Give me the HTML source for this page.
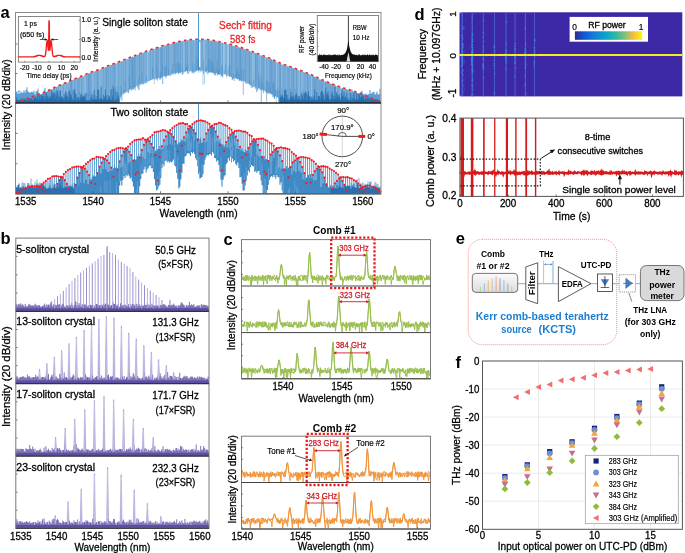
<!DOCTYPE html><html><head><meta charset="utf-8"><style>html,body{margin:0;padding:0;background:#fff;}svg{display:block;will-change:transform;}text{font-family:"Liberation Sans",sans-serif;}</style></head><body>
<svg width="685" height="553" viewBox="0 0 685 553">
<g id="pa">
<text x="0.5" y="18.2" font-size="16.5" font-weight="bold">a</text>
<path d="M18.5 102.3V103M19.1 101.6V103M21.2 101.1V103M21.7 100.8V103M26 99.8V103M28.1 98.6V103M31.3 97.4V103M31.8 97.9V103M39.2 95.1V103M40.3 94.5V103M40.8 93.9V103M43.5 92.9V103M50.9 89.9V103M53.5 89.2V103M55.1 88.1V103M59.4 85.6V103M59.9 85.3V103M60.9 85.3V103M61.5 84.6V103M63.1 84.2V103M64.7 83.4V103M65.2 83.5V103M66.8 83V103M67.8 82.7V103M69.4 81.6V103M73.1 79.7V103M76.3 78.3V103M80.6 76.7V103M83.7 76.2V103M84.8 75.3V103M85.3 75.1V103M86.9 74.7V103M92.7 72.5V103M93.3 72.3V103M95.4 71.2V103M96.5 70.8V103M99.6 70.1V103M100.2 69.4V103M102.8 68.2V103M104.4 67.9V103M107.6 66.3V103M111.8 64.9V103M113.9 63.8V103M115.5 63.4V103M116.6 63.5V103M117.7 62.9V103M118.7 62.3V102.3M120.8 61.4V96.9M121.9 61.4V100.5M124.5 60.5V93.5M127.7 58.9V91.9M136.7 55.5V86.2M141 53.8V84M142.6 53.5V84.4M147.3 51.3V82.2M147.9 51.8V82.4M148.9 50.6V80.8M151 50.1V79.4M154.2 49.1V83.9M159.5 47.6V79.5M165.4 45.4V76.7M167.5 44.6V76M169.1 44.4V74.7M171.2 44V73.6M172.2 43.3V74.9M177 42.4V72.6M181.8 41.3V72.2M183.4 41.6V74.1M183.9 40.9V72.7M184.4 41.1V72.1M189.7 40V71.5M192.9 40.2V71.9M194.5 40V72.6M196.1 39.6V72.2M198.7 40.1V72.8M199.3 39.5V70.3M200.9 40V71.1M203 39.7V84.9M203.5 39.7V73.6M204.6 39.8V84M205.1 39.6V71.1M206.7 39.9V72.9M221 42.4V76.9M221.5 42.6V75.7M223.1 42.9V75.3M223.7 43.5V74M224.2 43.7V74.1M224.7 43.4V74.1M226.8 44.4V77.9M227.4 44V74.7M227.9 43.9V76M228.4 44.1V75.2M229 44.2V75.6M230.5 45.1V77M244.3 49V81.2M245.9 49.9V83.5M247.5 50.4V83.6M250.7 51.4V85.1M252.3 51.9V87.8M252.8 52.1V84.9M253.9 52.6V86.3M254.4 52.6V87.6M258.6 54.2V87.6M259.7 54.9V88.9M260.2 55.3V89.1M265 57V90.6M265.5 57.1V91.2M275.1 61.2V96.2M276.1 61.8V103M276.7 62.3V97.8M281.4 64.5V103M282.5 64.9V103M284.1 65.2V103M290.4 67.3V103M295.2 68.7V103M298.4 69.8V103M299.4 70.3V103M301.6 72.1V103M302.6 71.6V103M303.7 72.1V103M306.3 73V103M309.5 74.5V103M311.1 75V103M311.6 75.2V103M316.9 78V103M324.4 81.6V103M336 86.4V103M336.5 86V103M340.3 87.5V103M340.8 87.4V103M347.7 89.9V103M350.3 91V103M351.9 91.3V103M352.4 91V103M355.1 92.2V103M358.3 93.2V103M364.1 95.8V103M366.2 96.5V103M366.8 96.6V103M369.4 97.5V103M376.8 100.6V103M377.4 100.9V103" stroke="#7ab4de" stroke-width="0.62" fill="none"/>
<path d="M17 102.5V103M18 102.2V103M19.6 102.1V103M22.8 100.8V103M23.3 100.1V103M26.5 99.9V103M28.6 98.3V103M29.1 98.2V103M29.7 99.1V103M30.2 97.9V103M30.7 97.5V103M32.9 97.2V103M35 96V103M36 95.9V103M37.6 95V103M38.2 95.4V103M39.7 95V103M42.9 93.7V103M44 93V103M44.5 92.5V103M45 92.5V103M51.4 89.8V103M52.5 89.1V103M54.1 88.2V103M54.6 87.7V103M55.6 87.5V103M56.2 87.1V103M57.2 86.6V103M57.8 86.9V103M62.5 84.7V103M65.7 82.8V103M67.3 82.3V103M71 80.9V103M72.1 80.2V103M73.7 79.5V103M74.2 79.5V103M75.8 78.6V103M76.8 78.6V103M77.4 78V103M79 77.3V103M79.5 77.1V103M82.1 76.1V103M83.2 76V103M84.3 75.5V103M85.9 74.5V103M87.4 74.5V103M91.7 72.6V103M92.2 72.4V103M93.8 71.5V103M98.6 70.4V103M100.7 69.4V103M101.2 68.9V103M101.8 69.2V103M102.3 69V103M105.5 67.1V103M108.6 66.4V103M109.2 66.3V103M109.7 65.7V103M110.2 65.4V103M111.3 65V103M112.9 64.3V103M116.1 63.3V103M117.1 63.1V103M120.3 61.8V98.5M122.4 61V93.5M123 60.6V94.8M124 60.9V93.7M126.7 59.5V91M127.2 58.7V92.1M128.3 59.1V93.5M129.3 58V89.5M130.4 57.6V88.8M133 56.9V87.4M134.1 56.3V87.1M137.8 54.7V88.3M138.3 54.8V86.1M138.9 54.3V90M141.5 53.2V84.2M143.6 52.7V83.9M144.2 52.2V82.8M144.7 52V83.4M145.2 51.9V83.4M145.7 52.1V81.4M146.3 51.4V83.1M148.4 52.2V81M149.5 50.8V81.1M150 50V80.8M151.6 50.1V80M152.6 49.2V78.9M154.8 48.8V79.9M155.8 48.7V79.1M157.9 48.1V78.3M159 47.1V77.2M160.1 47.7V79.1M162.2 46.3V77.1M163.2 45.9V75.7M163.8 45.7V76.2M164.8 45.9V75.3M169.6 44.9V75.4M170.7 44.2V76.2M172.8 43.2V73.4M173.3 43.1V74.7M174.9 43.3V73.7M176 42.3V73.1M179.1 41.8V72.6M179.7 42.1V72.7M181.3 41.4V72.3M182.3 41.1V74.7M185.5 40.8V71.6M187.1 40.3V71M188.1 40V70.8M188.7 39.8V74M189.2 40.3V71M190.8 39.8V70.7M191.3 39.8V70.7M192.4 39.8V73M194 40.2V71.7M195 40V71.8M197.7 39.5V70M200.3 40V71.7M204 39.7V70.9M206.2 39.7V71M207.8 40V74.7M209.9 41V71.6M210.9 40.6V72.4M211.5 40.7V72.3M212.5 41.3V72.8M213.1 40.8V72.1M214.1 41.1V74.2M214.6 42V72.9M215.7 41.4V73.2M216.2 41.7V73.1M217.3 41.5V75.3M217.8 42.1V74.3M218.9 42.3V74M225.2 43.3V74.4M225.8 43.4V74.4M230 44.4V76.6M233.2 46V79M233.7 45.7V77.4M234.3 46.3V81.1M235.8 46.6V78M238 47V79.6M238.5 46.9V79.2M239 47.9V79.4M242.2 48.5V80.7M243.3 48.6V95M248.6 50.4V84M253.3 52.5V86.7M256 53.7V86.7M260.8 55.8V90.1M262.3 56.3V89.2M264.5 56.5V90.2M266.6 57.5V101.7M267.1 57.6V92.6M267.6 58V94.1M268.2 58.4V93.2M268.7 58.9V92.8M269.2 59.2V92.3M270.3 58.8V93.4M271.9 59.4V94.7M273.5 60.9V96.5M277.2 62V96.9M277.7 62.8V97.2M278.2 63.7V98.3M278.8 62.8V102.3M279.3 63.3V100.6M280.9 63.6V103M283 64.8V103M285.7 65.3V103M286.2 65.5V103M286.7 65.7V103M287.3 66.4V103M288.8 67V103M291 67.2V103M291.5 67.6V103M292.6 67.7V103M293.1 68.4V103M294.1 68.3V103M295.7 69.2V103M296.3 69.5V103M297.9 69.7V103M298.9 70.7V103M300 71.1V103M301 71V103M302.1 71.3V103M304.7 72.8V103M309 74.2V103M312.2 75.5V103M313.2 75.9V103M318 78.8V103M319.1 78.5V103M320.1 79.1V103M322.8 80.3V103M323.8 81.5V103M326.5 82.1V103M328.6 83.1V103M329.7 83.1V103M333.4 85V103M333.9 85.5V103M337.1 86.3V103M338.7 86.8V103M339.2 87.3V103M339.7 87.2V103M341.3 88V103M341.8 89.1V103M342.9 88.3V103M344 89.2V103M344.5 89.1V103M345.6 89V103M349.8 90.2V103M351.4 91.3V103M353.5 91.6V103M357.7 93V103M359.3 93.9V103M359.9 93.8V103M362.5 95V103M363.6 95.2V103M368.3 98V103M369.9 98.4V103M371 98.6V103M372.6 99.1V103M373.6 99.9V103M374.2 99.7V103M374.7 100V103M375.2 99.9V103M379.5 102.1V103" stroke="#5699cf" stroke-width="0.62" fill="none"/>
<path d="M15.9 102.9V103M16.4 102.7V103M20.1 101.5V103M20.7 101.3V103M22.3 100.5V103M23.8 100.3V103M25.4 100.3V103M27 98.9V103M32.3 97.1V103M33.4 96.9V103M33.9 96.9V103M36.6 95.4V103M37.1 95.2V103M38.7 94.6V103M41.3 94V103M45.6 92V103M46.1 92V103M46.6 92.2V103M47.2 91.5V103M47.7 91V103M48.2 90.9V103M51.9 89.6V103M53 88.8V103M58.3 86.2V103M58.8 85.8V103M60.4 85.1V103M62 84.6V103M63.6 83.7V103M64.1 83.8V103M68.4 82.7V103M68.9 81.6V103M70.5 81.9V103M72.6 80.1V103M75.3 79.3V103M78.4 77.9V103M80 77.1V103M81.1 77.4V103M81.6 76.7V103M82.7 76.8V103M86.4 75V103M88.5 73.5V103M89.6 73.5V103M90.1 73.4V103M90.6 72.9V103M91.2 72.5V103M94.3 71.7V103M94.9 71.1V103M95.9 70.8V103M97.5 70.3V103M98 70V103M99.1 69.9V103M103.9 68.6V103M104.9 67.3V103M106 67.2V103M106.5 66.9V103M112.4 64.7V103M113.4 64.1V103M119.2 62.2V101.4M119.8 62V100.4M123.5 60.6V92.7M125.1 60.1V92.1M125.6 60.2V92.4M126.1 59.6V92.8M128.8 59.2V92.7M130.9 57.3V88.5M131.4 57.5V90.6M134.6 55.8V87.6M135.7 55.9V87.1M136.2 55.5V85.8M137.3 55.2V86M139.9 54.8V83.9M140.4 54.3V85.2M146.8 52.3V81.4M150.5 50.4V80.1M152.1 49.4V79.8M153.2 49V78.7M153.7 48.9V79.3M155.3 48.4V78.2M156.3 48.2V79.4M157.4 48.2V80.8M158.5 47.4V78.1M160.6 47.4V79.4M161.6 46.7V77M164.3 45.6V76.3M165.9 45.2V78.5M166.4 45.5V75.8M168.5 44.6V75.7M170.1 44.7V75.3M171.7 43.8V74.2M174.4 42.7V73M176.5 42.4V72.9M177.5 42.7V72.4M178.1 42.1V73.6M178.6 41.8V73.7M180.2 41.5V73.1M186 40.6V70.9M186.6 41V70.8M187.6 40.3V73.4M190.3 40.7V71.5M193.4 40.1V73.4M195.6 40.2V71.1M197.2 40.4V70.5M201.4 40V70.6M201.9 39.8V71.6M202.5 39.7V70.4M205.6 39.7V71.8M208.8 40.7V72.6M209.3 40.1V72.3M210.4 40.8V72.6M213.6 41V73.4M219.9 42.5V74.1M220.5 42.6V74.5M222.1 42.5V75.6M222.6 42.8V77.2M226.3 43.9V76.1M231.1 45.1V76.5M232.1 45.2V79.6M232.7 46.1V80.2M234.8 45.9V78.5M235.3 46.1V77.8M236.9 46.5V78.3M237.4 47.3V79.1M240.1 47.8V79.2M241.1 48.2V79.9M241.7 48V81.5M242.7 48.4V81.1M243.8 48.6V80.9M246.4 50.2V84.1M247 49.8V82.3M248 50.9V83.5M249.1 50.9V83.4M250.2 51.4V85.4M251.2 52.1V87.7M251.7 51.9V85.5M254.9 53V87M256.5 53.4V92.2M257 53.6V88.4M257.6 54.2V90.9M258.1 54.4V89.3M261.3 55.2V102.2M261.8 55.9V90.4M263.4 56.3V93.3M263.9 56.7V91.2M266.1 57.2V92.4M272.4 60.6V94.5M272.9 60.4V97.3M274 60.9V97.6M274.5 61.3V98.8M282 64.5V103M283.5 64.7V103M284.6 65.9V103M285.1 65.3V103M287.8 66.1V103M288.3 66.2V103M289.4 67.5V103M289.9 66.8V103M294.7 68.6V103M297.3 69.7V103M300.5 71V103M303.2 71.8V103M304.2 72.3V103M305.3 72.7V103M305.8 73V103M306.9 73.8V103M307.9 73.7V103M308.5 73.9V103M310 75.3V103M310.6 74.9V103M312.7 75.9V103M314.3 76.5V103M315.3 77.5V103M315.9 77.3V103M317.5 77.9V103M318.5 78.7V103M319.6 80V103M320.6 79.9V103M321.2 80.1V103M323.3 80.5V103M324.9 81.1V103M325.9 82.2V103M327 82.2V103M327.5 82.4V103M328.1 82.5V103M330.7 83.7V103M331.2 84.2V103M331.8 84.1V103M334.4 85.2V103M335.5 85.5V103M337.6 86.6V103M345 88.9V103M348.2 90.6V103M348.7 89.9V103M350.9 90.5V103M353 91.2V103M354 91.9V103M354.6 92.3V103M357.2 93.1V103M360.4 94.4V103M360.9 94.5V103M361.5 94.7V103M362 94.6V103M363 95.2V103M365.2 95.9V103M365.7 96.4V103M368.9 97.2V103M370.5 97.9V103M371.5 98.4V103M373.1 99.8V103M376.3 100.6V103M378.4 101.3V103M378.9 101.9V103M380 101.8V103M380.5 102.4V103" stroke="#478ec9" stroke-width="0.62" fill="none"/>
<path d="M17.5 102.6V103M24.4 100.4V103M24.9 99.8V103M27.6 99.3V103M34.4 96.5V103M35.5 96.2V103M41.9 94.4V103M42.4 93.6V103M48.8 90.5V103M49.3 90.8V103M49.8 90.2V103M50.3 89.8V103M56.7 86.9V103M66.2 82.8V103M70 81V103M71.5 80.6V103M74.7 79.2V103M77.9 78.1V103M88 73.6V103M89 73.3V103M97 70.3V103M103.3 68.2V103M107.1 66.7V103M108.1 66.6V103M110.8 65V103M114.5 64.2V103M115 63.7V103M118.2 62.3V103M121.4 61.7V95.5M129.8 57.7V90.1M132 57.6V89.9M132.5 56.7V89.2M133.6 57V89.3M135.1 55.8V90.5M139.4 54.1V84.3M142 53V83.1M143.1 52.8V84.5M156.9 48.2V78.3M161.1 46.7V77.7M162.7 47.3V84M166.9 44.9V76.3M168 45.2V74.7M173.8 42.9V73M175.4 42.7V74.4M180.7 41.8V72.3M182.8 41V71.9M185 41V71.6M191.9 40.2V72.5M196.6 39.7V70.5M198.2 39.7V70.8M199.8 40.2V70.3M207.2 40.6V70.9M208.3 39.8V72.6M212 40.5V72.7M215.2 41V75.5M216.8 41.3V73M218.4 41.7V74.4M219.4 42.4V74.6M229.5 44.7V76.9M231.6 45.2V77.2M236.4 47.5V78.7M239.6 47.4V80.8M240.6 48.1V80.8M244.9 49.4V81.7M245.4 49.3V82.7M249.6 51.2V84.5M255.5 53V88.8M259.2 55.2V88.2M262.9 56.3V89.5M269.8 58.6V94.2M270.8 59V93.2M271.4 59.3V94.3M275.6 61.5V96.3M279.8 63.5V102.9M280.4 63.8V103M292 67.9V103M293.6 68.4V103M296.8 69.3V103M307.4 73.5V103M313.8 76.4V103M314.8 76.6V103M316.4 77.8V103M321.7 80V103M322.2 80.5V103M325.4 81.4V103M329.1 83.2V103M330.2 83.6V103M332.3 84.2V103M332.8 84.5V103M335 85.2V103M338.1 87.5V103M342.4 88V103M343.4 88.6V103M346.1 89.4V103M346.6 89.4V103M347.1 89.4V103M349.3 90V103M355.6 92.1V103M356.2 92.5V103M356.7 93.1V103M358.8 93.5V103M364.6 95.6V103M367.3 97.2V103M367.8 97.9V103M372.1 98.7V103M375.8 100.2V103M377.9 101.4V103" stroke="#3781c0" stroke-width="0.62" fill="none"/>
<path d="M41.3 101.4V103M42.4 99.2V103M45.6 99.2V103M46.6 100.4V103M48.8 99.7V103M50.9 99.5V103M51.9 97.9V103M54.1 98.1V103M56.2 95.9V103M58.3 97.8V103M62.5 99.5V103M64.7 100.8V103M65.7 98.6V103M66.8 95.5V103M67.8 100.6V103M68.9 100.2V103M70 95.6V103M71 100.7V103M72.1 99.6V103M73.1 100.3V103M75.3 96.6V103M76.3 95.4V103M77.4 97.7V103M79.5 91.5V103M81.6 94.2V103M82.7 94.7V103M83.7 95.9V103M84.8 93V103M86.9 93.5V103M88 92.6V103M90.1 93V103M91.2 92V103M93.3 93.7V103M94.3 98V103M95.4 97.9V103M97.5 90.2V103M99.6 90.8V103M100.7 95.1V103M104.9 99.1V103M111.3 89.3V103M112.4 98.3V103M115.5 86.9V103M116.6 90.6V103M117.7 86.2V103M120.8 84.8V96.9M121.9 90.3V100.5M124 88.9V93.7M125.1 81.1V92.1M129.3 77.5V89.5M130.4 85.3V88.8M133.6 85.9V89.3M134.6 79.5V87.6M138.9 77.3V90M142 71V83.1M146.3 76.2V83.1M152.6 67.4V78.9M156.9 65.9V78.3M160.1 71.7V79.1M161.1 74.6V77.7M162.2 64.1V77.1M164.3 67V76.3M165.4 66.2V76.7M166.4 64.9V75.8M168.5 68.9V75.7M171.7 70.7V74.2M172.8 63.5V73.4M176 64V73.1M178.1 62.6V73.6M179.1 62.9V72.6M180.2 65.5V73.1M182.3 67.9V74.7M185.5 67.8V71.6M186.6 65.8V70.8M187.6 63.1V73.4M192.9 63.2V71.9M195 63.5V71.8M197.2 58.2V70.5M198.2 60.6V70.8M199.3 61.1V70.3M203.5 59.1V73.6M205.6 68V71.8M206.7 65.4V72.9M208.8 59.1V72.6M209.9 59.2V71.6M210.9 60.3V72.4M212 63.3V72.7M213.1 61.7V72.1M214.1 67.2V74.2M215.2 72V75.5M216.2 69.1V73.1M217.3 60.8V75.3M218.4 70.1V74.4M219.4 69.7V74.6M221.5 65V75.7M222.6 67.2V77.2M224.7 70.2V74.1M225.8 64.4V74.4M227.9 69.5V76M229 66.7V75.6M230 64.4V76.6M233.2 73.1V79M235.3 74.6V77.8M236.4 71.3V78.7M237.4 67.6V79.1M238.5 71.5V79.2M239.6 74.1V80.8M241.7 69.2V81.5M243.8 69.9V80.9M250.2 80.6V85.4M252.3 83.6V87.8M253.3 79.5V86.7M258.6 73V87.6M259.7 80.4V88.9M260.8 75.7V90.1M261.8 81.8V90.4M262.9 83.4V89.5M263.9 86.3V91.2M266.1 81V92.4M267.1 80.4V92.6M268.2 81.9V93.2M269.2 82.9V92.3M270.3 88.4V93.4M272.4 83.1V94.5M273.5 82.5V96.5M274.5 84.3V98.8M275.6 89.2V96.3M276.7 90.2V97.8M277.7 87.7V97.2M278.8 90.4V102.3M279.8 89.9V102.9M282 88.6V103M283 96.3V103M286.2 94.6V103M288.3 95V103M290.4 88.8V103M292.6 91.7V103M295.7 88.6V103M298.9 95.7V103M300 94.8V103M301 96V103M302.1 96V103M303.2 89.8V103M304.2 92.1V103M305.3 91.5V103M307.4 98.2V103M308.5 95.4V103M312.7 95.2V103M313.8 96.7V103M314.8 96.1V103M315.9 99.1V103M316.9 97.5V103M319.1 97.1V103M320.1 94.4V103M321.2 92.8V103M323.3 94.4V103M324.4 99.4V103M326.5 97.9V103M330.7 97.8V103M333.9 100.6V103M335 95.4V103M338.1 96.2V103M339.2 99.1V103M340.3 99.1V103M342.4 100.8V103M343.4 99.3V103M344.5 98.4V103M345.6 96.7V103M346.6 98.2V103M347.7 97.9V103M348.7 100.3V103M350.9 101.2V103M353 97.7V103M355.1 98.5V103M360.4 100.1V103M361.5 101.1V103" stroke="#3d86c3" stroke-width="0.7" fill="none" opacity="0.6"/>
<path d="M16 92.1V103M17 91.2V103M18 94V103M19 90V103M20 93.5V103M21 91.3V103M22 92.9V103M23 92.5V103M24 90.1V103M25 92.5V103M26 90.1V103M27 87.3V103M28 91.6V103M29 92.1V103M30 92.9V103M31 92.1V103M32 91.6V103M33 92.5V103M34 90.5V103M35 94.4V103M36 91.6V103M37 91V103M38 88.7V103M39 93V103M40 94.9V103M41 94.9V103M42 94.9V103M43 93.9V103M44 90.6V103M45 87.7V103M46 92.2V103M47 92.2V103M48 94.3V103M49 93.4V103M50 94.7V103M51 93.3V103M52 93.9V103M53 93.5V103M54 88V103M55 91.8V103M56 91V103M57 90.8V103M58 91.9V103M59 94.5V103M351 92.9V103M352 89.6V103M353 93.7V103M354 92V103M355 93.5V103M356 94.8V103M357 93.4V103M358 94.4V103M359 93.5V103M360 94V103M361 91.8V103M362 91V103M363 93.8V103M364 94.2V103M365 94.4V103M366 93.3V103M367 95V103M368 94.3V103M369 94.1V103M370 90.1V103M371 93.9V103M372 92.6V103M373 92.3V103M374 91.4V103M375 94.7V103M376 93.2V103M377 91.6V103M378 94.7V103M379 93.9V103M380 88.7V103" stroke="#5a9dd2" stroke-width="1.05" fill="none"/>
<path d="M16 97V103M17 98.8V103M18 100V103M19 100.1V103M20 100.3V103M21 98.3V103M22 100V103M23 100.3V103M24 98.3V103M25 99.3V103M26 99.7V103M27 100.1V103M28 100.2V103M29 99.9V103M30 100.2V103M31 99.9V103M32 98.3V103M33 100V103M34 99.4V103M35 98.9V103M36 99.5V103M37 98.8V103M38 99.5V103M39 100.4V103M40 99.2V103M41 97.9V103M42 99.7V103M43 99.3V103M44 96.3V103M45 99.6V103M46 99.6V103M47 98.1V103M48 99.2V103M49 96.5V103M50 98.5V103M51 98.8V103M52 99.6V103M53 100.1V103M54 99.5V103M55 99.1V103M56 100.3V103M57 99.9V103M58 100.4V103M59 100.3V103M60 99.6V103M61 99.3V103M62 97.9V103M63 98.7V103M64 100.2V103M65 99.9V103M66 100.5V103M67 96.6V103M68 100.4V103M69 98.5V103M70 100.1V103M71 100.1V103M72 98.9V103M73 100.5V103M74 99.4V103M75 100.2V103M76 100.5V103M77 99.7V103M78 97V103M79 99.3V103M80 100V103M81 97.7V103M82 100V103M83 99.6V103M84 97.6V103M85 98.3V103M86 99.7V103M87 100.4V103M88 100.3V103M89 100.4V103M90 100.1V103M91 98.1V103M92 95.1V103M93 99.5V103M94 99.3V103M95 99.9V103M96 98.9V103M97 100.1V103M98 98.8V103M99 100.2V103M100 98.7V103M101 98.1V103M102 99.8V103M103 99.1V103M104 100V103M105 97.4V103M106 100V103M107 98.9V103M108 100V103M109 96V103M110 98.7V103M111 100V103M112 99.5V103M113 100.1V103M114 100.2V103M115 99V103M116 100.4V103M117 99.8V103M118 99.4V103M119 99.3V103M280 98.8V103M281 100.3V103M282 97.6V103M283 100.1V103M284 98.7V103M285 97V103M286 100.1V103M287 94.8V103M288 99.1V103M289 100V103M290 99.7V103M291 97.1V103M292 96.2V103M293 99.2V103M294 98.3V103M295 99.9V103M296 100.4V103M297 99.6V103M298 99V103M299 98V103M300 100.3V103M301 99.9V103M302 100.5V103M303 99.1V103M304 99.6V103M305 99.2V103M306 100.1V103M307 100V103M308 99.7V103M309 97.6V103M310 99.4V103M311 100.4V103M312 98.7V103M313 99.9V103M314 99.9V103M315 100V103M316 100.1V103M317 100.3V103M318 99.9V103M319 98.6V103M320 100.3V103M321 98.1V103M322 97.9V103M323 99.2V103M324 100.5V103M325 99.6V103M326 100V103M327 97.9V103M328 95.8V103M329 99.8V103M330 99.2V103M331 99.3V103M332 99.8V103M333 98.3V103M334 99.6V103M335 99.5V103M336 99.6V103M337 98.5V103M338 98.8V103M339 96.6V103M340 99.4V103M341 100.1V103M342 96.1V103M343 100.5V103M344 100.2V103M345 97.6V103M346 99.7V103M347 99.2V103M348 99.9V103M349 100.5V103M350 99.5V103M351 100.5V103M352 97.3V103M353 100.4V103M354 99.2V103M355 99.2V103M356 100V103M357 98.4V103M358 99.8V103M359 99.5V103M360 99.6V103M361 97V103M362 99.5V103M363 97.7V103M364 99.2V103M365 99.7V103M366 98.5V103M367 98.2V103M368 96.5V103M369 100.2V103M370 98.5V103M371 99.5V103M372 99.7V103M373 98.7V103M374 98.9V103M375 99V103M376 99.7V103M377 100.5V103M378 100.1V103M379 100.1V103M380 100.3V103" stroke="#2a70b1" stroke-width="1.05" fill="none"/>
<path d="M17.9 102.8V103M19.3 102.3V103M20.7 101.8V103M22.1 101.3V103M22.8 101.1V103M24.2 100.6V103M24.9 100.4V103M26.3 99.9V103M28.4 99.1V103M29.1 98.9V103M29.8 98.6V103M30.5 98.4V103M31.2 98.1V103M34 97.1V103M34.7 97.3V103M35.4 96.6V103M36.1 97.4V103M37.5 95.8V103M38.9 95.3V103M39.6 95.1V103M41 94.6V103M41.7 95.9V103M42.4 96.2V103M43.1 93.8V103M43.8 97.2V103M45.9 92.6V103M46.6 93V103M47.3 96V103M50.1 97.7V103M50.8 96.3V103M51.5 90V103M52.2 95.3V103M52.9 92.4V103M53.6 93V103M54.3 95V103M55 92.8V103M55.7 97.5V103M56.4 94.6V103M57.1 90.2V103M57.8 91.8V103M58.5 96.6V103M59.2 97.3V103M59.9 90.1V103M60.6 90.8V103M61.3 96.2V103M62 97V103M62.7 97.1V103M64.1 94V103M64.8 96.5V103M65.5 91.5V103M66.2 95.8V103M66.9 92.8V103M67.6 97.3V103M69 91.1V103M69.7 90.5V103M70.4 94.7V103M71.1 94V103M71.8 97V103M73.2 90.2V103M74.6 89.1V103M75.3 93.7V103M76 93.5V103M78.1 97.4V103M80.2 96.9V103M80.9 93.7V103M81.6 94.7V103M82.3 96.3V103M83 97.8V103M83.7 96.5V103M84.4 95.4V103M85.8 93.2V103M94.2 89.9V103M94.9 95.2V103M97 96.3V103M97.7 89.7V103M98.4 89.5V103M101.2 86.6V103M103.3 94.8V103M104.7 96.5V103M105.4 89.6V103M106.1 95.5V103M108.2 95.1V103M109.6 97.8V103M111 89.4V103M112.4 95.5V103M113.1 85.8V103M113.8 88.6V103M115.9 92.2V103M117.3 97.1V103M118 92.4V103M118.7 95.5V103M280.4 96.8V103M281.1 94.7V103M281.8 96.5V103M282.5 95.2V103M283.9 97.8V103M284.6 90.1V103M285.3 89.7V103M286 89.7V103M290.2 97V103M290.9 92.3V103M292.3 97.9V103M293.7 95.5V103M295.1 96.5V103M295.8 94V103M296.5 93.5V103M297.9 95.8V103M299.3 96.4V103M301.4 92.8V103M302.1 96.9V103M302.8 94.7V103M304.2 92.9V103M304.9 93.7V103M305.6 91.7V103M306.3 92.8V103M307.7 94.9V103M308.4 91.2V103M309.1 96V103M309.8 96.5V103M311.2 96.4V103M311.9 97.8V103M314 96.1V103M314.7 89.3V103M316.8 92.1V103M318.2 96.3V103M318.9 96.1V103M319.6 96.1V103M321 92.3V103M321.7 91.1V103M322.4 91.3V103M323.1 94.3V103M323.8 95.6V103M325.2 92.2V103M325.9 87.6V103M326.6 94.6V103M327.3 93.3V103M328 91.4V103M328.7 95.4V103M331.5 94V103M332.2 91.9V103M333.6 95.5V103M335 87V103M335.7 96.1V103M336.4 92V103M337.1 94.2V103M337.8 95.1V103M338.5 97.2V103M339.2 94.2V103M339.9 97.2V103M341.3 92.9V103M342 89.8V103M342.7 96.8V103M343.4 95.5V103M344.1 92.1V103M345.5 96.6V103M346.9 93.2V103M348.3 97.9V103M350.4 93V103M353.2 97.9V103M353.9 92.2V103M356.7 93.2V103M358.8 94V103M359.5 94.6V103M360.9 96.8V103M361.6 95.1V103M362.3 95.4V103M363 95.7V103M363.7 96V103M365.8 96.8V103M368.6 97.9V103M370 98.5V103M370.7 98.8V103M371.4 99V103M372.8 99.6V103M373.5 99.9V103M374.2 100.2V103M374.9 100.5V103M377.7 101.6V103M378.4 101.9V103" stroke="#256dae" stroke-width="0.8" fill="none"/>
<path d="M198.5 13V70M198.5 103.5V174" stroke="#3b8ccb" stroke-width="0.9"/>
<path d="M199.7 42V67" stroke="#fff" stroke-width="1.2"/>
<polyline points="15.5,103 17.5,101.9 19.5,101.2 21.5,100.5 23.5,99.8 25.5,99.1 27.5,98.4 29.5,97.7 31.5,97 33.5,96.3 35.5,95.6 37.5,94.8 39.5,94.1 41.5,93.4 43.5,92.7 45.5,91.8 47.5,90.8 49.5,89.9 51.5,89 53.5,88 55.5,87.1 57.5,86.1 59.5,85.2 61.5,84.4 63.5,83.5 65.5,82.7 67.5,81.8 69.5,81 71.5,80.1 73.5,79.3 75.5,78.5 77.5,77.6 79.5,76.8 81.5,76 83.5,75.2 85.5,74.4 87.5,73.6 89.5,72.8 91.5,72.1 93.5,71.4 95.5,70.6 97.5,69.9 99.5,69.1 101.5,68.4 103.5,67.6 105.5,66.9 107.5,66.1 109.5,65.3 111.5,64.5 113.5,63.8 115.5,63 117.5,62.3 119.5,61.5 121.5,60.7 123.5,60 125.5,59.2 127.5,58.4 129.5,57.6 131.5,56.8 133.5,56 135.5,55.3 137.5,54.5 139.5,53.7 141.5,53 143.5,52.2 145.5,51.5 147.5,50.7 149.5,50 151.5,49.3 153.5,48.7 155.5,48.1 157.5,47.4 159.5,46.8 161.5,46.1 163.5,45.5 165.5,45 167.5,44.4 169.5,43.9 171.5,43.3 173.5,42.7 175.5,42.2 177.5,41.8 179.5,41.4 181.5,41 183.5,40.6 185.5,40.2 187.5,39.8 189.5,39.6 191.5,39.5 193.5,39.4 195.5,39.3 197.5,39.2 199.5,39.3 201.5,39.3 203.5,39.4 205.5,39.4 207.5,39.5 209.5,39.8 211.5,40.1 213.5,40.4 215.5,40.8 217.5,41.2 219.5,41.7 221.5,42.1 223.5,42.6 225.5,43 227.5,43.5 229.5,44 231.5,44.6 233.5,45.2 235.5,45.8 237.5,46.4 239.5,47 241.5,47.6 243.5,48.3 245.5,49 247.5,49.8 249.5,50.5 251.5,51.3 253.5,52 255.5,52.8 257.5,53.5 259.5,54.3 261.5,55 263.5,55.8 265.5,56.5 267.5,57.3 269.5,58.1 271.5,59 273.5,60 275.5,60.9 277.5,61.8 279.5,62.7 281.5,63.6 283.5,64.3 285.5,65 287.5,65.7 289.5,66.4 291.5,67.1 293.5,67.8 295.5,68.5 297.5,69.3 299.5,70.1 301.5,70.8 303.5,71.6 305.5,72.4 307.5,73.2 309.5,74 311.5,74.8 313.5,75.7 315.5,76.6 317.5,77.5 319.5,78.5 321.5,79.4 323.5,80.3 325.5,81.2 327.5,82 329.5,82.8 331.5,83.6 333.5,84.4 335.5,85.2 337.5,85.9 339.5,86.7 341.5,87.4 343.5,88 345.5,88.6 347.5,89.2 349.5,89.8 351.5,90.4 353.5,91 355.5,91.7 357.5,92.5 359.5,93.3 361.5,94.1 363.5,94.9 365.5,95.7 367.5,96.5 369.5,97.3 371.5,98.1 373.5,98.9 375.5,99.7 377.5,100.6 379.5,101.4" fill="none" stroke="#ea282c" stroke-width="1.6" stroke-dasharray="2.6 3.2"/>
<path d="M16.3 192.7V193.8M19.5 192.3V193.8M21.6 190V193.8M23.7 188.9V193.8M25.8 187.8V193.8M27.9 186.7V193.8M30 186.6V193.8M32.1 186.1V193.8M34.2 186.3V193.8M36.3 186.7V193.8M38.5 186.5V193.8M41.6 184.3V193.8M43.7 182.6V193.8M45.8 180.9V193.8M47.9 178.8V193.8M50.1 178.3V193.8M52.2 176.5V193.8M54.3 176.2V193.4M56.4 176V193.8M58.5 176.5V193.8M63.8 174V193.5M65.9 171.8V190.5M68 170.1V190.2M70.1 169.1V186.7M72.2 167.6V185.2M74.3 167V184M76.4 166.7V185.1M78.5 166.5V186.4M80.7 166.9V183.4M83.8 166V184.3M85.9 163.9V180.7M88 162.1V185.1M90.1 160.4V180.5M92.3 158.9V178M94.4 158.6V177.5M96.5 156.9V176M98.6 157.1V175.7M100.7 157.6V174.4M102.8 157.6V170.3M106 156.2V170.6M108.1 154V173M110.2 151.9V172.2M112.3 150.3V171.6M114.4 149.8V166.4M116.5 148.5V167.8M118.6 148V166.6M120.7 147.8V168.4M122.9 148.3V167.3M128.1 146.5V164.3M130.2 143.9V162.9M132.3 142.1V161.8M134.5 140.4V160.2M136.6 139.8V160.5M138.7 139.5V155.1M140.8 139.4V155M142.9 138.2V157.7M145 139.7V159.9M148.2 138.7V152.9M150.3 137V154.5M152.4 135.2V153.7M154.5 132.4V154M156.6 131.8V152.1M158.7 131.5V150.1M160.8 130.8V150.5M162.9 130.1V149.8M165.1 130.4V146.8M167.2 131.5V146.5M170.3 130.2V145M172.4 128.2V146.2M174.5 126.4V146.3M176.7 125V143.9M178.8 123.7V143.1M180.9 123.3V142M183 123.2V141.7M185.1 124.2V142.7M187.2 124V138.9M192.5 124.2V136.9M194.6 122.4V141.4M196.7 121.2V140.5M198.8 120.6V144.6M200.9 120.3V138.6M203 120.9V141.8M205.1 121.3V143.2M207.3 122.5V142.4M209.4 123.9V139.3M214.6 124.2V143.9M216.7 123.9V142.3M218.9 122.8V142.7M221 123.1V144.4M223.1 124.4V145.6M225.2 125.2V145.4M227.3 126V148.6M229.4 128.2V149.6M231.5 129.8V148.5M234.7 131.1V146.3M236.8 130.9V149.5M238.9 130.6V149.9M241 131V151.5M243.1 131.6V152.2M245.2 131.7V150.5M247.3 132.9V152M249.5 135.1V154.3M251.6 136.2V158.1M256.8 139.1V155.6M258.9 138.8V157.8M261.1 138.7V157M263.2 138.7V158.3M265.3 139.8V160.7M267.4 140.8V160.8M269.5 142.5V162.9M271.6 143.6V162.2M273.7 145.8V158.8M279 147.8V168.5M281.1 147.3V169.7M283.2 148V169.2M285.3 148.2V169.5M287.4 148.8V170.2M289.5 149.6V167.5M291.7 152V175.6M293.8 153.9V171.9M295.9 155.7V173.1M299 157.6V171.8M301.1 157.1V173.7M303.3 157.1V180.2M305.4 157.5V180.6M307.5 158V177.7M309.6 158.5V178.9M311.7 160.2V179.2M313.8 161.6V181.4M315.9 163.9V180.9M321.2 166.4V188M323.3 166.2V184.3M325.4 166.7V185.2M327.5 167.1V187.1M329.6 168.6V188.8M331.7 169.8V188.9M333.9 171V192.1M336 172.8V190.8M338.1 174.5V191.3M341.2 177.4V193.8M343.3 177.1V193.8M345.5 177.4V193.8M347.6 177.2V193.8M349.7 178.1V193.8M351.8 178.6V193.8M353.9 180.2V193.8M356 181.3V193.8M358.1 183.6V193.8M360.2 185.3V193.8M363.4 186.9V193.8M365.5 186V193.8M367.6 185.6V193.8M369.7 185.5V193.8M371.8 187V193.8M373.9 187.4V193.8M376.1 188.7V193.8M378.2 190V193.8M380.3 191.6V193.8" stroke="#5e9fd3" stroke-width="1.05" fill="none"/>
<path d="M16.3 193.8V193.8M17.4 193.8V193.8M18.4 193.7V193.8M19.5 193.8V193.8M20.5 193.8V193.8M21.6 193.8V193.8M22.6 193.8V193.8M23.7 193.8V193.8M24.7 193.8V193.8M25.8 193.8V193.8M26.8 193.8V193.8M27.9 193.8V193.8M29 193.8V193.8M30 193.8V193.8M31.1 193.8V193.8M32.1 193.8V193.8M33.2 193.8V193.8M34.2 193.8V193.8M35.3 193.8V193.8M36.3 193.8V193.8M37.4 191V193.8M38.5 193.8V193.8M39.5 187.5V193.8M40.6 186.3V193.8M41.6 193.8V193.8M42.7 189V193.8M43.7 193.8V193.8M44.8 191.5V193.8M45.8 193.8V193.8M46.9 193.8V193.8M47.9 193.8V193.8M49 193.8V193.8M50.1 193.8V193.8M51.1 193.2V193.8M52.2 193.8V193.8M53.2 193.8V193.8M54.3 192.4V193.8M55.3 189.3V193.8M56.4 193.8V193.8M57.4 183.8V193.8M58.5 193.8V193.8M59.6 180.1V193.8M60.6 177.1V193.8M61.7 176.8V193.8M62.7 177.6V193.8M63.8 192.5V193.8M64.8 180.1V193.8M65.9 189.5V193.8M66.9 183.9V193.8M68 189.2V193.8M69 185.9V193.8M70.1 185.7V193.8M71.2 186.2V193.8M72.2 184.2V193.8M73.3 189.3V193.8M74.3 183V193.8M75.4 183.7V193.8M76.4 184.1V193.8M77.5 177.7V193.8M78.5 185.4V193.8M79.6 173.2V193.8M80.7 182.4V193.8M81.7 168.3V193.8M82.8 167.2V193.8M83.8 183.3V193.8M84.9 168.9V193.8M85.9 179.7V193.8M87 171.6V193.8M88 184.1V193.8M89.1 175.1V193.8M90.1 179.5V193.8M91.2 179.2V193.8M92.3 177V193.8M93.3 175.6V193.8M94.4 176.5V193.8M95.4 176.3V193.8M96.5 175V193.8M97.5 172.9V193.8M98.6 174.7V193.8M99.6 166.8V193.8M100.7 173.4V193.8M101.8 162.6V193.8M102.8 169.3V193.8M103.9 159.2V193.8M104.9 158.8V193.8M106 169.6V193.8M107 160.4V193.8M108.1 172V193.8M109.1 163V193.8M110.2 171.2V193.8M111.2 167.7V193.8M112.3 170.6V193.8M113.4 168.2V193.8M114.4 165.4V193.8M115.5 167.8V193.8M116.5 166.8V193.8M117.6 168.3V193.8M118.6 165.6V193.8M119.7 161.4V185.4M120.7 167.4V180.8M121.8 155.7V185.5M122.9 166.3V179.7M123.9 151.7V176.1M125 149V178M126 148.1V175M127.1 149.5V176.3M128.1 163.3V174.2M129.2 151.8V176.2M130.2 161.9V178.8M131.3 155.2V177.4M132.3 160.8V181.5M133.4 159.8V186.5M134.5 159.2V193.2M135.5 159.4V193.8M136.6 159.5V193.8M137.6 156.3V193.8M138.7 154.1V192.9M139.7 157.4V186.3M140.8 154V179.1M141.8 150.2V173.9M142.9 156.7V173.6M144 144.8V169.6M145 158.9V166.7M146.1 141.8V172.6M147.1 139.9V169.4M148.2 151.9V168.2M149.2 141.2V165.9M150.3 153.5V165.2M151.3 143.9V168.2M152.4 152.7V168.3M153.4 147.7V172M154.5 153V179.2M155.6 150.6V185.5M156.6 151.1V190.6M157.7 149V189.2M158.7 149.1V186.6M159.8 146V184.7M160.8 149.5V178M161.9 146.3V168.2M162.9 148.8V164M164 140.4V166.2M165.1 145.8V160.9M166.1 136.3V160.2M167.2 145.5V162.2M168.2 132.7V160.9M169.3 132.5V162.8M170.3 144V161.5M171.4 134.1V162.3M172.4 145.2V161.6M173.5 136.9V159.4M174.5 145.3V165.2M175.6 141.4V166.6M176.7 142.9V173.1M177.7 144.2V178.7M178.8 142.1V188.4M179.8 142.7V186.7M180.9 141V179.4M181.9 139.2V172.8M183 140.7V163.5M184 137.4V163.9M185.1 141.7V156.4M186.2 132.4V155.5M187.2 137.9V153.2M188.3 128.8V153.3M189.3 126V153.5M190.4 126V156M191.4 127.7V152.1M192.5 135.9V153.3M193.5 130V151.8M194.6 140.4V154M195.6 133.4V158.3M196.7 139.5V160.3M197.8 137.9V166.2M198.8 143.6V171.8M199.9 138.9V178.4M200.9 137.6V178M202 142.8V176.9M203 140.8V174.3M204.1 139V164.7M205.1 142.2V159.5M206.2 133.5V156.7M207.3 141.4V155M208.3 129.8V155.6M209.4 138.3V154.3M210.4 127V154M211.5 126.1V155.6M212.5 125.5V151.8M213.6 128V153.5M214.6 142.9V158M215.7 131.6V158.2M216.7 141.3V161.7M217.8 136.7V160.2M218.9 141.7V165M219.9 138.7V171.8M221 143.4V179.4M222 144.4V186.7M223.1 144.6V179.7M224.1 146.5V176.4M225.2 144.4V175M226.2 142V164.2M227.3 147.6V162.4M228.4 137.5V158.1M229.4 148.6V160.7M230.5 134.5V156.7M231.5 147.5V162.2M232.6 132.6V158.5M233.6 132.8V161.4M234.7 145.3V160.3M235.7 136.7V164M236.8 148.5V165.6M237.8 140.3V162.4M238.9 148.9V168.1M240 146.8V177.3M241 150.5V177.1M242.1 148.4V183.8M243.1 151.2V190.6M244.2 152V190.6M245.2 149.5V185.4M246.3 150.5V180.8M247.3 151V175.5M248.4 147.8V170.4M249.5 153.3V172.2M250.5 144.1V167.2M251.6 157.1V164.9M252.6 141.4V166.1M253.7 139.2V166.6M254.7 139.8V171.7M255.8 141.7V171.3M256.8 154.6V172.8M257.9 144.8V171.1M258.9 156.8V170.9M260 150.2V174.7M261.1 156V180.6M262.1 156.3V185.2M263.2 157.3V193.8M264.2 155.8V193.8M265.3 159.7V193.8M266.3 159.1V193.8M267.4 159.8V189.9M268.4 160.7V184.8M269.5 161.9V179.7M270.6 154.6V177.1M271.6 161.2V175.9M272.7 152.1V177.3M273.7 157.8V175M274.8 150V176.8M275.8 148.9V178.7M276.9 148.2V175.1M277.9 151.6V177M279 167.5V177.2M280 155.4V184.8M281.1 168.7V182.3M282.2 161.1V190.4M283.2 168.2V193.8M284.3 169.7V193.8M285.3 168.5V193.8M286.4 166.2V193.8M287.4 169.2V193.8M288.5 167.7V193.8M289.5 166.5V193.8M290.6 167V193.8M291.7 174.6V193.8M292.7 162.4V193.8M293.8 170.9V193.8M294.8 160.5V193.8M295.9 172.1V193.8M296.9 158.5V193.8M298 158.4V193.8M299 170.8V193.8M300.1 162.2V193.8M301.1 172.7V193.8M302.2 167V193.8M303.3 179.2V193.8M304.3 173.2V193.8M305.4 179.6V193.8M306.4 177.4V193.8M307.5 176.7V193.8M308.5 174.7V193.8M309.6 177.9V193.8M310.6 174V193.8M311.7 178.2V193.8M312.8 175.1V193.8M313.8 180.4V193.8M314.9 171.2V193.8M315.9 179.9V193.8M317 168.8V193.8M318 166.3V193.8M319.1 166.9V193.8M320.1 169.6V193.8M321.2 187V193.8M322.2 172.3V193.8M323.3 183.3V193.8M324.4 177.7V193.8M325.4 184.2V193.8M326.5 182.9V193.8M327.5 186.1V193.8M328.6 187.2V193.8M329.6 187.8V193.8M330.7 185.2V193.8M331.7 187.9V193.8M332.8 185.2V193.8M333.9 191.1V193.8M334.9 183.4V193.8M336 189.8V193.8M337 180.9V193.8M338.1 190.3V193.8M339.1 178.5V193.8M340.2 177.4V193.8M341.2 193.8V193.8M342.3 180.9V193.8M343.3 193.8V193.8M344.4 184.9V193.8M345.5 193.8V193.8M346.5 191V193.8M347.6 193.8V193.8M348.6 193.8V193.8M349.7 193.8V193.8M350.7 193.8V193.8M351.8 193.8V193.8M352.8 193.8V193.8M353.9 193.8V193.8M355 193.8V193.8M356 193.8V193.8M357.1 193V193.8M358.1 193.8V193.8M359.2 189.5V193.8M360.2 193.8V193.8M361.3 188.2V193.8M362.3 187.7V193.8M363.4 193.8V193.8M364.4 191.3V193.8M365.5 193.8V193.8M366.6 193.8V193.8M367.6 193.8V193.8M368.7 193.8V193.8M369.7 193.8V193.8M370.8 193.8V193.8M371.8 193.8V193.8M372.9 193.8V193.8M373.9 193.8V193.8M375 193.8V193.8M376.1 193.8V193.8M377.1 193.8V193.8M378.2 193.8V193.8M379.2 193.8V193.8M380.3 193.8V193.8" stroke="#3f89c5" stroke-width="1.1" fill="none"/>
<path d="M16.3 193.8V193.8M17.4 193.8V193.8M19.5 193.8V193.8M20.5 193.8V193.8M21.6 193.8V193.8M24.7 193.8V193.8M25.8 193.8V193.8M26.8 193.8V193.8M27.9 193.8V193.8M30 193.8V193.8M35.3 193.8V193.8M47.9 193.8V193.8M49 193.8V193.8M55.3 193.8V193.8M63.8 193.8V193.8M65.9 193.8V193.8M66.9 193.8V193.8M69 193.8V193.8M70.1 193.8V193.8M71.2 193.8V193.8M72.2 193.8V193.8M73.3 193.8V193.8M74.3 193.8V193.8M75.4 193.8V193.8M77.5 193.8V193.8M78.5 193.8V193.8M80.7 193.8V193.8M82.8 193.8V193.8M84.9 193.8V193.8M87 193.8V193.8M89.1 193.8V193.8M92.3 193.8V193.8M94.4 193.8V193.8M96.5 193.8V193.8M99.6 193.8V193.8M100.7 186.5V193.8M101.8 193.8V193.8M102.8 193.8V193.8M104.9 180.5V193.8M107 181.3V193.8M110.2 179.6V193.8M112.3 193.8V193.8M116.5 182.4V193.8M119.7 164.6V182.4M122.9 158.8V177.1M123.9 164.7V175M125 160.9V175M126 163.2V172.5M127.1 164V174M131.3 160.2V176.8M136.6 189.8V193.8M137.6 181.6V192.9M140.8 164.6V176.5M142.9 148.6V171.7M145 148.3V166.2M147.1 145.6V168.3M149.2 148.7V163.9M151.3 157.5V168.1M152.4 151.7V165.4M153.4 157.8V169M157.7 175.7V187.8M159.8 171.8V184.1M160.8 163.4V175.8M161.9 153.3V167.4M162.9 143.6V162.9M164 150.6V164.2M165.1 138.2V160.6M166.1 137.6V159.4M167.2 149.3V161.6M169.3 150.1V160M174.5 140.6V164.4M175.6 147.4V164.7M177.7 155.8V178.2M185.1 145.2V153.9M187.2 132.7V150.9M188.3 133.7V151M189.3 133.4V150.8M190.4 141.9V153.2M191.4 138.9V149.4M193.5 134.8V149.4M196.7 140.4V158.8M197.8 142.3V163.5M198.8 156.8V171.1M202 163.5V174.6M205.1 140.3V157.8M207.3 130.7V153.6M208.3 139.1V153M209.4 137V151.3M210.4 134.2V153.4M212.5 137.7V150.3M214.6 133.5V156.1M215.7 139.6V155.4M217.8 138.5V158.1M221 156.8V179.4M225.2 164.7V174.1M230.5 142.1V156.6M231.5 149.5V161.3M232.6 138.9V156.4M235.7 140.9V161.1M240 163.9V176.9M244.2 172.9V189.8M246.3 167.2V180.2M249.5 160.7V169.4M250.5 145V165.9M254.7 156.6V171.1M256.8 153V172.7M260 152.1V173.4M262.1 163.2V182.3M263.2 186.1V193.8M264.2 178.1V193.8M265.3 178.8V193.8M268.4 167.6V183M270.6 154.6V174.5M271.6 159.9V173.7M275.8 165.3V176.8M276.9 149.3V173.1M277.9 160.1V174.3M280 167.8V182.7M282.2 171.4V189.4M283.2 175.9V193.6M285.3 193.8V193.8M286.4 193.8V193.8M288.5 190V193.8M289.5 187.6V193.8M294.8 180.4V193.8M296.9 185.6V193.8M298 189.3V193.8M302.2 193.8V193.8M307.5 193.8V193.8M310.6 193.8V193.8M311.7 193.8V193.8M314.9 193.8V193.8M318 193.8V193.8M322.2 193.8V193.8M323.3 193.8V193.8M324.4 193.8V193.8M326.5 193.8V193.8M328.6 193.8V193.8M332.8 193.8V193.8M333.9 193.8V193.8M340.2 193.8V193.8M341.2 193.8V193.8M345.5 193.8V193.8M346.5 193.8V193.8M350.7 193.8V193.8M355 193.8V193.8M356 193.8V193.8M360.2 193.8V193.8M361.3 193.8V193.8M363.4 193.8V193.8M365.5 193.8V193.8M368.7 193.8V193.8M371.8 193.8V193.8M372.9 193.8V193.8M373.9 193.8V193.8M376.1 193.8V193.8M378.2 193.8V193.8M379.2 193.8V193.8M380.3 193.8V193.8" stroke="#78b0dc" stroke-width="0.8" fill="none" opacity="0.75"/>
<path d="" stroke="#4a90c9" stroke-width="0.9" fill="none"/>
<path d="M22 182.7V189.8M23 182.4V189.8M24 183.2V189.8M25 183.2V189.8M29 183.3V189.8M31 178.6V189.8M32 183.7V189.8M35 181.5V189.8M36 184.6V189.8M37 179.4V189.8M39 182.8V189.8M40 182.5V189.8M41 183V189.8M44 184.6V189.8M45 182.6V189.8M46 181.2V189.8M49 182.9V189.8M50 178V189.8M51 179.5V189.8M53 183.3V189.8M54 184.4V189.8M57 183V189.8M58 183.8V189.8M351 182.8V189.8M353 184.6V189.8M359 178.2V189.8M360 182.9V189.8M361 183.5V189.8M362 183.5V189.8M363 182.1V189.8M365 183.6V189.8M367 183.8V189.8M368 181.3V189.8M371 181.1V189.8M374 184.7V189.8M375 181.5V189.8M376 182.9V189.8M377 184.3V189.8M378 184.2V189.8" stroke="#6aa6d7" stroke-width="0.9" fill="none"/>
<path d="M16 186.5V193.8M17 187.4V193.8M18 185.1V193.8M19 183.6V193.8M20 187.8V193.8M21 186.9V193.8M22 188.2V193.8M23 185.9V193.8M24 187.5V193.8M25 188.1V193.8M26 188.1V193.8M27 188V193.8M28 182.9V193.8M29 187.3V193.8M30 187.5V193.8M31 186.2V193.8M32 186.9V193.8M33 186.7V193.8M34 187.6V193.8M35 185.4V193.8M36 188.1V193.8M37 183.6V193.8M38 185.4V193.8M39 184.7V193.8M40 186.5V193.8M41 186.5V193.8M42 184.5V193.8M43 183.3V193.8M44 185.9V193.8M45 186.4V193.8M46 188.6V193.8M47 188.2V193.8M48 188.5V193.8M49 187.4V193.8M50 185.5V193.8M51 188.4V193.8M52 187.9V193.8M53 188.2V193.8M54 185.8V193.8M55 183.9V193.8M56 188.4V193.8M57 186.2V193.8M58 184V193.8M59 188.2V193.8M60 183.1V193.8M61 185.5V193.8M62 188.5V193.8M63 188.2V193.8M64 187.2V193.8M65 187.5V193.8M66 186.8V193.8M67 185.8V193.8M68 187.8V193.8M69 185.5V193.8M70 187.2V193.8M71 186.6V193.8M72 188.2V193.8M73 186.3V193.8M74 188.6V193.8M331 187.5V193.8M332 187.4V193.8M333 188.6V193.8M334 186.2V193.8M335 188V193.8M336 188.5V193.8M337 185.1V193.8M338 188.6V193.8M339 186V193.8M340 186.8V193.8M341 187.7V193.8M342 187.5V193.8M343 186.4V193.8M344 188.5V193.8M345 185.5V193.8M346 185.7V193.8M347 186.5V193.8M348 185.2V193.8M349 185.9V193.8M350 186.2V193.8M351 188.4V193.8M352 185.1V193.8M353 186.6V193.8M354 183.4V193.8M355 187.1V193.8M356 188V193.8M357 179.4V193.8M358 184.4V193.8M359 187.7V193.8M360 188.4V193.8M361 185V193.8M362 187.5V193.8M363 188.5V193.8M364 188.6V193.8M365 185.3V193.8M366 184.8V193.8M367 187.1V193.8M368 187.2V193.8M369 187.1V193.8M370 182V193.8M371 188.7V193.8M372 187.8V193.8M373 185.6V193.8M374 188.6V193.8M375 186V193.8M376 186.8V193.8M377 187.8V193.8M378 187.3V193.8M379 188.3V193.8M380 186.8V193.8" stroke="#2a70b1" stroke-width="1.05" fill="none"/>
<path d="M16.3 192.7h0.01M19.5 192.3h0.01M21.6 190h0.01M23.7 188.9h0.01M25.8 187.8h0.01M27.9 186.7h0.01M30 186.6h0.01M32.1 186.1h0.01M34.2 186.3h0.01M36.3 186.7h0.01M37.4 191h0.01M38.5 186.5h0.01M39.5 187.5h0.01M40.6 186.3h0.01M41.6 184.3h0.01M42.7 189h0.01M43.7 182.6h0.01M44.8 191.5h0.01M45.8 180.9h0.01M47.9 178.8h0.01M50.1 178.3h0.01M52.2 176.5h0.01M54.3 176.2h0.01M55.3 189.3h0.01M56.4 176h0.01M57.4 183.8h0.01M58.5 176.5h0.01M59.6 180.1h0.01M60.6 177.1h0.01M61.7 176.8h0.01M62.7 177.6h0.01M63.8 174h0.01M64.8 180.1h0.01M65.9 171.8h0.01M66.9 183.9h0.01M68 170.1h0.01M69 188.5h0.01M70.1 169.1h0.01M72.2 167.6h0.01M74.3 167h0.01M75.4 185.2h0.01M76.4 166.7h0.01M77.5 177.7h0.01M78.5 166.5h0.01M79.6 173.2h0.01M80.7 166.9h0.01M81.7 168.3h0.01M82.8 167.2h0.01M83.8 166h0.01M84.9 168.9h0.01M85.9 163.9h0.01M87 171.6h0.01M88 162.1h0.01M89.1 175.1h0.01M90.1 160.4h0.01M91.2 182.9h0.01M92.3 158.9h0.01M94.4 158.6h0.01M95.4 183.9h0.01M96.5 156.9h0.01M97.5 173.2h0.01M98.6 157.1h0.01M99.6 166.8h0.01M100.7 157.6h0.01M101.8 162.6h0.01M102.8 157.6h0.01M103.9 159.2h0.01M104.9 158.8h0.01M106 156.2h0.01M107 160.4h0.01M108.1 154h0.01M109.1 163h0.01M110.2 151.9h0.01M111.2 167.7h0.01M112.3 150.3h0.01M113.4 176.8h0.01M114.4 149.8h0.01M116.5 148.5h0.01M117.6 170h0.01M118.6 148h0.01M119.7 161.4h0.01M120.7 147.8h0.01M121.8 155.7h0.01M122.9 148.3h0.01M123.9 151.7h0.01M125 149h0.01M126 148.1h0.01M127.1 149.5h0.01M128.1 146.5h0.01M129.2 151.8h0.01M130.2 143.9h0.01M131.3 155.2h0.01M132.3 142.1h0.01M133.4 160.7h0.01M134.5 140.4h0.01M135.5 174.4h0.01M136.6 139.8h0.01M137.6 172.4h0.01M138.7 139.5h0.01M139.7 157.4h0.01M140.8 139.4h0.01M141.8 150.2h0.01M142.9 138.2h0.01M144 144.8h0.01M145 139.7h0.01M146.1 141.8h0.01M147.1 139.9h0.01M148.2 138.7h0.01M149.2 141.2h0.01M150.3 137h0.01M151.3 143.9h0.01M152.4 135.2h0.01M153.4 147.7h0.01M154.5 132.4h0.01M155.6 155.1h0.01M156.6 131.8h0.01M157.7 180.5h0.01M158.7 131.5h0.01M159.8 157h0.01M160.8 130.8h0.01M161.9 146.3h0.01M162.9 130.1h0.01M164 140.4h0.01M165.1 130.4h0.01M166.1 136.3h0.01M167.2 131.5h0.01M168.2 132.7h0.01M169.3 132.5h0.01M170.3 130.2h0.01M171.4 134.1h0.01M172.4 128.2h0.01M173.5 136.9h0.01M174.5 126.4h0.01M175.6 141.4h0.01M176.7 125h0.01M177.7 151.3h0.01M178.8 123.7h0.01M179.8 170.5h0.01M180.9 123.3h0.01M181.9 145.7h0.01M183 123.2h0.01M184 137.4h0.01M185.1 124.2h0.01M186.2 132.4h0.01M187.2 124h0.01M188.3 128.8h0.01M189.3 126h0.01M190.4 126h0.01M191.4 127.7h0.01M192.5 124.2h0.01M193.5 130h0.01M194.6 122.4h0.01M195.6 133.4h0.01M196.7 121.2h0.01M197.8 139.7h0.01M198.8 120.6h0.01M199.9 153.7h0.01M200.9 120.3h0.01M202 153.9h0.01M203 120.9h0.01M204.1 139.4h0.01M205.1 121.3h0.01M206.2 133.5h0.01M207.3 122.5h0.01M208.3 129.8h0.01M209.4 123.9h0.01M210.4 127h0.01M211.5 126.1h0.01M212.5 125.5h0.01M213.6 128h0.01M214.6 124.2h0.01M215.7 131.6h0.01M216.7 123.9h0.01M217.8 136.7h0.01M218.9 122.8h0.01M219.9 145.1h0.01M221 123.1h0.01M222 170.5h0.01M223.1 124.4h0.01M224.1 151.2h0.01M225.2 125.2h0.01M226.2 142h0.01M227.3 126h0.01M228.4 137.5h0.01M229.4 128.2h0.01M230.5 134.5h0.01M231.5 129.8h0.01M232.6 132.6h0.01M233.6 132.8h0.01M234.7 131.1h0.01M235.7 136.7h0.01M236.8 130.9h0.01M237.8 140.3h0.01M238.9 130.6h0.01M240 146.8h0.01M241 131h0.01M242.1 157.5h0.01M243.1 131.6h0.01M244.2 181.2h0.01M245.2 131.7h0.01M246.3 154.8h0.01M247.3 132.9h0.01M248.4 147.8h0.01M249.5 135.1h0.01M250.5 144.1h0.01M251.6 136.2h0.01M252.6 141.4h0.01M253.7 139.2h0.01M254.7 139.8h0.01M255.8 141.7h0.01M256.8 139.1h0.01M257.9 144.8h0.01M258.9 138.8h0.01M260 150.2h0.01M261.1 138.7h0.01M262.1 157h0.01M263.2 138.7h0.01M264.2 171.8h0.01M265.3 139.8h0.01M266.3 174.2h0.01M267.4 140.8h0.01M268.4 161h0.01M269.5 142.5h0.01M270.6 154.6h0.01M271.6 143.6h0.01M272.7 152.1h0.01M273.7 145.8h0.01M274.8 150h0.01M275.8 148.9h0.01M276.9 148.2h0.01M277.9 151.6h0.01M279 147.8h0.01M280 155.4h0.01M281.1 147.3h0.01M282.2 161.1h0.01M283.2 148h0.01M284.3 169.7h0.01M285.3 148.2h0.01M287.4 148.8h0.01M288.5 177.4h0.01M289.5 149.6h0.01M290.6 167.2h0.01M291.7 152h0.01M292.7 162.4h0.01M293.8 153.9h0.01M294.8 160.5h0.01M295.9 155.7h0.01M296.9 158.5h0.01M298 158.4h0.01M299 157.6h0.01M300.1 162.2h0.01M301.1 157.1h0.01M302.2 167h0.01M303.3 157.1h0.01M304.3 173.2h0.01M305.4 157.5h0.01M306.4 183.2h0.01M307.5 158h0.01M309.6 158.5h0.01M310.6 182.6h0.01M311.7 160.2h0.01M312.8 175.1h0.01M313.8 161.6h0.01M314.9 171.2h0.01M315.9 163.9h0.01M317 168.8h0.01M318 166.3h0.01M319.1 166.9h0.01M320.1 169.6h0.01M321.2 166.4h0.01M322.2 172.3h0.01M323.3 166.2h0.01M324.4 177.7h0.01M325.4 166.7h0.01M326.5 184.8h0.01M327.5 167.1h0.01M329.6 168.6h0.01M331.7 169.8h0.01M332.8 189h0.01M333.9 171h0.01M334.9 183.4h0.01M336 172.8h0.01M337 180.9h0.01M338.1 174.5h0.01M339.1 178.5h0.01M340.2 177.4h0.01M341.2 177.4h0.01M342.3 180.9h0.01M343.3 177.1h0.01M344.4 184.9h0.01M345.5 177.4h0.01M346.5 191h0.01M347.6 177.2h0.01M349.7 178.1h0.01M351.8 178.6h0.01M353.9 180.2h0.01M356 181.3h0.01M358.1 183.6h0.01M359.2 189.5h0.01M360.2 185.3h0.01M361.3 188.2h0.01M362.3 187.7h0.01M363.4 186.9h0.01M364.4 191.3h0.01M365.5 186h0.01M367.6 185.6h0.01M369.7 185.5h0.01M371.8 187h0.01M373.9 187.4h0.01M376.1 188.7h0.01M378.2 190h0.01M380.3 191.6h0.01" stroke="#f41c22" stroke-width="2.2" stroke-linecap="round" fill="none"/>
<rect x="15.5" y="12.5" width="365.5" height="181.3" fill="none" stroke="#8a8a8a" stroke-width="1"/>
<line x1="15.5" y1="103" x2="381" y2="103" stroke="#222" stroke-width="1.3"/>
<line x1="15.5" y1="193.8" x2="381" y2="193.8" stroke="#555" stroke-width="1.2"/>
<path d="M25.7 193.8v-2.5M25.7 103v-2.5M93.1 193.8v-2.5M93.1 103v-2.5M160.5 193.8v-2.5M160.5 103v-2.5M228 193.8v-2.5M228 103v-2.5M295.4 193.8v-2.5M295.4 103v-2.5M362.8 193.8v-2.5M362.8 103v-2.5M15.5 133.4h2M15.5 163.7h2M15.5 44h2M15.5 73.6h2" stroke="#555" stroke-width="0.8"/>
<text x="25.7" y="204.6" font-size="10.58" text-anchor="middle" stroke="#000" stroke-width="0.3" textLength="21.3" lengthAdjust="spacingAndGlyphs">1535</text>
<text x="93.1" y="204.6" font-size="10.58" text-anchor="middle" stroke="#000" stroke-width="0.3" textLength="21.3" lengthAdjust="spacingAndGlyphs">1540</text>
<text x="160.5" y="204.6" font-size="10.58" text-anchor="middle" stroke="#000" stroke-width="0.3" textLength="21.3" lengthAdjust="spacingAndGlyphs">1545</text>
<text x="228" y="204.6" font-size="10.58" text-anchor="middle" stroke="#000" stroke-width="0.3" textLength="21.3" lengthAdjust="spacingAndGlyphs">1550</text>
<text x="295.4" y="204.6" font-size="10.58" text-anchor="middle" stroke="#000" stroke-width="0.3" textLength="21.3" lengthAdjust="spacingAndGlyphs">1555</text>
<text x="362.8" y="204.6" font-size="10.58" text-anchor="middle" stroke="#000" stroke-width="0.3" textLength="21.3" lengthAdjust="spacingAndGlyphs">1560</text>
<text x="198.6" y="217.4" font-size="11.45" text-anchor="middle" stroke="#000" stroke-width="0.3" textLength="78" lengthAdjust="spacingAndGlyphs">Wavelength (nm)</text>
<text x="10.5" y="104.7" font-size="11.66" text-anchor="middle" stroke="#000" stroke-width="0.3" textLength="91" lengthAdjust="spacingAndGlyphs" transform="rotate(-90 10.5 104.7)">Intensity (20 dB/div)</text>
<text x="102.3" y="25.5" font-size="11.02" stroke="#000" stroke-width="0.3" textLength="85.5" lengthAdjust="spacingAndGlyphs">Single soliton state</text>
<text x="245.5" y="28.6" font-size="10" text-anchor="middle" fill="#e8262a" stroke="#e8262a" stroke-width="0.3">Sech<tspan font-size="6" dy="-4">2</tspan><tspan dy="4"> fitting</tspan></text>
<text x="242.7" y="42.6" font-size="10.8" text-anchor="middle" fill="#e8262a" stroke="#e8262a" stroke-width="0.3" textLength="25.5" lengthAdjust="spacingAndGlyphs">583 fs</text>
<text x="110.5" y="115.9" font-size="11.02" stroke="#000" stroke-width="0.3" textLength="77.7" lengthAdjust="spacingAndGlyphs">Two soliton state</text>
<rect x="18.4" y="16.5" width="61.8" height="45.6" fill="#fff" stroke="#7a7a7a" stroke-width="0.9"/>
<polyline points="18.1,56.9 18.2,56.9 18.3,56.9 18.3,56.9 18.4,56.9 18.5,56.9 18.6,56.9 18.6,56.9 18.7,56.9 18.8,56.9 18.9,56.9 19,56.9 19,56.9 19.1,56.9 19.2,56.9 19.3,56.9 19.3,56.9 19.4,56.9 19.5,56.9 19.6,56.9 19.7,56.9 19.7,56.9 19.8,56.9 19.9,56.9 20,56.9 20,56.9 20.1,56.9 20.2,56.9 20.3,56.9 20.3,56.9 20.4,56.9 20.5,56.9 20.6,56.9 20.7,56.9 20.7,56.9 20.8,56.9 20.9,56.9 21,56.9 21,56.9 21.1,56.9 21.2,56.9 21.3,56.9 21.4,56.9 21.4,56.9 21.5,56.9 21.6,56.9 21.7,56.9 21.7,56.9 21.8,56.9 21.9,56.9 22,56.9 22.1,56.9 22.1,56.9 22.2,56.9 22.3,56.9 22.4,56.9 22.4,56.9 22.5,56.9 22.6,56.9 22.7,56.9 22.8,56.9 22.8,56.9 22.9,56.9 23,56.9 23.1,56.9 23.1,56.9 23.2,56.9 23.3,56.9 23.4,56.9 23.4,56.9 23.5,56.9 23.6,56.9 23.7,56.9 23.8,56.9 23.8,56.9 23.9,56.9 24,56.9 24.1,56.9 24.1,56.9 24.2,56.9 24.3,56.9 24.4,56.9 24.5,56.9 24.5,56.9 24.6,56.9 24.7,56.9 24.8,56.9 24.8,56.9 24.9,56.9 25,56.9 25.1,56.9 25.2,56.9 25.2,56.9 25.3,56.9 25.4,56.9 25.5,56.9 25.5,56.9 25.6,56.9 25.7,56.9 25.8,56.9 25.9,56.9 25.9,56.9 26,56.9 26.1,56.9 26.2,56.9 26.2,56.9 26.3,56.9 26.4,56.9 26.5,56.9 26.5,56.9 26.6,56.9 26.7,56.9 26.8,56.9 26.9,56.9 26.9,56.9 27,56.9 27.1,56.9 27.2,56.9 27.2,56.9 27.3,56.9 27.4,56.9 27.5,56.9 27.6,56.9 27.6,56.9 27.7,56.9 27.8,56.9 27.9,56.9 27.9,56.9 28,56.9 28.1,56.9 28.2,56.9 28.3,56.9 28.3,56.9 28.4,56.9 28.5,56.9 28.6,56.9 28.6,56.9 28.7,56.9 28.8,56.9 28.9,56.9 29,56.9 29,56.9 29.1,56.9 29.2,56.9 29.3,56.9 29.3,56.9 29.4,56.9 29.5,56.9 29.6,56.9 29.6,56.9 29.7,56.9 29.8,56.9 29.9,56.9 30,56.9 30,56.9 30.1,56.9 30.2,56.9 30.3,56.9 30.3,56.9 30.4,56.9 30.5,56.9 30.6,56.9 30.7,56.9 30.7,56.9 30.8,56.9 30.9,56.9 31,56.9 31,56.9 31.1,56.9 31.2,56.9 31.3,56.9 31.4,56.9 31.4,56.9 31.5,56.9 31.6,56.9 31.7,56.9 31.7,56.9 31.8,56.9 31.9,56.9 32,56.9 32,56.9 32.1,56.9 32.2,56.9 32.3,56.9 32.4,56.9 32.4,56.9 32.5,56.9 32.6,56.9 32.7,56.9 32.7,56.9 32.8,56.9 32.9,56.9 33,56.8 33.1,56.8 33.1,56.8 33.2,56.8 33.3,56.8 33.4,56.8 33.4,56.8 33.5,56.8 33.6,56.8 33.7,56.8 33.8,56.7 33.8,56.7 33.9,56.7 34,56.7 34.1,56.7 34.1,56.7 34.2,56.7 34.3,56.6 34.4,56.6 34.5,56.6 34.5,56.6 34.6,56.6 34.7,56.6 34.8,56.5 34.8,56.5 34.9,56.5 35,56.5 35.1,56.5 35.2,56.4 35.2,56.4 35.3,56.4 35.4,56.4 35.5,56.3 35.5,56.3 35.6,56.3 35.7,56.2 35.8,56.2 35.8,56.2 35.9,56.2 36,56.1 36.1,56.1 36.2,56.1 36.2,56 36.3,56 36.4,56 36.5,56 36.5,55.9 36.6,55.9 36.7,55.9 36.8,55.8 36.9,55.8 36.9,55.8 37,55.7 37.1,55.7 37.2,55.7 37.2,55.7 37.3,55.6 37.4,55.6 37.5,55.6 37.6,55.6 37.6,55.5 37.7,55.5 37.8,55.5 37.9,55.5 37.9,55.4 38,55.4 38.1,55.4 38.2,55.4 38.2,55.4 38.3,55.3 38.4,55.3 38.5,55.3 38.6,55.3 38.6,55.3 38.7,55.3 38.8,55.3 38.9,55.3 38.9,55.3 39,55.3 39.1,55.3 39.2,55.3 39.3,55.3 39.3,55.3 39.4,55.3 39.5,55.3 39.6,55.3 39.6,55.3 39.7,55.3 39.8,55.3 39.9,55.3 40,55.3 40,55.3 40.1,55.4 40.2,55.4 40.3,55.4 40.3,55.4 40.4,55.4 40.5,55.5 40.6,55.5 40.7,55.5 40.7,55.5 40.8,55.6 40.9,55.6 41,55.6 41,55.6 41.1,55.7 41.2,55.7 41.3,55.7 41.4,55.7 41.4,55.8 41.5,55.8 41.6,55.8 41.7,55.9 41.7,55.9 41.8,55.9 41.9,56 42,56 42,56 42.1,56 42.2,56.1 42.3,56.1 42.4,56.1 42.4,56.2 42.5,56.2 42.6,56.2 42.7,56.2 42.7,56.3 42.8,56.3 42.9,56.3 43,56.4 43.1,56.4 43.1,56.4 43.2,56.4 43.3,56.5 43.4,56.5 43.4,56.5 43.5,56.5 43.6,56.5 43.7,56.6 43.8,56.6 43.8,56.6 43.9,56.6 44,56.6 44.1,56.6 44.1,56.6 44.2,56.6 44.3,56.6 44.4,56.6 44.5,56.6 44.5,56.6 44.6,56.5 44.7,56.5 44.8,56.4 44.8,56.3 44.9,56.2 45,56.1 45.1,55.9 45.1,55.7 45.2,55.5 45.3,55.2 45.4,54.9 45.5,54.5 45.5,54.1 45.6,53.6 45.7,53.1 45.8,52.5 45.8,51.8 45.9,51.1 46,50.4 46.1,49.6 46.2,48.7 46.2,47.9 46.3,47 46.4,46.2 46.5,45.3 46.5,44.5 46.6,43.8 46.7,43 46.8,42.4 46.9,41.9 46.9,41.4 47,41.1 47.1,40.9 47.2,40.8 47.2,40.9 47.3,41 47.4,41.3 47.5,41.7 47.6,42.3 47.6,42.9 47.7,43.6 47.8,44.4 47.9,45.3 47.9,46.2 48,47.1 48.1,48.1 48.2,48.9 48.2,49.6 48.3,50.1 48.4,50.1 48.5,49.4 48.6,47.7 48.6,44.8 48.7,40.6 48.8,35.4 48.9,29.8 48.9,24.8 49,21.3 49.1,20.2 49.2,21.3 49.3,24.8 49.3,29.8 49.4,35.4 49.5,40.6 49.6,44.8 49.6,47.7 49.7,49.4 49.8,50.1 49.9,50.1 50,49.6 50,48.9 50.1,48.1 50.2,47.1 50.3,46.2 50.3,45.3 50.4,44.4 50.5,43.6 50.6,42.9 50.6,42.3 50.7,41.7 50.8,41.3 50.9,41 51,40.9 51,40.8 51.1,40.9 51.2,41.1 51.3,41.4 51.3,41.9 51.4,42.4 51.5,43 51.6,43.8 51.7,44.5 51.7,45.3 51.8,46.2 51.9,47 52,47.9 52,48.7 52.1,49.6 52.2,50.4 52.3,51.1 52.4,51.8 52.4,52.5 52.5,53.1 52.6,53.6 52.7,54.1 52.7,54.5 52.8,54.9 52.9,55.2 53,55.5 53.1,55.7 53.1,55.9 53.2,56.1 53.3,56.2 53.4,56.3 53.4,56.4 53.5,56.5 53.6,56.5 53.7,56.6 53.8,56.6 53.8,56.6 53.9,56.6 54,56.6 54.1,56.6 54.1,56.6 54.2,56.6 54.3,56.6 54.4,56.6 54.4,56.6 54.5,56.6 54.6,56.5 54.7,56.5 54.8,56.5 54.8,56.5 54.9,56.5 55,56.4 55.1,56.4 55.1,56.4 55.2,56.4 55.3,56.3 55.4,56.3 55.5,56.3 55.5,56.2 55.6,56.2 55.7,56.2 55.8,56.2 55.8,56.1 55.9,56.1 56,56.1 56.1,56 56.2,56 56.2,56 56.3,56 56.4,55.9 56.5,55.9 56.5,55.9 56.6,55.8 56.7,55.8 56.8,55.8 56.9,55.7 56.9,55.7 57,55.7 57.1,55.7 57.2,55.6 57.2,55.6 57.3,55.6 57.4,55.6 57.5,55.5 57.5,55.5 57.6,55.5 57.7,55.5 57.8,55.4 57.9,55.4 57.9,55.4 58,55.4 58.1,55.4 58.2,55.3 58.2,55.3 58.3,55.3 58.4,55.3 58.5,55.3 58.6,55.3 58.6,55.3 58.7,55.3 58.8,55.3 58.9,55.3 58.9,55.3 59,55.3 59.1,55.3 59.2,55.3 59.3,55.3 59.3,55.3 59.4,55.3 59.5,55.3 59.6,55.3 59.6,55.3 59.7,55.3 59.8,55.3 59.9,55.3 60,55.4 60,55.4 60.1,55.4 60.2,55.4 60.3,55.4 60.3,55.5 60.4,55.5 60.5,55.5 60.6,55.5 60.6,55.6 60.7,55.6 60.8,55.6 60.9,55.6 61,55.7 61,55.7 61.1,55.7 61.2,55.7 61.3,55.8 61.3,55.8 61.4,55.8 61.5,55.9 61.6,55.9 61.7,55.9 61.7,56 61.8,56 61.9,56 62,56 62,56.1 62.1,56.1 62.2,56.1 62.3,56.2 62.4,56.2 62.4,56.2 62.5,56.2 62.6,56.3 62.7,56.3 62.7,56.3 62.8,56.4 62.9,56.4 63,56.4 63,56.4 63.1,56.5 63.2,56.5 63.3,56.5 63.4,56.5 63.4,56.5 63.5,56.6 63.6,56.6 63.7,56.6 63.7,56.6 63.8,56.6 63.9,56.6 64,56.7 64.1,56.7 64.1,56.7 64.2,56.7 64.3,56.7 64.4,56.7 64.4,56.7 64.5,56.8 64.6,56.8 64.7,56.8 64.8,56.8 64.8,56.8 64.9,56.8 65,56.8 65.1,56.8 65.1,56.8 65.2,56.8 65.3,56.9 65.4,56.9 65.5,56.9 65.5,56.9 65.6,56.9 65.7,56.9 65.8,56.9 65.8,56.9 65.9,56.9 66,56.9 66.1,56.9 66.2,56.9 66.2,56.9 66.3,56.9 66.4,56.9 66.5,56.9 66.5,56.9 66.6,56.9 66.7,56.9 66.8,56.9 66.8,56.9 66.9,56.9 67,56.9 67.1,56.9 67.2,56.9 67.2,56.9 67.3,56.9 67.4,56.9 67.5,56.9 67.5,56.9 67.6,56.9 67.7,56.9 67.8,56.9 67.9,56.9 67.9,56.9 68,56.9 68.1,56.9 68.2,56.9 68.2,56.9 68.3,56.9 68.4,56.9 68.5,56.9 68.6,56.9 68.6,56.9 68.7,56.9 68.8,56.9 68.9,56.9 68.9,56.9 69,56.9 69.1,56.9 69.2,56.9 69.2,56.9 69.3,56.9 69.4,56.9 69.5,56.9 69.6,56.9 69.6,56.9 69.7,56.9 69.8,56.9 69.9,56.9 69.9,56.9 70,56.9 70.1,56.9 70.2,56.9 70.3,56.9 70.3,56.9 70.4,56.9 70.5,56.9 70.6,56.9 70.6,56.9 70.7,56.9 70.8,56.9 70.9,56.9 71,56.9 71,56.9 71.1,56.9 71.2,56.9 71.3,56.9 71.3,56.9 71.4,56.9 71.5,56.9 71.6,56.9 71.7,56.9 71.7,56.9 71.8,56.9 71.9,56.9 72,56.9 72,56.9 72.1,56.9 72.2,56.9 72.3,56.9 72.3,56.9 72.4,56.9 72.5,56.9 72.6,56.9 72.7,56.9 72.7,56.9 72.8,56.9 72.9,56.9 73,56.9 73,56.9 73.1,56.9 73.2,56.9 73.3,56.9 73.4,56.9 73.4,56.9 73.5,56.9 73.6,56.9 73.7,56.9 73.7,56.9 73.8,56.9 73.9,56.9 74,56.9 74.1,56.9 74.1,56.9 74.2,56.9 74.3,56.9 74.4,56.9 74.4,56.9 74.5,56.9 74.6,56.9 74.7,56.9 74.8,56.9 74.8,56.9 74.9,56.9 75,56.9 75.1,56.9 75.1,56.9 75.2,56.9 75.3,56.9 75.4,56.9 75.5,56.9 75.5,56.9 75.6,56.9 75.7,56.9 75.8,56.9 75.8,56.9 75.9,56.9 76,56.9 76.1,56.9 76.1,56.9 76.2,56.9 76.3,56.9 76.4,56.9 76.5,56.9 76.5,56.9 76.6,56.9 76.7,56.9 76.8,56.9 76.8,56.9 76.9,56.9 77,56.9 77.1,56.9 77.2,56.9 77.2,56.9 77.3,56.9 77.4,56.9 77.5,56.9 77.5,56.9 77.6,56.9 77.7,56.9 77.8,56.9 77.9,56.9 77.9,56.9 78,56.9 78.1,56.9 78.2,56.9 78.2,56.9 78.3,56.9 78.4,56.9 78.5,56.9 78.5,56.9 78.6,56.9 78.7,56.9 78.8,56.9 78.9,56.9 78.9,56.9 79,56.9 79.1,56.9 79.2,56.9 79.2,56.9 79.3,56.9 79.4,56.9 79.5,56.9 79.6,56.9 79.6,56.9 79.7,56.9 79.8,56.9 79.9,56.9 79.9,56.9 80,56.9 80.1,56.9" fill="none" stroke="#f01c1c" stroke-width="1.35"/>
<path d="M80.2 20.2h-1.5M80.2 39.5h-1.5M80.2 57.7h-1.5M24.6 62.1v-1.3M36.9 62.1v-1.3M49.1 62.1v-1.3M61.5 62.1v-1.3M74.2 62.1v-1.3" stroke="#555" stroke-width="0.6"/>
<text x="81.5" y="22.3" font-size="7.13" stroke="#000" stroke-width="0.18" textLength="9.5" lengthAdjust="spacingAndGlyphs">1.0</text>
<text x="81.5" y="41.6" font-size="7.13" stroke="#000" stroke-width="0.18" textLength="9.5" lengthAdjust="spacingAndGlyphs">0.5</text>
<text x="81.5" y="59.8" font-size="7.13" stroke="#000" stroke-width="0.18" textLength="9.5" lengthAdjust="spacingAndGlyphs">0.0</text>
<text x="97.6" y="39.2" font-size="6.8" text-anchor="middle" stroke="#000" stroke-width="0.18" textLength="45" lengthAdjust="spacingAndGlyphs" transform="rotate(-90 97.6 39.2)">Intensity (a. u.)</text>
<text x="24.6" y="69.9" font-size="6.6" text-anchor="middle" stroke="#000" stroke-width="0.18">-20</text>
<text x="36.9" y="69.9" font-size="6.6" text-anchor="middle" stroke="#000" stroke-width="0.18">-10</text>
<text x="49.1" y="69.9" font-size="6.6" text-anchor="middle" stroke="#000" stroke-width="0.18">0</text>
<text x="61.5" y="69.9" font-size="6.6" text-anchor="middle" stroke="#000" stroke-width="0.18">10</text>
<text x="74.2" y="69.9" font-size="6.6" text-anchor="middle" stroke="#000" stroke-width="0.18">20</text>
<text x="49.1" y="77.9" font-size="7.34" text-anchor="middle" stroke="#000" stroke-width="0.18" textLength="45" lengthAdjust="spacingAndGlyphs">Time delay (ps)</text>
<text x="30.4" y="26.2" font-size="7.34" text-anchor="middle" stroke="#000" stroke-width="0.18" textLength="13" lengthAdjust="spacingAndGlyphs">1 ps</text>
<text x="32.1" y="37.1" font-size="7.34" text-anchor="middle" stroke="#000" stroke-width="0.18" textLength="24.4" lengthAdjust="spacingAndGlyphs">(650 fs)</text>
<path d="M39.9 39.5H46.5M58.2 39.5H51.6" stroke="#111" stroke-width="0.7"/>
<path d="M47.3 39.5l-2.6-1.3v2.6zM50.8 39.5l2.6-1.3v2.6z" fill="#111"/>
<rect x="317.3" y="15.5" width="61.3" height="45.9" fill="#fff" stroke="#7a7a7a" stroke-width="0.9"/>
<polygon points="317.8,54.9 318.3,55.3 318.8,55.3 319.3,55.3 319.8,53.3 320.3,55.3 320.8,55.1 321.3,54.2 321.8,55.3 322.3,55.3 322.8,55.3 323.3,54.2 323.8,54.9 324.3,55.3 324.8,54 325.3,55.1 325.8,55 326.3,55.3 326.8,55 327.3,55.3 327.8,54.7 328.3,54.6 328.8,55.3 329.3,55.3 329.8,53.7 330.3,55.3 330.8,55.3 331.3,54.7 331.8,55.3 332.3,55.3 332.8,54.8 333.3,54.7 333.8,54.7 334.3,55 334.8,54.1 335.3,55.2 335.8,53.9 336.3,55.3 336.8,55.2 337.3,54.3 337.8,55.3 338.3,55.3 338.8,55.3 339.3,54 339.8,55.2 340.3,55.2 340.8,55.2 341.3,54.7 341.8,55 342.3,54.9 342.8,54.8 343.3,54.6 343.8,54.4 344.3,54.1 344.8,53.6 345.3,53 345.8,52.1 346.3,51 346.8,49.4 347.3,47.3 347.8,44.3 348.3,40.3 348.8,42.8 349.3,46.2 349.8,48.6 350.3,50.4 350.8,51.7 351.3,52.7 351.8,53.4 352.3,53.9 352.8,54.3 353.3,54.3 353.8,54.8 354.3,54.9 354.8,54.3 355.3,55.1 355.8,55.1 356.3,54.5 356.8,55.2 357.3,55.2 357.8,55.3 358.3,55.3 358.8,54.1 359.3,54.1 359.8,55.3 360.3,55.3 360.8,55.3 361.3,55.3 361.8,55.3 362.3,54.2 362.8,55.3 363.3,54.5 363.8,55.3 364.3,55.3 364.8,54 365.3,55.3 365.8,55 366.3,55 366.8,55.3 367.3,54.3 367.8,54.4 368.3,55.3 368.8,55.3 369.3,54.8 369.8,54 370.3,55.3 370.8,55.3 371.3,55.3 371.8,54.4 372.3,54.8 372.8,55.3 373.3,54.4 373.8,55.3 374.3,55.3 374.8,55.3 375.3,54.4 375.8,54.5 376.3,54.6 376.8,55.3 377.3,55 377.8,55 378.3,61.4 317.8,61.4" fill="#111"/>
<line x1="348.4" y1="15.8" x2="348.4" y2="45" stroke="#111" stroke-width="0.8"/>
<path d="M346.5 61.4L348.4 52L350.3 61.4z" fill="#ddd"/>
<path d="M317.3 31.2h1.3M317.3 46.2h1.3" stroke="#555" stroke-width="0.6"/>
<text x="303.5" y="39.5" font-size="7.34" text-anchor="middle" stroke="#000" stroke-width="0.18" textLength="27" lengthAdjust="spacingAndGlyphs" transform="rotate(-90 303.5 39.5)">RF power</text>
<text x="313.5" y="39.5" font-size="7.34" text-anchor="middle" stroke="#000" stroke-width="0.18" textLength="32" lengthAdjust="spacingAndGlyphs" transform="rotate(-90 313.5 39.5)">(40 dB/div)</text>
<text x="352.8" y="30" font-size="7.34" stroke="#000" stroke-width="0.18" textLength="13.8" lengthAdjust="spacingAndGlyphs">RBW</text>
<text x="352.8" y="39.9" font-size="7.34" stroke="#000" stroke-width="0.18" textLength="16.8" lengthAdjust="spacingAndGlyphs">10 Hz</text>
<text x="323.9" y="68.5" font-size="6.6" text-anchor="middle" stroke="#000" stroke-width="0.18">-40</text>
<text x="336.1" y="68.5" font-size="6.6" text-anchor="middle" stroke="#000" stroke-width="0.18">-20</text>
<text x="348.4" y="68.5" font-size="6.6" text-anchor="middle" stroke="#000" stroke-width="0.18">0</text>
<text x="360.4" y="68.5" font-size="6.6" text-anchor="middle" stroke="#000" stroke-width="0.18">20</text>
<text x="372.5" y="68.5" font-size="6.6" text-anchor="middle" stroke="#000" stroke-width="0.18">40</text>
<text x="348.4" y="77.6" font-size="7.34" text-anchor="middle" stroke="#000" stroke-width="0.18" textLength="47" lengthAdjust="spacingAndGlyphs">Frequency (kHz)</text>
<g>
<circle cx="342.3" cy="136.4" r="20.3" fill="none" stroke="#222" stroke-width="0.8"/>
<line x1="342.3" y1="114" x2="342.3" y2="158.5" stroke="#aaa" stroke-width="0.5"/>
<path d="M342.3 136.4L362 136.4M342.3 136.4L322.5 134.2" stroke="#222" stroke-width="0.8"/>
<path d="M338.3 136.4a4 4 0 0 1 8 0" fill="none" stroke="#222" stroke-width="0.7"/>
<path d="M358.4 136.4h6.8" stroke="#ee1c1c" stroke-width="3"/>
<path d="M319.6 134.0l7.3 0.5" stroke="#ee1c1c" stroke-width="3"/>
<text x="343.2" y="113" font-size="8.1" text-anchor="middle" stroke="#000" stroke-width="0.18" textLength="12" lengthAdjust="spacingAndGlyphs">90°</text>
<text x="342.3" y="129.5" font-size="8.1" text-anchor="middle" stroke="#000" stroke-width="0.18" textLength="22.7" lengthAdjust="spacingAndGlyphs">170.9°</text>
<text x="310.6" y="139.3" font-size="8.1" text-anchor="middle" stroke="#000" stroke-width="0.18" textLength="16" lengthAdjust="spacingAndGlyphs">180°</text>
<text x="371.2" y="139.3" font-size="8.1" text-anchor="middle" stroke="#000" stroke-width="0.18" textLength="7.5" lengthAdjust="spacingAndGlyphs">0°</text>
<text x="343" y="167.4" font-size="8.1" text-anchor="middle" stroke="#000" stroke-width="0.18" textLength="16" lengthAdjust="spacingAndGlyphs">270°</text>
</g>
</g>
<g id="pb">
<text x="0.5" y="244.2" font-size="16.5" font-weight="bold">b</text>
<rect x="15.8" y="308.1" width="193.2" height="3.3" fill="#5e4fa3"/>
<path d="M16.2 305.1V311.4M16.9 303.8V311.4M17.7 306.5V311.4M18.4 304.4V311.4M19.2 303.9V311.4M19.9 305.4V311.4M20.7 303.3V311.4M21.4 305.7V311.4M22.2 304.3V311.4M22.9 304.5V311.4M23.7 305.8V311.4M24.4 306.7V311.4M25.2 303.9V311.4M25.9 305.8V311.4M26.7 306.7V311.4M27.4 306.2V311.4M28.2 305.7V311.4M28.9 303.9V311.4M29.7 304.5V311.4M30.4 305.3V311.4M31.2 305.3V311.4M31.9 305.8V311.4M32.7 305.3V311.4M33.5 305.6V311.4M34.2 305.9V311.4M35 303.7V311.4M35.7 304.7V311.4M36.5 305.6V311.4M37.2 305.3V311.4M38 306.3V311.4M38.7 305.1V311.4M39.5 305.3V311.4M40.2 306.1V311.4M41 307V311.4M41.7 306.6V311.4M42.5 305.8V311.4M43.2 306.1V311.4M44 304.9V311.4M44.7 303.6V311.4M45.5 307.2V311.4M46.2 305V311.4M47 304.3V311.4M47.7 306.3V311.4M48.5 304.5V311.4M49.2 305.9V311.4M50 304.5V311.4M50.7 302.5V311.4M51.5 303.7V311.4M52.2 306V311.4M53 305.9V311.4M53.7 304.2V311.4M54.5 305.5V311.4M55.2 304.7V311.4M56 305.4V311.4M56.7 305.1V311.4M57.5 305.5V311.4M58.2 304.8V311.4M59 304.2V311.4M59.7 304.2V311.4M60.5 307.1V311.4M61.2 305.3V311.4M62 305.6V311.4M62.7 303.8V311.4M63.5 304.3V311.4M64.2 306.9V311.4M65 306V311.4M65.7 307.4V311.4M66.5 305V311.4M67.2 305.1V311.4M68 305.8V311.4M68.7 307.1V311.4M69.5 305V311.4M70.2 306.4V311.4M71 304.7V311.4M71.7 302.7V311.4M72.5 305.4V311.4M73.2 308.2V311.4M74 305.4V311.4M74.7 304.6V311.4M75.5 301V311.4M76.2 306.2V311.4M77 302.3V311.4M77.7 305.4V311.4M78.5 305.1V311.4M79.2 303.1V311.4M80 306V311.4M80.7 306.7V311.4M81.5 306.5V311.4M82.2 303.8V311.4M83 305.8V311.4M83.7 304.9V311.4M84.5 304.4V311.4M85.2 305.2V311.4M86 304.3V311.4M86.7 306.6V311.4M87.5 306.7V311.4M88.2 305.2V311.4M89 306.6V311.4M89.7 305.5V311.4M90.5 304.8V311.4M91.2 305.4V311.4M92 305V311.4M92.7 305.1V311.4M93.5 308.1V311.4M94.2 305.7V311.4M95 306V311.4M95.7 303.9V311.4M96.5 304V311.4M97.2 304.4V311.4M98 305.2V311.4M98.7 307.1V311.4M99.5 305.1V311.4M100.2 305.3V311.4M101 305.6V311.4M101.7 304.6V311.4M102.5 305.8V311.4M103.2 304.4V311.4M104 307.5V311.4M104.7 304.7V311.4M105.5 303.6V311.4M106.2 305.8V311.4M107 304.5V311.4M107.7 304.1V311.4M108.5 304.9V311.4M109.2 306.2V311.4M110 307V311.4M110.7 305.5V311.4M111.5 305.1V311.4M112.2 305.9V311.4M113 302.2V311.4M113.7 304.3V311.4M114.5 304.1V311.4M115.2 304.2V311.4M116 304.5V311.4M116.7 306V311.4M117.5 305.6V311.4M118.2 303.8V311.4M119 306.3V311.4M119.7 307.1V311.4M120.5 303.3V311.4M121.2 306.7V311.4M122 305V311.4M122.7 305.8V311.4M123.5 305.4V311.4M124.2 304.8V311.4M125 304.4V311.4M125.7 305.3V311.4M126.5 306.3V311.4M127.2 306V311.4M128 306.1V311.4M128.7 303.9V311.4M129.4 306.8V311.4M130.2 307.2V311.4M130.9 304.2V311.4M131.7 306V311.4M132.4 304V311.4M133.2 304.1V311.4M133.9 306.1V311.4M134.7 304.7V311.4M135.4 305.9V311.4M136.2 303.6V311.4M136.9 304V311.4M137.7 306.4V311.4M138.4 305.4V311.4M139.2 304.3V311.4M139.9 305.7V311.4M140.7 306.2V311.4M141.4 304.2V311.4M142.2 305.6V311.4M142.9 306.2V311.4M143.7 305.4V311.4M144.4 304.6V311.4M145.2 304.8V311.4M145.9 305V311.4M146.7 304.9V311.4M147.4 303.2V311.4M148.2 304.5V311.4M148.9 307.4V311.4M149.7 304.9V311.4M150.4 306.6V311.4M151.2 306.8V311.4M151.9 303.8V311.4M152.7 305.2V311.4M153.4 305.2V311.4M154.2 305.8V311.4M154.9 305.4V311.4M155.7 306.2V311.4M156.4 306V311.4M157.2 305.4V311.4M157.9 305.4V311.4M158.7 305.8V311.4M159.4 307V311.4M160.2 305.2V311.4M160.9 304.8V311.4M161.7 305.6V311.4M162.4 305.1V311.4M163.2 304.2V311.4M163.9 304.5V311.4M164.7 304.4V311.4M165.4 305.1V311.4M166.2 306.6V311.4M166.9 306V311.4M167.7 307.3V311.4M168.4 304.9V311.4M169.2 305.1V311.4M169.9 300.1V311.4M170.7 305.8V311.4M171.4 304.9V311.4M172.2 304.9V311.4M172.9 304.9V311.4M173.7 303.6V311.4M174.4 305.1V311.4M175.2 305.8V311.4M175.9 306.1V311.4M176.7 305.6V311.4M177.4 307.8V311.4M178.2 305.6V311.4M178.9 305.4V311.4M179.7 305.9V311.4M180.4 304.7V311.4M181.2 302.3V311.4M181.9 302.8V311.4M182.7 303.7V311.4M183.4 304.8V311.4M184.2 305.1V311.4M184.9 306.5V311.4M185.7 307.2V311.4M186.4 304.8V311.4M187.2 306.5V311.4M187.9 305.4V311.4M188.7 305.3V311.4M189.4 301.8V311.4M190.2 305.4V311.4M190.9 305.3V311.4M191.7 304.3V311.4M192.4 305.6V311.4M193.2 305V311.4M193.9 304.1V311.4M194.7 306.8V311.4M195.4 306.5V311.4M196.2 306.7V311.4M196.9 305.8V311.4M197.7 305.1V311.4M198.4 306.1V311.4M199.2 305.6V311.4M199.9 305.3V311.4M200.7 307.9V311.4M201.4 304V311.4M202.2 304.9V311.4M202.9 306V311.4M203.7 304.6V311.4M204.4 304.9V311.4M205.2 305.1V311.4M205.9 305.2V311.4M206.7 305.2V311.4M207.4 306.2V311.4M208.2 305.9V311.4" stroke="#5e4fa3" stroke-width="0.8" fill="none"/>
<path d="M51.7 301.2V308.4M57.5 296.4V308.4M63.3 290.9V308.4M69.1 283.9V308.4M74.9 277.9V308.4M80.7 272.5V308.4M86.5 267.9V308.4M92.3 263.4V308.4M98.1 258.7V308.4M103.9 255V308.4M109.7 252.2V308.4M115.5 254.8V308.4M121.3 261.8V308.4M127.1 266V308.4M132.9 272.1V308.4M138.7 279.5V308.4M144.5 285.3V308.4M150.3 290.5V308.4M156.1 295V308.4M161.9 300V308.4" stroke="#8b80c6" stroke-width="0.9" fill="none"/>
<path d="M54.6 298.8V308.4M60.4 294V308.4M66.2 287.4V308.4M72 280.8V308.4M77.8 275V308.4M83.6 270.2V308.4M89.4 265.6V308.4M95.2 261.2V308.4M101 256V308.4M106.8 247.4V308.4M112.6 253V308.4M118.4 259.6V308.4M124.2 263.7V308.4M130 268.2V308.4M135.8 276.5V308.4M141.6 282.4V308.4M147.4 288.1V308.4M153.2 292.8V308.4M159 297.2V308.4" stroke="#b1a9dc" stroke-width="0.9" fill="none"/>
<line x1="107.2" y1="246" x2="107.2" y2="311.4" stroke="#8b80c6" stroke-width="0.9"/>
<rect x="15.8" y="380.4" width="193.2" height="3.3" fill="#5e4fa3"/>
<path d="M16.2 377.7V383.7M16.9 375.8V383.7M17.7 377.1V383.7M18.4 379V383.7M19.2 377.8V383.7M19.9 377.6V383.7M20.7 377.2V383.7M21.4 376.9V383.7M22.2 377.3V383.7M22.9 376.1V383.7M23.7 376.6V383.7M24.4 377.8V383.7M25.2 376.9V383.7M25.9 378.3V383.7M26.7 377.8V383.7M27.4 374.5V383.7M28.2 376.5V383.7M28.9 376.7V383.7M29.7 376.3V383.7M30.4 377.8V383.7M31.2 378.4V383.7M31.9 377.4V383.7M32.7 377.4V383.7M33.5 377.2V383.7M34.2 377.1V383.7M35 377V383.7M35.7 374.6V383.7M36.5 377.6V383.7M37.2 376.3V383.7M38 376.7V383.7M38.7 377.4V383.7M39.5 376.8V383.7M40.2 378.7V383.7M41 379V383.7M41.7 377V383.7M42.5 377V383.7M43.2 376.8V383.7M44 378.4V383.7M44.7 376.9V383.7M45.5 377.8V383.7M46.2 375.5V383.7M47 377.1V383.7M47.7 376.3V383.7M48.5 374.1V383.7M49.2 379V383.7M50 379.9V383.7M50.7 377.3V383.7M51.5 375.3V383.7M52.2 376.9V383.7M53 374.2V383.7M53.7 377.5V383.7M54.5 377.1V383.7M55.2 376.7V383.7M56 379.7V383.7M56.7 376.6V383.7M57.5 378.2V383.7M58.2 378.6V383.7M59 378.8V383.7M59.7 374V383.7M60.5 377.2V383.7M61.2 374.1V383.7M62 377.5V383.7M62.7 378.3V383.7M63.5 378.4V383.7M64.2 372.4V383.7M65 376.9V383.7M65.7 378.1V383.7M66.5 376.9V383.7M67.2 378V383.7M68 378.7V383.7M68.7 377.8V383.7M69.5 378.6V383.7M70.2 376.8V383.7M71 378.6V383.7M71.7 377.5V383.7M72.5 376.5V383.7M73.2 374.4V383.7M74 375.6V383.7M74.7 379.5V383.7M75.5 378.3V383.7M76.2 377.6V383.7M77 377.6V383.7M77.7 377.7V383.7M78.5 377.8V383.7M79.2 378.9V383.7M80 377.8V383.7M80.7 376.9V383.7M81.5 378.1V383.7M82.2 377.1V383.7M83 377.7V383.7M83.7 379.3V383.7M84.5 378.5V383.7M85.2 373.9V383.7M86 375.9V383.7M86.7 378.2V383.7M87.5 377V383.7M88.2 377.4V383.7M89 377.4V383.7M89.7 377.7V383.7M90.5 380.3V383.7M91.2 374.9V383.7M92 377.7V383.7M92.7 375.7V383.7M93.5 378.9V383.7M94.2 378.5V383.7M95 377.7V383.7M95.7 377V383.7M96.5 376.3V383.7M97.2 378.8V383.7M98 376V383.7M98.7 379V383.7M99.5 374.4V383.7M100.2 378V383.7M101 377.5V383.7M101.7 375.5V383.7M102.5 378.8V383.7M103.2 378.6V383.7M104 377.3V383.7M104.7 378.3V383.7M105.5 376.8V383.7M106.2 375.4V383.7M107 374.9V383.7M107.7 376.3V383.7M108.5 374.7V383.7M109.2 379V383.7M110 377V383.7M110.7 376.3V383.7M111.5 377.1V383.7M112.2 375.8V383.7M113 376.2V383.7M113.7 378.1V383.7M114.5 376.8V383.7M115.2 377.6V383.7M116 378.3V383.7M116.7 377.4V383.7M117.5 377.8V383.7M118.2 377.7V383.7M119 378.5V383.7M119.7 379.2V383.7M120.5 378.4V383.7M121.2 376.9V383.7M122 375.8V383.7M122.7 377V383.7M123.5 379.2V383.7M124.2 376V383.7M125 379.4V383.7M125.7 378.9V383.7M126.5 377.1V383.7M127.2 376.7V383.7M128 378V383.7M128.7 378.2V383.7M129.4 373.1V383.7M130.2 378.6V383.7M130.9 376.1V383.7M131.7 378.3V383.7M132.4 377V383.7M133.2 373.1V383.7M133.9 374.8V383.7M134.7 376.9V383.7M135.4 378.2V383.7M136.2 376.6V383.7M136.9 378.2V383.7M137.7 375.9V383.7M138.4 378V383.7M139.2 377.9V383.7M139.9 378.1V383.7M140.7 379.4V383.7M141.4 378.7V383.7M142.2 378.2V383.7M142.9 377V383.7M143.7 378.5V383.7M144.4 373.1V383.7M145.2 377.4V383.7M145.9 376.5V383.7M146.7 376.8V383.7M147.4 378.8V383.7M148.2 376.7V383.7M148.9 375.6V383.7M149.7 378.7V383.7M150.4 376.9V383.7M151.2 377.8V383.7M151.9 377.3V383.7M152.7 374.7V383.7M153.4 380.4V383.7M154.2 378.8V383.7M154.9 377.6V383.7M155.7 378.9V383.7M156.4 377.9V383.7M157.2 376.7V383.7M157.9 377.7V383.7M158.7 378.8V383.7M159.4 376.6V383.7M160.2 373.4V383.7M160.9 376.3V383.7M161.7 378.2V383.7M162.4 378.6V383.7M163.2 376.4V383.7M163.9 378.5V383.7M164.7 374.9V383.7M165.4 379.1V383.7M166.2 379V383.7M166.9 377.5V383.7M167.7 372.2V383.7M168.4 377.5V383.7M169.2 379.3V383.7M169.9 375.7V383.7M170.7 376V383.7M171.4 376.1V383.7M172.2 377.2V383.7M172.9 376.6V383.7M173.7 376.7V383.7M174.4 379.2V383.7M175.2 376.2V383.7M175.9 379.1V383.7M176.7 377V383.7M177.4 380.4V383.7M178.2 376.7V383.7M178.9 379.6V383.7M179.7 372.7V383.7M180.4 378V383.7M181.2 378.3V383.7M181.9 378.6V383.7M182.7 378.2V383.7M183.4 376.9V383.7M184.2 375.7V383.7M184.9 377.2V383.7M185.7 376.3V383.7M186.4 376.6V383.7M187.2 376.1V383.7M187.9 378.4V383.7M188.7 378.2V383.7M189.4 378.4V383.7M190.2 377.1V383.7M190.9 376.6V383.7M191.7 376.6V383.7M192.4 376.7V383.7M193.2 378.2V383.7M193.9 378.1V383.7M194.7 377.2V383.7M195.4 377.8V383.7M196.2 378.6V383.7M196.9 377.7V383.7M197.7 376.4V383.7M198.4 378.7V383.7M199.2 376.8V383.7M199.9 376.6V383.7M200.7 377.8V383.7M201.4 376.9V383.7M202.2 377.3V383.7M202.9 377.8V383.7M203.7 377.8V383.7M204.4 377.9V383.7M205.2 380V383.7M205.9 378.4V383.7M206.7 378.6V383.7M207.4 378.7V383.7M208.2 376.4V383.7" stroke="#5e4fa3" stroke-width="0.8" fill="none"/>
<path d="M38.5 379.7L39.3 369.2L39.7 369.2L40.5 379.7zM45.9 379.7L46.7 363.4L47.1 363.4L47.9 379.7zM53.3 379.7L54.1 357L54.5 357L55.3 379.7zM60.7 379.7L61.5 350.6L61.9 350.6L62.7 379.7zM68 379.7L68.8 343.5L69.2 343.5L70 379.7zM75.4 379.7L76.2 337.1L76.6 337.1L77.4 379.7zM83.1 379.7L83.9 330L84.3 330L85.1 379.7zM90.5 379.7L91.3 323.6L91.7 323.6L92.5 379.7zM97.9 379.7L98.7 319.1L99.1 319.1L99.9 379.7zM105.3 379.7L106.1 316.2L106.5 316.2L107.3 379.7zM113 379.7L113.8 317.8L114.2 317.8L115 379.7zM120.4 379.7L121.2 325.9L121.6 325.9L122.4 379.7zM127.8 379.7L128.6 332.9L129 332.9L129.8 379.7zM135.2 379.7L136 338.7L136.4 338.7L137.2 379.7zM142.9 379.7L143.7 345.5L144.1 345.5L144.9 379.7zM150.3 379.7L151.1 352.2L151.5 352.2L152.3 379.7zM157.6 379.7L158.4 359.6L158.8 359.6L159.6 379.7zM165.3 379.7L166.1 365.4L166.5 365.4L167.3 379.7zM172.7 379.7L173.5 372.4L173.9 372.4L174.7 379.7z" fill="#a69ed8" stroke="#8a80c6" stroke-width="0.4"/>
<path d="M39.5 371.2V378.7M46.9 365.4V378.7M54.3 359V378.7M61.7 352.6V378.7M69 345.5V378.7M76.4 339.1V378.7M84.1 332V378.7M91.5 325.6V378.7M98.9 321.1V378.7M106.3 318.2V378.7M114 319.8V378.7M121.4 327.9V378.7M128.8 334.9V378.7M136.2 340.7V378.7M143.9 347.5V378.7M151.3 354.2V378.7M158.6 361.6V378.7M166.3 367.4V378.7M173.7 374.4V378.7" stroke="#e8e5f5" stroke-width="0.5"/>
<rect x="15.8" y="452.8" width="193.2" height="3.3" fill="#5e4fa3"/>
<path d="M16.2 448.8V456.1M16.9 451.4V456.1M17.7 448.8V456.1M18.4 449.2V456.1M19.2 450.7V456.1M19.9 448.7V456.1M20.7 449.1V456.1M21.4 449.1V456.1M22.2 448.9V456.1M22.9 449.1V456.1M23.7 449.2V456.1M24.4 451.3V456.1M25.2 451.6V456.1M25.9 448.2V456.1M26.7 449.1V456.1M27.4 449.4V456.1M28.2 449.4V456.1M28.9 449.3V456.1M29.7 445V456.1M30.4 448.6V456.1M31.2 449V456.1M31.9 449.5V456.1M32.7 446.5V456.1M33.5 449.2V456.1M34.2 451.3V456.1M35 448.6V456.1M35.7 452V456.1M36.5 450.8V456.1M37.2 450.1V456.1M38 450.7V456.1M38.7 450.7V456.1M39.5 450.1V456.1M40.2 448.6V456.1M41 450.1V456.1M41.7 451.6V456.1M42.5 452.3V456.1M43.2 451.6V456.1M44 447.6V456.1M44.7 451.5V456.1M45.5 449.9V456.1M46.2 450.1V456.1M47 449.9V456.1M47.7 450.5V456.1M48.5 448.8V456.1M49.2 450.7V456.1M50 450.7V456.1M50.7 450.5V456.1M51.5 451.9V456.1M52.2 447.9V456.1M53 450.6V456.1M53.7 449.3V456.1M54.5 450.2V456.1M55.2 448V456.1M56 450.6V456.1M56.7 449.6V456.1M57.5 448V456.1M58.2 449.2V456.1M59 448.3V456.1M59.7 448.4V456.1M60.5 450.2V456.1M61.2 450.5V456.1M62 452.6V456.1M62.7 450V456.1M63.5 450.1V456.1M64.2 449.7V456.1M65 444.8V456.1M65.7 450.7V456.1M66.5 449.3V456.1M67.2 450.8V456.1M68 450V456.1M68.7 450.1V456.1M69.5 450.9V456.1M70.2 451.2V456.1M71 450.3V456.1M71.7 450.7V456.1M72.5 450.2V456.1M73.2 450.3V456.1M74 445.4V456.1M74.7 449V456.1M75.5 450.3V456.1M76.2 444V456.1M77 450.5V456.1M77.7 447.7V456.1M78.5 448.9V456.1M79.2 449.4V456.1M80 449.8V456.1M80.7 450.7V456.1M81.5 449.7V456.1M82.2 448.6V456.1M83 450.1V456.1M83.7 450V456.1M84.5 449.5V456.1M85.2 450.7V456.1M86 450.2V456.1M86.7 449.1V456.1M87.5 449.9V456.1M88.2 449.5V456.1M89 449.9V456.1M89.7 450.7V456.1M90.5 450.8V456.1M91.2 450.4V456.1M92 449.1V456.1M92.7 448.9V456.1M93.5 451.2V456.1M94.2 450.1V456.1M95 449.9V456.1M95.7 451.3V456.1M96.5 450.1V456.1M97.2 449.9V456.1M98 451V456.1M98.7 449V456.1M99.5 450.5V456.1M100.2 450.5V456.1M101 450.3V456.1M101.7 450V456.1M102.5 448.6V456.1M103.2 451.5V456.1M104 446.8V456.1M104.7 449.3V456.1M105.5 450.8V456.1M106.2 451.8V456.1M107 450V456.1M107.7 450.1V456.1M108.5 450.7V456.1M109.2 449.7V456.1M110 449.4V456.1M110.7 448.8V456.1M111.5 450.6V456.1M112.2 450.8V456.1M113 449.3V456.1M113.7 448.4V456.1M114.5 450.4V456.1M115.2 449.6V456.1M116 449.7V456.1M116.7 450.6V456.1M117.5 450.1V456.1M118.2 449.6V456.1M119 450V456.1M119.7 448.9V456.1M120.5 449V456.1M121.2 449.3V456.1M122 449.6V456.1M122.7 449.8V456.1M123.5 448.9V456.1M124.2 450.4V456.1M125 451V456.1M125.7 450.8V456.1M126.5 449.2V456.1M127.2 449.5V456.1M128 449.8V456.1M128.7 448.6V456.1M129.4 449.7V456.1M130.2 447.4V456.1M130.9 449.1V456.1M131.7 450.8V456.1M132.4 448.8V456.1M133.2 450V456.1M133.9 445.3V456.1M134.7 450.5V456.1M135.4 450.3V456.1M136.2 449.2V456.1M136.9 448.5V456.1M137.7 449.6V456.1M138.4 447.7V456.1M139.2 449.4V456.1M139.9 448.8V456.1M140.7 452.5V456.1M141.4 449.9V456.1M142.2 449.1V456.1M142.9 450.3V456.1M143.7 451.8V456.1M144.4 449V456.1M145.2 447.9V456.1M145.9 451.9V456.1M146.7 449V456.1M147.4 451.8V456.1M148.2 449.3V456.1M148.9 450.4V456.1M149.7 451.3V456.1M150.4 449.9V456.1M151.2 450.8V456.1M151.9 448.2V456.1M152.7 450.2V456.1M153.4 449.7V456.1M154.2 450V456.1M154.9 446.2V456.1M155.7 450.3V456.1M156.4 451.6V456.1M157.2 450.8V456.1M157.9 449.4V456.1M158.7 449.8V456.1M159.4 450.7V456.1M160.2 451.8V456.1M160.9 450.9V456.1M161.7 449.3V456.1M162.4 449.6V456.1M163.2 452.6V456.1M163.9 450.1V456.1M164.7 451.5V456.1M165.4 448.9V456.1M166.2 450.2V456.1M166.9 449.1V456.1M167.7 448.8V456.1M168.4 450V456.1M169.2 449.9V456.1M169.9 449.3V456.1M170.7 450.9V456.1M171.4 450.7V456.1M172.2 452.3V456.1M172.9 450.1V456.1M173.7 449.6V456.1M174.4 450.8V456.1M175.2 450.6V456.1M175.9 448.2V456.1M176.7 448V456.1M177.4 450.4V456.1M178.2 448.7V456.1M178.9 451V456.1M179.7 449.9V456.1M180.4 445.8V456.1M181.2 447.3V456.1M181.9 446.3V456.1M182.7 451V456.1M183.4 448.9V456.1M184.2 450.2V456.1M184.9 450.1V456.1M185.7 449.2V456.1M186.4 449.9V456.1M187.2 449.9V456.1M187.9 452.4V456.1M188.7 449.6V456.1M189.4 451.8V456.1M190.2 449.8V456.1M190.9 450.4V456.1M191.7 449.2V456.1M192.4 449.2V456.1M193.2 451.1V456.1M193.9 448.7V456.1M194.7 451.3V456.1M195.4 449.9V456.1M196.2 444.5V456.1M196.9 452V456.1M197.7 450.4V456.1M198.4 450.1V456.1M199.2 451.5V456.1M199.9 451V456.1M200.7 445.9V456.1M201.4 449.8V456.1M202.2 450.4V456.1M202.9 449.4V456.1M203.7 446V456.1M204.4 448V456.1M205.2 451.5V456.1M205.9 449.4V456.1M206.7 449.3V456.1M207.4 449.9V456.1M208.2 450.8V456.1" stroke="#5e4fa3" stroke-width="0.8" fill="none"/>
<path d="M44.9 452.1L45.7 446.3L46.1 446.3L46.9 452.1zM54.6 452.1L55.4 437.3L55.8 437.3L56.6 452.1zM64.2 452.1L65 428L65.4 428L66.2 452.1zM73.8 452.1L74.6 419L75 419L75.8 452.1zM83.8 452.1L84.6 409.4L85 409.4L85.8 452.1zM93.4 452.1L94.2 400.4L94.6 400.4L95.4 452.1zM103 452.1L103.8 396.5L104.2 396.5L105 452.1zM112.7 452.1L113.5 399.7L113.9 399.7L114.7 452.1zM122.6 452.1L123.4 409.4L123.8 409.4L124.6 452.1zM132.3 452.1L133.1 419L133.5 419L134.3 452.1zM142.2 452.1L143 428L143.4 428L144.2 452.1zM152.2 452.1L153 437.3L153.4 437.3L154.2 452.1zM162.1 452.1L162.9 446.3L163.3 446.3L164.1 452.1z" fill="#a69ed8" stroke="#8a80c6" stroke-width="0.4"/>
<path d="M45.9 448.3V451.1M55.6 439.3V451.1M65.2 430V451.1M74.8 421V451.1M84.8 411.4V451.1M94.4 402.4V451.1M104 398.5V451.1M113.7 401.7V451.1M123.6 411.4V451.1M133.3 421V451.1M143.2 430V451.1M153.2 439.3V451.1M163.1 448.3V451.1" stroke="#e8e5f5" stroke-width="0.5"/>
<rect x="15.8" y="525" width="193.2" height="3.3" fill="#5e4fa3"/>
<path d="M16.2 522.7V528.3M16.9 519.2V528.3M17.7 521.5V528.3M18.4 523.8V528.3M19.2 521.5V528.3M19.9 521.4V528.3M20.7 521.2V528.3M21.4 522.5V528.3M22.2 521.5V528.3M22.9 522.8V528.3M23.7 522.7V528.3M24.4 522.1V528.3M25.2 522.4V528.3M25.9 522.1V528.3M26.7 521V528.3M27.4 521.9V528.3M28.2 522.4V528.3M28.9 523V528.3M29.7 521.3V528.3M30.4 523.3V528.3M31.2 522.7V528.3M31.9 523.2V528.3M32.7 522.4V528.3M33.5 522.1V528.3M34.2 525V528.3M35 522.4V528.3M35.7 521.9V528.3M36.5 523.5V528.3M37.2 522.8V528.3M38 520.4V528.3M38.7 522.8V528.3M39.5 521.7V528.3M40.2 523.4V528.3M41 521.2V528.3M41.7 524.2V528.3M42.5 519.3V528.3M43.2 524.1V528.3M44 518.4V528.3M44.7 521.7V528.3M45.5 523.5V528.3M46.2 523.7V528.3M47 521.8V528.3M47.7 522.1V528.3M48.5 524.6V528.3M49.2 520.6V528.3M50 522.5V528.3M50.7 522.4V528.3M51.5 524.1V528.3M52.2 519.4V528.3M53 521.1V528.3M53.7 518.8V528.3M54.5 518.9V528.3M55.2 521.4V528.3M56 521.3V528.3M56.7 520.2V528.3M57.5 519V528.3M58.2 520V528.3M59 521.9V528.3M59.7 523V528.3M60.5 522.7V528.3M61.2 523.2V528.3M62 523.6V528.3M62.7 520.6V528.3M63.5 521.6V528.3M64.2 522.7V528.3M65 522.2V528.3M65.7 521.8V528.3M66.5 522V528.3M67.2 523.9V528.3M68 522.7V528.3M68.7 522.8V528.3M69.5 520.8V528.3M70.2 523.2V528.3M71 522.5V528.3M71.7 522.6V528.3M72.5 522.7V528.3M73.2 524V528.3M74 520.4V528.3M74.7 522.4V528.3M75.5 521.8V528.3M76.2 522V528.3M77 522.8V528.3M77.7 519.5V528.3M78.5 524.6V528.3M79.2 522.4V528.3M80 521V528.3M80.7 523.8V528.3M81.5 522.4V528.3M82.2 522V528.3M83 522.7V528.3M83.7 522.7V528.3M84.5 521.7V528.3M85.2 522.5V528.3M86 520.2V528.3M86.7 521.7V528.3M87.5 520.7V528.3M88.2 521.6V528.3M89 523.3V528.3M89.7 522.4V528.3M90.5 522.3V528.3M91.2 522.3V528.3M92 524.1V528.3M92.7 518.8V528.3M93.5 521.9V528.3M94.2 524.3V528.3M95 523V528.3M95.7 523.3V528.3M96.5 522V528.3M97.2 524.6V528.3M98 521.6V528.3M98.7 521.2V528.3M99.5 521.3V528.3M100.2 524.6V528.3M101 521.1V528.3M101.7 522.7V528.3M102.5 522.6V528.3M103.2 523.1V528.3M104 521.7V528.3M104.7 521.2V528.3M105.5 522.3V528.3M106.2 522.7V528.3M107 521.1V528.3M107.7 522.4V528.3M108.5 518.9V528.3M109.2 521.1V528.3M110 521.1V528.3M110.7 521.6V528.3M111.5 522.8V528.3M112.2 522.7V528.3M113 521.4V528.3M113.7 518.8V528.3M114.5 519.2V528.3M115.2 522.6V528.3M116 525V528.3M116.7 523.3V528.3M117.5 522.1V528.3M118.2 522.1V528.3M119 521V528.3M119.7 523V528.3M120.5 521.7V528.3M121.2 523.1V528.3M122 520.7V528.3M122.7 521.4V528.3M123.5 519.6V528.3M124.2 521.7V528.3M125 522V528.3M125.7 523.6V528.3M126.5 522.2V528.3M127.2 523.5V528.3M128 521.2V528.3M128.7 523.1V528.3M129.4 519.6V528.3M130.2 522.4V528.3M130.9 519.8V528.3M131.7 522.3V528.3M132.4 522.7V528.3M133.2 522.8V528.3M133.9 522V528.3M134.7 522.2V528.3M135.4 523.9V528.3M136.2 522.9V528.3M136.9 518.2V528.3M137.7 522.9V528.3M138.4 519.1V528.3M139.2 523.1V528.3M139.9 521.6V528.3M140.7 522.4V528.3M141.4 522.1V528.3M142.2 522.4V528.3M142.9 521.4V528.3M143.7 520.9V528.3M144.4 523.4V528.3M145.2 523.1V528.3M145.9 521.9V528.3M146.7 523V528.3M147.4 521.5V528.3M148.2 522.9V528.3M148.9 520.8V528.3M149.7 522.4V528.3M150.4 520.9V528.3M151.2 522.2V528.3M151.9 523.7V528.3M152.7 522.5V528.3M153.4 523.7V528.3M154.2 522.3V528.3M154.9 523.4V528.3M155.7 521V528.3M156.4 524V528.3M157.2 521.8V528.3M157.9 523.9V528.3M158.7 523.4V528.3M159.4 523.6V528.3M160.2 523.2V528.3M160.9 522.2V528.3M161.7 523.3V528.3M162.4 522.1V528.3M163.2 521.1V528.3M163.9 521.9V528.3M164.7 524.3V528.3M165.4 522.6V528.3M166.2 521.5V528.3M166.9 522.6V528.3M167.7 521.8V528.3M168.4 523.2V528.3M169.2 522.6V528.3M169.9 521.4V528.3M170.7 523.5V528.3M171.4 522.4V528.3M172.2 522.5V528.3M172.9 522.7V528.3M173.7 521.9V528.3M174.4 520.9V528.3M175.2 522.6V528.3M175.9 523V528.3M176.7 519.3V528.3M177.4 523.8V528.3M178.2 522.8V528.3M178.9 523.7V528.3M179.7 520.9V528.3M180.4 522.3V528.3M181.2 524.2V528.3M181.9 520.3V528.3M182.7 522.5V528.3M183.4 523.4V528.3M184.2 523.4V528.3M184.9 518.9V528.3M185.7 522.8V528.3M186.4 524.4V528.3M187.2 521.9V528.3M187.9 522.9V528.3M188.7 523.6V528.3M189.4 522.5V528.3M190.2 521.4V528.3M190.9 526.1V528.3M191.7 522V528.3M192.4 522.2V528.3M193.2 521.5V528.3M193.9 520.4V528.3M194.7 521.4V528.3M195.4 522.5V528.3M196.2 520.8V528.3M196.9 521.7V528.3M197.7 522.5V528.3M198.4 522.1V528.3M199.2 521.3V528.3M199.9 520.8V528.3M200.7 522.9V528.3M201.4 522.6V528.3M202.2 523.8V528.3M202.9 521.3V528.3M203.7 522.5V528.3M204.4 520.5V528.3M205.2 520.7V528.3M205.9 519.3V528.3M206.7 522.8V528.3M207.4 520.6V528.3M208.2 522.2V528.3" stroke="#5e4fa3" stroke-width="0.8" fill="none"/>
<path d="M54.2 524.3L55 515.5L55.4 515.5L56.2 524.3zM67.1 524.3L67.9 501.7L68.3 501.7L69.1 524.3zM80.2 524.3L81 488.8L81.4 488.8L82.2 524.3zM93.4 524.3L94.2 473.7L94.6 473.7L95.4 524.3zM106.6 524.3L107.4 467.3L107.8 467.3L108.6 524.3zM120.1 524.3L120.9 474.7L121.3 474.7L122.1 524.3zM133.2 524.3L134 489.8L134.4 489.8L135.2 524.3zM146.4 524.3L147.2 503.3L147.6 503.3L148.4 524.3zM159.9 524.3L160.7 516.4L161.1 516.4L161.9 524.3z" fill="#a69ed8" stroke="#8a80c6" stroke-width="0.4"/>
<path d="M55.2 517.5V523.3M68.1 503.7V523.3M81.2 490.8V523.3M94.4 475.7V523.3M107.6 469.3V523.3M121.1 476.7V523.3M134.2 491.8V523.3M147.4 505.3V523.3M160.9 518.4V523.3" stroke="#e8e5f5" stroke-width="0.5"/>
<rect x="15.8" y="238.1" width="193.2" height="290.2" fill="none" stroke="#7a7a7a" stroke-width="1"/>
<line x1="15.8" y1="311.4" x2="209" y2="311.4" stroke="#333" stroke-width="1.2"/>
<line x1="15.8" y1="383.7" x2="209" y2="383.7" stroke="#333" stroke-width="1.2"/>
<line x1="15.8" y1="456.1" x2="209" y2="456.1" stroke="#333" stroke-width="1.2"/>
<line x1="15.8" y1="528.3" x2="209" y2="528.3" stroke="#444" stroke-width="1.2"/>
<path d="M15.8 256.4h1.8M15.8 274.8h1.8M15.8 293.1h1.8M15.8 329.5h1.8M15.8 347.5h1.8M15.8 365.6h1.8M15.8 401.8h1.8M15.8 419.9h1.8M15.8 438h1.8M15.8 474.1h1.8M15.8 492.2h1.8M15.8 510.2h1.8M20.8 528.3v-2M56.6 528.3v-2M92.4 528.3v-2M128.2 528.3v-2M164 528.3v-2M199.8 528.3v-2" stroke="#555" stroke-width="0.7"/>
<text x="20.8" y="540.1" font-size="10.58" text-anchor="middle" stroke="#000" stroke-width="0.3" textLength="21.6" lengthAdjust="spacingAndGlyphs">1535</text>
<text x="56.6" y="540.1" font-size="10.58" text-anchor="middle" stroke="#000" stroke-width="0.3" textLength="21.6" lengthAdjust="spacingAndGlyphs">1540</text>
<text x="92.4" y="540.1" font-size="10.58" text-anchor="middle" stroke="#000" stroke-width="0.3" textLength="21.6" lengthAdjust="spacingAndGlyphs">1545</text>
<text x="128.2" y="540.1" font-size="10.58" text-anchor="middle" stroke="#000" stroke-width="0.3" textLength="21.6" lengthAdjust="spacingAndGlyphs">1550</text>
<text x="164" y="540.1" font-size="10.58" text-anchor="middle" stroke="#000" stroke-width="0.3" textLength="21.6" lengthAdjust="spacingAndGlyphs">1555</text>
<text x="199.8" y="540.1" font-size="10.58" text-anchor="middle" stroke="#000" stroke-width="0.3" textLength="21.6" lengthAdjust="spacingAndGlyphs">1560</text>
<text x="112.4" y="550.8" font-size="11.23" text-anchor="middle" stroke="#000" stroke-width="0.3" textLength="76" lengthAdjust="spacingAndGlyphs">Wavelength (nm)</text>
<text x="9.8" y="376.6" font-size="11.66" text-anchor="middle" stroke="#000" stroke-width="0.3" textLength="101" lengthAdjust="spacingAndGlyphs" transform="rotate(-90 9.8 376.6)">Intensity (20 dB/div)</text>
<text x="16.3" y="253.1" font-size="10.8" stroke="#000" stroke-width="0.3" textLength="72.8" lengthAdjust="spacingAndGlyphs">5-soliton crystal</text>
<text x="175.5" y="254.4" font-size="10.8" text-anchor="middle" stroke="#000" stroke-width="0.3" textLength="40.6" lengthAdjust="spacingAndGlyphs">50.5 GHz</text>
<text x="175.5" y="268" font-size="10.8" text-anchor="middle" stroke="#000" stroke-width="0.3" textLength="34.3" lengthAdjust="spacingAndGlyphs">(5×FSR)</text>
<text x="16.3" y="324.6" font-size="10.8" stroke="#000" stroke-width="0.3" textLength="78.7" lengthAdjust="spacingAndGlyphs">13-soliton crystal</text>
<text x="175.5" y="325.9" font-size="10.8" text-anchor="middle" stroke="#000" stroke-width="0.3" textLength="46.5" lengthAdjust="spacingAndGlyphs">131.3 GHz</text>
<text x="175.5" y="341.4" font-size="10.8" text-anchor="middle" stroke="#000" stroke-width="0.3" textLength="39.8" lengthAdjust="spacingAndGlyphs">(13×FSR)</text>
<text x="16.3" y="397.9" font-size="10.8" stroke="#000" stroke-width="0.3" textLength="78.7" lengthAdjust="spacingAndGlyphs">17-soliton crystal</text>
<text x="175.5" y="399.2" font-size="10.8" text-anchor="middle" stroke="#000" stroke-width="0.3" textLength="46.5" lengthAdjust="spacingAndGlyphs">171.7 GHz</text>
<text x="175.5" y="413.9" font-size="10.8" text-anchor="middle" stroke="#000" stroke-width="0.3" textLength="39.8" lengthAdjust="spacingAndGlyphs">(17×FSR)</text>
<text x="16.3" y="470.9" font-size="10.8" stroke="#000" stroke-width="0.3" textLength="78.7" lengthAdjust="spacingAndGlyphs">23-soliton crystal</text>
<text x="175.5" y="472.2" font-size="10.8" text-anchor="middle" stroke="#000" stroke-width="0.3" textLength="46.5" lengthAdjust="spacingAndGlyphs">232.3 GHz</text>
<text x="175.5" y="486.3" font-size="10.8" text-anchor="middle" stroke="#000" stroke-width="0.3" textLength="39.8" lengthAdjust="spacingAndGlyphs">(23×FSR)</text>
</g>
<g id="pc">
<text x="223.5" y="244.8" font-size="16.5" font-weight="bold">c</text>
<polyline points="241.9,275.9 242.5,279.7 243.1,278.6 243.7,280.4 244.3,277 244.9,277.4 245.5,275.3 246.1,278.1 246.7,279.7 247.3,278.1 247.9,278.1 248.5,280.6 249.1,279.7 249.7,276.8 250.3,280.8 250.9,285.2 251.5,276.8 252.1,276.2 252.7,279.1 253.3,278 253.9,278.6 254.5,275.7 255.1,279.7 255.7,280.3 256.3,277.5 256.9,276.8 257.5,284.3 258.1,281 258.7,275.7 259.3,278.3 259.9,277.6 260.5,276.6 261.1,278.1 261.7,279 262.3,277.2 262.9,276.8 263.5,284.7 264.1,279 264.7,276.8 265.3,275.9 265.9,277.3 266.5,280.7 267.1,284 267.7,276.2 268.3,278.7 268.9,274.9 269.5,280.5 270.1,280.8 270.7,276.2 271.3,277 271.9,276.8 272.5,276 273.1,279.1 273.7,277.2 274.3,274.9 274.9,276.3 275.5,279 276.1,279.3 276.7,275 277.3,278.3 277.9,278.9 278.5,278.8 279.1,278.4 279.7,277.1 280.3,270.4 280.9,265.6 281.5,264.3 282.1,268 282.7,275.1 283.3,276.2 283.9,278.7 284.5,277.2 285.1,278 285.7,278.3 286.3,285.5 286.9,276.7 287.5,279.1 288.1,276.3 288.7,279.8 289.3,276.3 289.9,275.3 290.5,275.1 291.1,278.6 291.7,276.9 292.3,278.5 292.9,276.8 293.5,277.6 294.1,280.3 294.7,280.6 295.3,275.1 295.9,280.8 296.5,284.8 297.1,279.5 297.7,280.7 298.3,276.1 298.9,277.3 299.5,280.4 300.1,278.1 300.7,280.5 301.3,280.1 301.9,281.1 302.5,279 303.1,275.3 303.7,280.5 304.3,276 304.9,275.9 305.5,277.2 306.1,276.2 306.7,275.7 307.3,283.5 307.9,276.7 308.5,266 309.1,256.1 309.7,252.3 310.3,259.2 310.9,270 311.5,278.3 312.1,275.3 312.7,283 313.3,276.2 313.9,279.7 314.5,276.2 315.1,279.9 315.7,277.4 316.3,280.7 316.9,277.1 317.5,278 318.1,283.3 318.7,276.6 319.3,277.5 319.9,280.5 320.5,278.5 321.1,279.9 321.7,280.2 322.3,275.4 322.9,276.8 323.5,280.1 324.1,279.6 324.7,278.4 325.3,277.4 325.9,284.3 326.5,275 327.1,275.7 327.7,277.1 328.3,275.8 328.9,276.3 329.5,279.9 330.1,279.7 330.7,279.4 331.3,278.4 331.9,280.6 332.5,276.3 333.1,278.8 333.7,277.5 334.3,280.8 334.9,277 335.5,276 336.1,276.9 336.7,269.4 337.3,255.6 337.9,246.2 338.5,250.8 339.1,264.6 339.7,273.9 340.3,279.7 340.9,277.3 341.5,276.4 342.1,276.8 342.7,285.1 343.3,281 343.9,279.2 344.5,279.4 345.1,277.8 345.7,277.4 346.3,280.7 346.9,277.7 347.5,275.7 348.1,279.7 348.7,276.1 349.3,277.3 349.9,278.7 350.5,280.1 351.1,274.9 351.7,278.9 352.3,275.7 352.9,278.8 353.5,278.7 354.1,278.1 354.7,277.5 355.3,278.3 355.9,280.9 356.5,277.1 357.1,277.8 357.7,275.8 358.3,277.3 358.9,275.2 359.5,280.6 360.1,277 360.7,280.7 361.3,275.7 361.9,279 362.5,278.6 363.1,279 363.7,279.8 364.3,274.8 364.9,275.8 365.5,265.1 366.1,256 366.7,252.3 367.3,259.7 367.9,271.8 368.5,278 369.1,277.2 369.7,276.6 370.3,276.1 370.9,275.1 371.5,279.3 372.1,279.9 372.7,275.2 373.3,285.5 373.9,280.1 374.5,278.9 375.1,277.5 375.7,280.8 376.3,277.5 376.9,276.8 377.5,284.1 378.1,277 378.7,277.3 379.3,278 379.9,275.4 380.5,278.6 381.1,278.5 381.7,279.3 382.3,276.4 382.9,275.1 383.5,279.3 384.1,277.2 384.7,278.6 385.3,276.6 385.9,277.1 386.5,276.5 387.1,278 387.7,278.9 388.3,276.3 388.9,276.9 389.5,277.8 390.1,279.2 390.7,277.2 391.3,275.3 391.9,278.1 392.5,277.6 393.1,279.9 393.7,274.7 394.3,268.8 394.9,266.3 395.5,267.7 396.1,272.5 396.7,273.9 397.3,278.3 397.9,275.9 398.5,280.8 399.1,276.1 399.7,280.9 400.3,280.6 400.9,278.1 401.5,277.8 402.1,277.3 402.7,279.6 403.3,276.1 403.9,277.1 404.5,275.2 405.1,277.5 405.7,276.1 406.3,284.3 406.9,277.7 407.5,276.3 408.1,276.6 408.7,276 409.3,275.4 409.9,275.2 410.5,279.4 411.1,275.5 411.7,280.1 412.3,280.9 412.9,284.6 413.5,276 414.1,279.8 414.7,278.6 415.3,280.8 415.9,276.7 416.5,278.7 417.1,278.7 417.7,276.1 418.3,283.8 418.9,279.4 419.5,279.9 420.1,280.2 420.7,275 421.3,279.6 421.9,276.9 422.5,279.7 423.1,275.8 423.7,277.2 424.3,277.4 424.9,279.2 425.5,278.7 426.1,280 426.7,274.9 427.3,276.7 427.9,279.5 428.5,276.4 429.1,280.1 429.7,276.8" fill="none" stroke="#98be4c" stroke-width="0.95" stroke-linejoin="bevel"/>
<polyline points="241.9,277.8 242.5,279.7 243.1,276.7 243.7,276.9 244.3,280.6 244.9,278.5 245.5,280.8 246.1,275.3 246.7,280.7 247.3,275.2 247.9,279.5 248.5,278.5 249.1,275.6 249.7,276.8 250.3,277.9 250.9,278.4 251.5,284.7 252.1,275 252.7,281.1 253.3,277.1 253.9,279.4 254.5,280.7 255.1,281 255.7,276 256.3,280.4 256.9,278.1 257.5,279 258.1,276.4 258.7,275.8 259.3,278.5 259.9,280.5 260.5,277.5 261.1,280.8 261.7,279.3 262.3,275 262.9,280.7 263.5,275.6 264.1,276.3 264.7,278.4 265.3,280.7 265.9,275.7 266.5,276.7 267.1,275.2 267.7,275.4 268.3,277.6 268.9,278.5 269.5,278.1 270.1,275.2 270.7,277.6 271.3,277.7 271.9,280.7 272.5,276.9 273.1,278.8 273.7,277.9 274.3,279.7 274.9,278.6 275.5,281.1 276.1,278.9 276.7,277 277.3,277.5 277.9,283.3 278.5,277.1 279.1,280.1 279.7,275.3 280.3,272.3 280.9,265.2 281.5,264.3 282.1,268.8 282.7,273.1 283.3,277.7 283.9,275.1 284.5,284.6 285.1,280.2 285.7,278.1 286.3,277 286.9,275.8 287.5,275.9 288.1,276.3 288.7,277.8 289.3,275 289.9,276.2 290.5,277.6 291.1,280.4 291.7,280.3 292.3,280.7 292.9,276.3 293.5,275.7 294.1,280.2 294.7,279.2 295.3,276.4 295.9,277.6 296.5,280.6 297.1,280 297.7,285.5 298.3,278 298.9,276.1 299.5,278.2 300.1,275.6 300.7,275.6 301.3,275.4 301.9,276.5 302.5,275.9 303.1,276.5 303.7,279.2 304.3,279.1 304.9,275 305.5,280.2 306.1,280 306.7,280.7 307.3,275.6 307.9,275.8 308.5,267 309.1,256.4 309.7,252.3 310.3,258.8 310.9,271.5 311.5,277.9 312.1,278.6 312.7,277.4 313.3,278.3 313.9,275.8 314.5,279.5 315.1,278.3 315.7,278.5 316.3,279.3 316.9,275.5 317.5,275.2 318.1,275.6 318.7,275.4 319.3,279.9 319.9,275.7 320.5,277.2 321.1,279 321.7,276.5 322.3,284.9 322.9,280.6 323.5,277.3 324.1,278.5 324.7,279.8 325.3,281 325.9,279.2 326.5,277.7 327.1,275.2 327.7,278.9 328.3,279 328.9,279.2 329.5,277.1 330.1,280.3 330.7,278.6 331.3,277.3 331.9,276.4 332.5,275.1 333.1,279.3 333.7,276.9 334.3,280.2 334.9,276.8 335.5,276.4 336.1,277 336.7,267.6 337.3,256.1 337.9,246.2 338.5,251.5 339.1,262.8 339.7,271.2 340.3,274.2 340.9,280.2 341.5,277.8 342.1,279.5 342.7,278.2 343.3,280.9 343.9,279.9 344.5,277.9 345.1,276 345.7,277.3 346.3,277.3 346.9,277.1 347.5,279.3 348.1,280.1 348.7,280.1 349.3,276.1 349.9,275.9 350.5,279.1 351.1,279.5 351.7,279.8 352.3,280.5 352.9,277 353.5,275.3 354.1,277.2 354.7,276.9 355.3,275.6 355.9,279.1 356.5,278.1 357.1,278.8 357.7,280.3 358.3,278.5 358.9,280.4 359.5,280 360.1,278.2 360.7,278.7 361.3,277.8 361.9,277.3 362.5,279.4 363.1,278.6 363.7,277.1 364.3,278.3 364.9,274.7 365.5,265.4 366.1,256.5 366.7,252.3 367.3,260.3 367.9,271.7 368.5,273.7 369.1,276.2 369.7,279.2 370.3,276.1 370.9,280 371.5,279.1 372.1,280.8 372.7,277.1 373.3,279.2 373.9,278.6 374.5,279.1 375.1,280.8 375.7,277.1 376.3,276.3 376.9,279.9 377.5,275.8 378.1,278.3 378.7,280.7 379.3,280.2 379.9,279.2 380.5,275 381.1,281 381.7,277.7 382.3,276.7 382.9,275.3 383.5,275.8 384.1,275.2 384.7,278.4 385.3,284.2 385.9,276.7 386.5,280 387.1,275.4 387.7,277.5 388.3,279.9 388.9,280.1 389.5,279.3 390.1,278.2 390.7,275.9 391.3,284.4 391.9,279.4 392.5,279.6 393.1,277.7 393.7,276.1 394.3,269.7 394.9,266.3 395.5,268.5 396.1,271.7 396.7,274.5 397.3,280.7 397.9,276.7 398.5,277.7 399.1,277.5 399.7,280.2 400.3,275 400.9,277.9 401.5,277.8 402.1,275.5 402.7,277.7 403.3,280.3 403.9,275.2 404.5,283.1 405.1,278.7 405.7,278.3 406.3,279.6 406.9,277 407.5,275.6 408.1,277.2 408.7,280.1 409.3,277.6 409.9,277.4 410.5,279.8 411.1,278.5 411.7,275.7 412.3,277.3 412.9,280.6 413.5,275.1 414.1,279.6 414.7,276.8 415.3,279.6 415.9,275.9 416.5,279 417.1,280.2 417.7,275.3 418.3,280.9 418.9,275.5 419.5,275 420.1,280 420.7,278.1 421.3,275.1 421.9,279 422.5,278.1 423.1,284.5 423.7,281 424.3,280.4 424.9,278.1 425.5,280 426.1,279.5 426.7,276.6 427.3,279.5 427.9,276.7 428.5,277.5 429.1,275.4 429.7,275.7" fill="none" stroke="#98be4c" stroke-width="0.95" stroke-linejoin="bevel"/>
<polyline points="241.9,326.4 242.5,326.2 243.1,324.4 243.7,324.1 244.3,324.4 244.9,322.2 245.5,322 246.1,322.2 246.7,322.3 247.3,322 247.9,324 248.5,322.4 249.1,327.6 249.7,324 250.3,321.5 250.9,325.6 251.5,325.9 252.1,327.4 252.7,323 253.3,323.5 253.9,326.1 254.5,325.4 255.1,325.4 255.7,327.3 256.3,327.7 256.9,321.5 257.5,323.9 258.1,327.4 258.7,321.6 259.3,323.6 259.9,326.2 260.5,321.9 261.1,325.1 261.7,327.2 262.3,324.8 262.9,321.5 263.5,322.2 264.1,324 264.7,321.6 265.3,325.6 265.9,323.2 266.5,323.6 267.1,326.4 267.7,326.1 268.3,326.5 268.9,322.7 269.5,323.6 270.1,325.5 270.7,324.6 271.3,326.5 271.9,324.1 272.5,327.2 273.1,322.9 273.7,325.6 274.3,326.5 274.9,327.6 275.5,323.8 276.1,326.8 276.7,324 277.3,320.6 277.9,313.5 278.5,309.7 279.1,311.6 279.7,319.9 280.3,322.9 280.9,324.7 281.5,322.5 282.1,325.7 282.7,322.4 283.3,326.7 283.9,326.1 284.5,322.5 285.1,326.4 285.7,325.4 286.3,323.3 286.9,325.6 287.5,325.8 288.1,324.6 288.7,325.8 289.3,326.4 289.9,327 290.5,326.7 291.1,322.2 291.7,326.9 292.3,327.4 292.9,324.5 293.5,327.1 294.1,322.9 294.7,321.7 295.3,324.3 295.9,322.2 296.5,322.3 297.1,324.3 297.7,327.6 298.3,324.7 298.9,327.6 299.5,324.7 300.1,324.4 300.7,321.6 301.3,322 301.9,326.9 302.5,325.8 303.1,325 303.7,327 304.3,325.5 304.9,323.2 305.5,326.9 306.1,325.9 306.7,320.9 307.3,320.8 307.9,309.4 308.5,300.3 309.1,300.3 309.7,310.9 310.3,317.2 310.9,324.8 311.5,323.3 312.1,326.8 312.7,322.2 313.3,326.9 313.9,327.6 314.5,324.7 315.1,324.9 315.7,325.3 316.3,327.1 316.9,322 317.5,326.8 318.1,323.7 318.7,324 319.3,326.9 319.9,322.2 320.5,322.4 321.1,325.7 321.7,326 322.3,322.9 322.9,325.8 323.5,323.7 324.1,321.7 324.7,323.1 325.3,322.5 325.9,324.3 326.5,324.3 327.1,323.9 327.7,327.2 328.3,323.9 328.9,322.7 329.5,327.4 330.1,325.5 330.7,327.4 331.3,324.3 331.9,325.3 332.5,323.5 333.1,327.5 333.7,323.2 334.3,327.3 334.9,323.6 335.5,326.3 336.1,325.3 336.7,324.9 337.3,316.9 337.9,308.8 338.5,296.4 339.1,296.3 339.7,308 340.3,316.2 340.9,324.1 341.5,325.8 342.1,322.7 342.7,322.2 343.3,322.3 343.9,325.6 344.5,326.1 345.1,327.2 345.7,323.5 346.3,322.1 346.9,325.4 347.5,326.7 348.1,326 348.7,324.5 349.3,323.2 349.9,326 350.5,326.8 351.1,322.8 351.7,325.9 352.3,326.3 352.9,327.7 353.5,323.8 354.1,323.9 354.7,321.8 355.3,329.7 355.9,326.1 356.5,323.2 357.1,327.2 357.7,323.5 358.3,326.4 358.9,323.7 359.5,326.2 360.1,324.2 360.7,322.8 361.3,322.8 361.9,332.1 362.5,322.2 363.1,326.9 363.7,327.2 364.3,326.4 364.9,321.5 365.5,327 366.1,326.4 366.7,326.5 367.3,323.8 367.9,316.6 368.5,307.5 369.1,299.3 369.7,301.1 370.3,310.1 370.9,322.6 371.5,323 372.1,325.2 372.7,322.1 373.3,326.8 373.9,326.2 374.5,321.7 375.1,322.7 375.7,330.7 376.3,321.8 376.9,321.6 377.5,322.2 378.1,322.4 378.7,326.3 379.3,326.4 379.9,325 380.5,323.4 381.1,326.4 381.7,325.4 382.3,321.9 382.9,322.7 383.5,325.8 384.1,325 384.7,323.9 385.3,324.8 385.9,323 386.5,325.1 387.1,322.3 387.7,327.6 388.3,326.6 388.9,324.6 389.5,327.6 390.1,330.1 390.7,325.1 391.3,325.5 391.9,325.9 392.5,327.7 393.1,326.4 393.7,323 394.3,321.8 394.9,327.2 395.5,326.1 396.1,325.1 396.7,324.5 397.3,326.8 397.9,320 398.5,316.8 399.1,312.5 399.7,311.7 400.3,316.4 400.9,321.6 401.5,322.8 402.1,322.4 402.7,321.6 403.3,322.4 403.9,322.6 404.5,324.7 405.1,323.8 405.7,327.6 406.3,327.2 406.9,324.9 407.5,322.5 408.1,323.5 408.7,321.6 409.3,325.6 409.9,323.9 410.5,327.3 411.1,323.5 411.7,326.8 412.3,323.9 412.9,325.6 413.5,323.7 414.1,326.5 414.7,329.8 415.3,322.5 415.9,321.8 416.5,323.9 417.1,326.1 417.7,324.4 418.3,326.7 418.9,330.5 419.5,324.8 420.1,324.6 420.7,321.7 421.3,325.2 421.9,322.7 422.5,322 423.1,322.1 423.7,322.5 424.3,325.4 424.9,332.1 425.5,323.3 426.1,324.1 426.7,327.4 427.3,323.1 427.9,323.4 428.5,323 429.1,323.4 429.7,323.3" fill="none" stroke="#98be4c" stroke-width="0.95" stroke-linejoin="bevel"/>
<polyline points="241.9,327.2 242.5,324.7 243.1,324.8 243.7,327 244.3,321.6 244.9,326 245.5,326.2 246.1,325.7 246.7,322.7 247.3,331.3 247.9,323 248.5,323.5 249.1,326.7 249.7,327.2 250.3,323.1 250.9,324.5 251.5,326.8 252.1,324.8 252.7,322.9 253.3,323.8 253.9,325.4 254.5,326 255.1,323.4 255.7,322.7 256.3,326.4 256.9,323.4 257.5,323 258.1,323.3 258.7,322.9 259.3,322.3 259.9,323.9 260.5,322.7 261.1,325.5 261.7,322.1 262.3,323.7 262.9,327.4 263.5,324.3 264.1,327 264.7,322.9 265.3,326.4 265.9,322 266.5,327.4 267.1,327.5 267.7,325.8 268.3,330.2 268.9,326.2 269.5,326.5 270.1,330.3 270.7,326.3 271.3,323.1 271.9,326.4 272.5,322.9 273.1,324.6 273.7,323.9 274.3,322.8 274.9,330.6 275.5,327 276.1,321.7 276.7,328.7 277.3,319.9 277.9,313.2 278.5,309.7 279.1,311.9 279.7,317.6 280.3,321.3 280.9,322.7 281.5,322.9 282.1,325.5 282.7,327.6 283.3,323.4 283.9,324 284.5,325.8 285.1,323.4 285.7,322.3 286.3,325.5 286.9,323.7 287.5,321.5 288.1,323.5 288.7,327 289.3,321.8 289.9,327 290.5,325.3 291.1,326.7 291.7,325 292.3,325.9 292.9,327 293.5,322.6 294.1,322.2 294.7,325 295.3,324.5 295.9,324.7 296.5,323.7 297.1,327.6 297.7,325.2 298.3,325.3 298.9,321.7 299.5,323.2 300.1,323.2 300.7,327.7 301.3,322.3 301.9,324.6 302.5,326 303.1,325.4 303.7,326.2 304.3,323.7 304.9,322.5 305.5,322.9 306.1,324.7 306.7,323.5 307.3,318.7 307.9,310.9 308.5,300.1 309.1,300.1 309.7,310.1 310.3,319.6 310.9,325.1 311.5,324.8 312.1,321.5 312.7,324.5 313.3,322.6 313.9,322.9 314.5,326.3 315.1,327.5 315.7,326.9 316.3,322.9 316.9,324.1 317.5,326.9 318.1,326.7 318.7,321.8 319.3,323.2 319.9,325.2 320.5,322.7 321.1,321.6 321.7,322.9 322.3,324.9 322.9,325.9 323.5,326.1 324.1,325 324.7,325.2 325.3,324.7 325.9,326.4 326.5,325.5 327.1,325.7 327.7,327.1 328.3,322.2 328.9,321.7 329.5,324.8 330.1,324.3 330.7,327.1 331.3,323.4 331.9,325.7 332.5,325.8 333.1,323 333.7,321.5 334.3,324.1 334.9,322.7 335.5,331.3 336.1,324.2 336.7,321.3 337.3,318.6 337.9,307.8 338.5,296.4 339.1,296.4 339.7,306.7 340.3,318.7 340.9,325.3 341.5,326.6 342.1,332.1 342.7,323.5 343.3,326 343.9,325.2 344.5,323.9 345.1,326.7 345.7,327.1 346.3,331 346.9,323 347.5,327.5 348.1,324.5 348.7,323.6 349.3,322.3 349.9,331.2 350.5,325.8 351.1,321.9 351.7,322.6 352.3,327.2 352.9,322 353.5,325.7 354.1,325 354.7,324.6 355.3,325.8 355.9,323.6 356.5,325.4 357.1,327 357.7,325.1 358.3,324.8 358.9,325.3 359.5,332.1 360.1,323.6 360.7,325.9 361.3,325 361.9,322.2 362.5,326.9 363.1,324 363.7,323 364.3,322.4 364.9,327.3 365.5,326 366.1,330.5 366.7,322.5 367.3,325 367.9,316.3 368.5,308 369.1,299.3 369.7,301.6 370.3,312.2 370.9,318.2 371.5,323.8 372.1,327 372.7,323.2 373.3,322 373.9,321.8 374.5,326.7 375.1,327.3 375.7,324.4 376.3,323.4 376.9,324 377.5,322.6 378.1,324.2 378.7,324.4 379.3,324.8 379.9,322.1 380.5,327.6 381.1,331.3 381.7,325.1 382.3,326.6 382.9,330.6 383.5,325.1 384.1,323.8 384.7,325.5 385.3,327.3 385.9,321.9 386.5,322.6 387.1,323.7 387.7,324.8 388.3,326.6 388.9,326.1 389.5,324.9 390.1,322.7 390.7,324.6 391.3,324.2 391.9,322.2 392.5,327.2 393.1,326.7 393.7,325.3 394.3,323 394.9,325.1 395.5,323.5 396.1,325.5 396.7,321.7 397.3,324.8 397.9,322.6 398.5,319.2 399.1,312.7 399.7,311.6 400.3,315.4 400.9,321.4 401.5,322.7 402.1,331.8 402.7,327.4 403.3,323 403.9,325.4 404.5,321.9 405.1,324.9 405.7,327.6 406.3,322.4 406.9,326 407.5,324.7 408.1,327.7 408.7,324 409.3,326.6 409.9,325.2 410.5,326.5 411.1,326.8 411.7,325.5 412.3,323.7 412.9,325.2 413.5,326.4 414.1,326.6 414.7,325.4 415.3,324.3 415.9,322 416.5,322.2 417.1,331.9 417.7,323.9 418.3,325.7 418.9,324.7 419.5,324 420.1,322.8 420.7,326.8 421.3,323.2 421.9,325.4 422.5,322.1 423.1,327.5 423.7,322.4 424.3,324.6 424.9,326.5 425.5,322.9 426.1,325.5 426.7,324 427.3,327.5 427.9,322.3 428.5,322.7 429.1,324.9 429.7,325.7" fill="none" stroke="#98be4c" stroke-width="0.95" stroke-linejoin="bevel"/>
<polyline points="241.9,368.3 242.5,373.3 243.1,372 243.7,369.6 244.3,368 244.9,369.8 245.5,372.5 246.1,373.3 246.7,368.7 247.3,373.4 247.9,368.9 248.5,367.9 249.1,368.5 249.7,367.8 250.3,369.2 250.9,372.5 251.5,377.6 252.1,372.6 252.7,368.3 253.3,372.4 253.9,368.5 254.5,369.7 255.1,373.5 255.7,372.2 256.3,372.2 256.9,371.7 257.5,370 258.1,371.6 258.7,370.3 259.3,372.4 259.9,371 260.5,369.7 261.1,366.3 261.7,365.1 262.3,365.9 262.9,366.9 263.5,369.7 264.1,373.5 264.7,371.5 265.3,371.3 265.9,372.8 266.5,371.6 267.1,368.4 267.7,370.6 268.3,373.1 268.9,372.7 269.5,368.1 270.1,373.9 270.7,370.9 271.3,369.5 271.9,370.4 272.5,373.6 273.1,373.3 273.7,369.9 274.3,371.7 274.9,368.1 275.5,372.6 276.1,368.1 276.7,377.4 277.3,368.6 277.9,365.4 278.5,361.8 279.1,359.9 279.7,361.9 280.3,366.7 280.9,375.5 281.5,370.5 282.1,372.8 282.7,369.2 283.3,372.1 283.9,378 284.5,368.5 285.1,372.7 285.7,369.8 286.3,377.6 286.9,373.6 287.5,372.2 288.1,369.7 288.7,371.5 289.3,372.4 289.9,369 290.5,373.6 291.1,369.1 291.7,367.9 292.3,371 292.9,370.6 293.5,368.6 294.1,370.7 294.7,369.2 295.3,371.2 295.9,370.5 296.5,358.5 297.1,353.5 297.7,356.6 298.3,362.4 298.9,368.9 299.5,372 300.1,370.9 300.7,369.7 301.3,371.7 301.9,372.2 302.5,368.5 303.1,369.3 303.7,368.8 304.3,367.8 304.9,371.6 305.5,373.9 306.1,369.4 306.7,373.5 307.3,370.1 307.9,373.4 308.5,368.3 309.1,369.7 309.7,373 310.3,373.3 310.9,372.7 311.5,377.5 312.1,369.6 312.7,373.5 313.3,369.3 313.9,364.8 314.5,353.5 315.1,347 315.7,350.7 316.3,361.2 316.9,365.6 317.5,369.7 318.1,368.2 318.7,369.9 319.3,371.2 319.9,376.7 320.5,367.7 321.1,370.4 321.7,372.4 322.3,370 322.9,372.5 323.5,370.1 324.1,371.1 324.7,369.6 325.3,368.2 325.9,372.6 326.5,370.9 327.1,372.6 327.7,372.6 328.3,372.5 328.9,370.1 329.5,369.5 330.1,378.3 330.7,369.9 331.3,367.5 331.9,361.2 332.5,347.1 333.1,342.2 333.7,350.4 334.3,361 334.9,368.9 335.5,369.1 336.1,373.1 336.7,369.1 337.3,370.2 337.9,369.1 338.5,369 339.1,372.4 339.7,368.9 340.3,369.7 340.9,368 341.5,373.4 342.1,373.3 342.7,370 343.3,373.4 343.9,369.1 344.5,369.3 345.1,371.2 345.7,369 346.3,373.3 346.9,373.7 347.5,368.4 348.1,370.4 348.7,369.9 349.3,371 349.9,364 350.5,351.7 351.1,347.1 351.7,352.5 352.3,362 352.9,367.9 353.5,372.5 354.1,368.4 354.7,370.2 355.3,368.3 355.9,370.2 356.5,372.7 357.1,372.9 357.7,368.6 358.3,369.2 358.9,372.1 359.5,368.8 360.1,368 360.7,373.1 361.3,378.3 361.9,373.2 362.5,371.4 363.1,370.1 363.7,369.6 364.3,370.1 364.9,373.3 365.5,371.3 366.1,368.6 366.7,370.9 367.3,368.1 367.9,366.4 368.5,356.2 369.1,351.2 369.7,353.8 370.3,361.5 370.9,369.3 371.5,371 372.1,376.4 372.7,368.6 373.3,370.6 373.9,368.3 374.5,372 375.1,368.3 375.7,373.4 376.3,377.9 376.9,378.3 377.5,376.4 378.1,370.2 378.7,373.1 379.3,372.4 379.9,370.1 380.5,372.8 381.1,370 381.7,368.2 382.3,369.1 382.9,370.3 383.5,370.4 384.1,368.8 384.7,371.9 385.3,368.5 385.9,368.4 386.5,363.1 387.1,359.1 387.7,360.2 388.3,365.4 388.9,369.4 389.5,371.5 390.1,370.9 390.7,373.9 391.3,372.8 391.9,368.7 392.5,368.6 393.1,370.4 393.7,373.4 394.3,368.6 394.9,369.2 395.5,373.9 396.1,377.1 396.7,378 397.3,368.7 397.9,367.9 398.5,369.7 399.1,368.9 399.7,377.7 400.3,370.9 400.9,370.8 401.5,371.5 402.1,370.8 402.7,369.2 403.3,372.3 403.9,372.3 404.5,373.4 405.1,370.7 405.7,376.2 406.3,373.7 406.9,376.7 407.5,368.7 408.1,372.1 408.7,373.1 409.3,373.6 409.9,371.4 410.5,369.4 411.1,367.9 411.7,372.3 412.3,371.7 412.9,368.4 413.5,372.3 414.1,373.6 414.7,368.8 415.3,371.4 415.9,370.3 416.5,371.5 417.1,368.4 417.7,373.3 418.3,369.5 418.9,371.7 419.5,369.1 420.1,368.8 420.7,373.7 421.3,369.3 421.9,373.6 422.5,373.1 423.1,371.2 423.7,371.2 424.3,367.9 424.9,372.5 425.5,371.9 426.1,371.3 426.7,378 427.3,370.6 427.9,378.1 428.5,372.3 429.1,370.8 429.7,371.5" fill="none" stroke="#98be4c" stroke-width="0.95" stroke-linejoin="bevel"/>
<polyline points="241.9,371.2 242.5,368.4 243.1,369.1 243.7,372.7 244.3,372.2 244.9,367.8 245.5,370.5 246.1,370.2 246.7,372.3 247.3,370.3 247.9,378.3 248.5,372.9 249.1,368.9 249.7,371.7 250.3,369.4 250.9,371.5 251.5,368.8 252.1,373.1 252.7,370 253.3,371.9 253.9,372.4 254.5,370.6 255.1,371 255.7,368.4 256.3,371.1 256.9,371 257.5,373.3 258.1,369.9 258.7,368.6 259.3,370.1 259.9,371.6 260.5,366.6 261.1,365.5 261.7,365.1 262.3,366.8 262.9,369.9 263.5,370.1 264.1,368.8 264.7,371.8 265.3,369.2 265.9,370.5 266.5,369 267.1,373.3 267.7,370.1 268.3,372 268.9,368.8 269.5,371.5 270.1,369.5 270.7,368.4 271.3,369.7 271.9,368.1 272.5,371.4 273.1,371.1 273.7,373 274.3,367.8 274.9,370.2 275.5,378.3 276.1,369.8 276.7,367.9 277.3,371.3 277.9,365.2 278.5,362.6 279.1,359.9 279.7,362.8 280.3,366.8 280.9,370.7 281.5,369.1 282.1,373.8 282.7,369 283.3,372.9 283.9,371.9 284.5,370.7 285.1,370 285.7,368.2 286.3,372.6 286.9,369.1 287.5,377.5 288.1,373.2 288.7,369 289.3,369.5 289.9,372.1 290.5,377.6 291.1,368 291.7,372.8 292.3,372.8 292.9,371.6 293.5,373.2 294.1,373.7 294.7,368.8 295.3,371.9 295.9,367 296.5,358.6 297.1,353.5 297.7,356.6 298.3,364.2 298.9,367.8 299.5,369.3 300.1,373.6 300.7,369.1 301.3,372.8 301.9,370.4 302.5,372 303.1,372.8 303.7,368.3 304.3,369.3 304.9,368.4 305.5,370.2 306.1,368.6 306.7,373.4 307.3,372.6 307.9,371.3 308.5,368.9 309.1,369 309.7,371.4 310.3,373.3 310.9,373.5 311.5,373.5 312.1,369.7 312.7,371.7 313.3,369 313.9,363.6 314.5,354 315.1,347 315.7,350.4 316.3,360.1 316.9,366.1 317.5,372.4 318.1,369.9 318.7,367.9 319.3,371.6 319.9,373.8 320.5,371.1 321.1,369.4 321.7,373.3 322.3,371.6 322.9,371.5 323.5,370.6 324.1,372.5 324.7,371.9 325.3,371.1 325.9,369.8 326.5,372.6 327.1,373.4 327.7,368.2 328.3,367.8 328.9,368.3 329.5,373.1 330.1,371.4 330.7,369.4 331.3,369.5 331.9,359.9 332.5,346.5 333.1,342.2 333.7,350.4 334.3,362.3 334.9,370.4 335.5,372.8 336.1,369.4 336.7,373 337.3,368.2 337.9,369 338.5,370.3 339.1,368.2 339.7,369.8 340.3,367.8 340.9,372.7 341.5,371.9 342.1,369.3 342.7,370.9 343.3,370.1 343.9,372.8 344.5,369.5 345.1,369.2 345.7,372.5 346.3,372.4 346.9,372.1 347.5,368.1 348.1,367.9 348.7,373 349.3,370.9 349.9,360.9 350.5,352.3 351.1,347.1 351.7,352 352.3,360.4 352.9,366.9 353.5,373.2 354.1,370.4 354.7,369 355.3,368.2 355.9,371.7 356.5,372.9 357.1,369.3 357.7,372.4 358.3,367.8 358.9,368.5 359.5,371.7 360.1,368.3 360.7,370.6 361.3,370.7 361.9,367.9 362.5,372.8 363.1,372.3 363.7,372.6 364.3,371.8 364.9,369.4 365.5,372 366.1,371.2 366.7,371.3 367.3,370.6 367.9,363.8 368.5,357.5 369.1,351.2 369.7,354.1 370.3,362.4 370.9,370.7 371.5,371.5 372.1,368.2 372.7,369.4 373.3,371.9 373.9,373.7 374.5,371 375.1,371.1 375.7,367.7 376.3,368.6 376.9,372.7 377.5,369.2 378.1,371 378.7,371.9 379.3,371.4 379.9,372.5 380.5,371.7 381.1,369.6 381.7,371.3 382.3,372 382.9,368.1 383.5,373.7 384.1,371.5 384.7,373.6 385.3,372.2 385.9,365.5 386.5,362.1 387.1,359.1 387.7,359.8 388.3,366 388.9,371.2 389.5,372 390.1,371.5 390.7,370.4 391.3,373.4 391.9,371.6 392.5,368.3 393.1,372.2 393.7,369.7 394.3,368.5 394.9,370 395.5,373 396.1,372.3 396.7,370.1 397.3,372.8 397.9,371.2 398.5,369.8 399.1,368.3 399.7,371.9 400.3,369.2 400.9,370.8 401.5,369.2 402.1,371.6 402.7,368 403.3,369.4 403.9,371.6 404.5,372.9 405.1,372.2 405.7,369.5 406.3,370.2 406.9,370.8 407.5,373.6 408.1,368.8 408.7,372.6 409.3,368.4 409.9,372.9 410.5,368.4 411.1,370.1 411.7,370 412.3,371.8 412.9,369.7 413.5,372.7 414.1,373.8 414.7,372.2 415.3,367.8 415.9,368.3 416.5,372.7 417.1,370.2 417.7,370.9 418.3,373 418.9,372.1 419.5,371 420.1,369.6 420.7,368.2 421.3,368.4 421.9,368 422.5,370.2 423.1,373.6 423.7,368.4 424.3,370.9 424.9,371.5 425.5,373.6 426.1,373.9 426.7,371.8 427.3,371.3 427.9,372.1 428.5,370.4 429.1,372.5 429.7,375.9" fill="none" stroke="#98be4c" stroke-width="0.95" stroke-linejoin="bevel"/>
<rect x="241.5" y="239.6" width="189" height="139.2" fill="none" stroke="#7a7a7a" stroke-width="1"/>
<line x1="241.5" y1="286" x2="430.5" y2="286" stroke="#444" stroke-width="1"/>
<line x1="241.5" y1="332.6" x2="430.5" y2="332.6" stroke="#444" stroke-width="1"/>
<line x1="241.5" y1="378.8" x2="430.5" y2="378.8" stroke="#444" stroke-width="1.1"/>
<path d="M241.5 251.2h1.6M241.5 262.8h1.6M241.5 274.4h1.6M241.5 297.6h1.6M241.5 309.3h1.6M241.5 321h1.6M241.5 344.2h1.6M241.5 355.7h1.6M241.5 367.2h1.6M283 378.8v-1.8M342 378.8v-1.8M401.2 378.8v-1.8" stroke="#555" stroke-width="0.7"/>
<text x="283" y="390" font-size="10.37" text-anchor="middle" stroke="#000" stroke-width="0.3" textLength="21" lengthAdjust="spacingAndGlyphs">1540</text>
<text x="342" y="390" font-size="10.37" text-anchor="middle" stroke="#000" stroke-width="0.3" textLength="21" lengthAdjust="spacingAndGlyphs">1545</text>
<text x="401.2" y="390" font-size="10.37" text-anchor="middle" stroke="#000" stroke-width="0.3" textLength="21" lengthAdjust="spacingAndGlyphs">1550</text>
<text x="336.2" y="402.1" font-size="11.02" text-anchor="middle" stroke="#000" stroke-width="0.3" textLength="75.5" lengthAdjust="spacingAndGlyphs">Wavelength (nm)</text>
<text x="235.2" y="305.2" font-size="11.23" text-anchor="middle" stroke="#000" stroke-width="0.3" textLength="90" lengthAdjust="spacingAndGlyphs" transform="rotate(-90 235.2 305.2)">Intensity (20 dB/div)</text>
<text x="334.3" y="234.4" font-size="10.4" text-anchor="middle" font-weight="bold" textLength="42.6" lengthAdjust="spacingAndGlyphs">Comb #1</text>
<rect x="331.2" y="237.6" width="43.3" height="50.5" fill="none" stroke="#f01818" stroke-width="2.3" stroke-dasharray="2.2 1.8"/>
<text x="354" y="251.3" font-size="9.29" text-anchor="middle" fill="#cc1f2a" stroke="#cc1f2a" stroke-width="0.3" textLength="29.4" lengthAdjust="spacingAndGlyphs">303 GHz</text>
<text x="354.9" y="297.8" font-size="9.29" text-anchor="middle" fill="#cc1f2a" stroke="#cc1f2a" stroke-width="0.3" textLength="30.2" lengthAdjust="spacingAndGlyphs">323 GHz</text>
<text x="351.1" y="348.1" font-size="9.29" text-anchor="middle" fill="#cc1f2a" stroke="#cc1f2a" stroke-width="0.3" textLength="30.6" lengthAdjust="spacingAndGlyphs">384 GHz</text>
<path d="M340 255.2H364.6" stroke="#cc1f2a" stroke-width="0.9"/>
<path d="M338 255.2l3 -1.6v3.2zM366.6 255.2l-3 -1.6v3.2z" fill="#cc1f2a"/>
<path d="M340.8 301.7H367.3" stroke="#cc1f2a" stroke-width="0.9"/>
<path d="M338.8 301.7l3 -1.6v3.2zM369.3 301.7l-3 -1.6v3.2z" fill="#cc1f2a"/>
<path d="M335.3 352.9H367.2" stroke="#cc1f2a" stroke-width="0.9"/>
<path d="M333.3 352.9l3 -1.6v3.2zM369.2 352.9l-3 -1.6v3.2z" fill="#cc1f2a"/>
<polyline points="241.9,476.7 242.5,476.5 243.1,476 243.7,472.5 244.3,472.4 244.9,476.5 245.5,476.1 246.1,471.7 246.7,474 247.3,473.1 247.9,474.8 248.5,474.2 249.1,474.3 249.7,475.3 250.3,476.2 250.9,476.9 251.5,474.4 252.1,473.7 252.7,476.7 253.3,471.5 253.9,476.2 254.5,471.7 255.1,473.2 255.7,477.1 256.3,473.3 256.9,471.7 257.5,472.2 258.1,477.3 258.7,473.9 259.3,473.7 259.9,477 260.5,476.7 261.1,472.9 261.7,472.1 262.3,477 262.9,473.8 263.5,474.3 264.1,472.4 264.7,473.9 265.3,477 265.9,477.1 266.5,472.6 267.1,475.4 267.7,472.3 268.3,474.5 268.9,482 269.5,473 270.1,475.1 270.7,472.6 271.3,473.1 271.9,475.4 272.5,473.5 273.1,472.7 273.7,473.4 274.3,476.1 274.9,474 275.5,475.1 276.1,473 276.7,475.3 277.3,471.6 277.9,471.7 278.5,472.7 279.1,476.3 279.7,472.5 280.3,474 280.9,482 281.5,472.8 282.1,472.3 282.7,473.1 283.3,474.7 283.9,477 284.5,471.5 285.1,474.3 285.7,469.9 286.3,469.9 286.9,463.6 287.5,462.7 288.1,466.1 288.7,471.3 289.3,475.6 289.9,480.7 290.5,472.7 291.1,473.3 291.7,476.5 292.3,477 292.9,476.1 293.5,472.9 294.1,473.4 294.7,476 295.3,474.2 295.9,473.6 296.5,477.6 297.1,480.5 297.7,476.2 298.3,472.5 298.9,477.1 299.5,473.2 300.1,479.6 300.7,475.8 301.3,476.8 301.9,475.4 302.5,472 303.1,481.8 303.7,477.5 304.3,472.2 304.9,474.7 305.5,474.6 306.1,474.1 306.7,473.1 307.3,473.3 307.9,472.7 308.5,473 309.1,471.6 309.7,476.1 310.3,477 310.9,472.7 311.5,471.3 312.1,471 312.7,463.1 313.3,453.4 313.9,447.6 314.5,453.7 315.1,465.6 315.7,473.8 316.3,475.3 316.9,476.5 317.5,477.6 318.1,473.9 318.7,472.4 319.3,472.4 319.9,474.3 320.5,475.7 321.1,476.6 321.7,472.4 322.3,474.6 322.9,471.9 323.5,475 324.1,476.8 324.7,480 325.3,475.6 325.9,475.3 326.5,475.5 327.1,472.5 327.7,474.6 328.3,471.7 328.9,474 329.5,471.7 330.1,477.4 330.7,473.5 331.3,472.9 331.9,480.7 332.5,474.1 333.1,474.6 333.7,476.8 334.3,474.6 334.9,473.8 335.5,476 336.1,473.3 336.7,472.3 337.3,475.9 337.9,474.4 338.5,476.9 339.1,471.3 339.7,463.9 340.3,448.2 340.9,441.5 341.5,448.6 342.1,463.7 342.7,470.9 343.3,474.6 343.9,473.6 344.5,473.5 345.1,473.4 345.7,473.2 346.3,471.6 346.9,482 347.5,473.3 348.1,477.1 348.7,475.1 349.3,472.4 349.9,473.2 350.5,472.5 351.1,476.1 351.7,473 352.3,474.9 352.9,474.1 353.5,473.7 354.1,476.8 354.7,474.6 355.3,473.3 355.9,472.4 356.5,473.2 357.1,472.6 357.7,475.5 358.3,476 358.9,475.1 359.5,475.8 360.1,476 360.7,475 361.3,472.6 361.9,475.4 362.5,471.5 363.1,474.4 363.7,472.4 364.3,475.7 364.9,475.2 365.5,471.4 366.1,466.9 366.7,456.5 367.3,448.8 367.9,452.5 368.5,461.9 369.1,473 369.7,471.3 370.3,472.5 370.9,476.2 371.5,471.7 372.1,472.3 372.7,473.7 373.3,472.3 373.9,481.4 374.5,476.2 375.1,472.5 375.7,477.1 376.3,479.6 376.9,480.3 377.5,474.9 378.1,472 378.7,474.4 379.3,474.4 379.9,475.1 380.5,477.2 381.1,473.9 381.7,477.1 382.3,472.7 382.9,475.5 383.5,474.1 384.1,476.2 384.7,474.6 385.3,476.7 385.9,472.3 386.5,473 387.1,474.8 387.7,475.3 388.3,473.7 388.9,476.4 389.5,473.7 390.1,477.2 390.7,477.2 391.3,471.6 391.9,479.6 392.5,473.6 393.1,466.1 393.7,462.8 394.3,462.7 394.9,467.4 395.5,470.7 396.1,475.3 396.7,472.7 397.3,472.5 397.9,473.6 398.5,477.6 399.1,473.9 399.7,472.3 400.3,473.9 400.9,476.2 401.5,475.3 402.1,475.9 402.7,476.5 403.3,473.2 403.9,473.5 404.5,476.7 405.1,473.8 405.7,474.6 406.3,476.6 406.9,475.3 407.5,477.1 408.1,471.5 408.7,475.2 409.3,474.6 409.9,473.9 410.5,473.2 411.1,473.7 411.7,476.5 412.3,474.4 412.9,472.8 413.5,475.7 414.1,476.5 414.7,473.9 415.3,472.2 415.9,476 416.5,475.7 417.1,475.7 417.7,480.4 418.3,472.1 418.9,477.4 419.5,474.8 420.1,473 420.7,471.7 421.3,474.3 421.9,473.4 422.5,472.4 423.1,475.4 423.7,479.6 424.3,477.3 424.9,472.8 425.5,476.9 426.1,473.6 426.7,473.2 427.3,476.1 427.9,474.5 428.5,480.9 429.1,476.6 429.7,474.8" fill="none" stroke="#f0943a" stroke-width="0.95" stroke-linejoin="bevel"/>
<polyline points="241.9,472.2 242.5,471.7 243.1,474.9 243.7,472.5 244.3,477.2 244.9,477.5 245.5,474.9 246.1,475.2 246.7,472.2 247.3,476.4 247.9,474 248.5,476.1 249.1,474.1 249.7,476.4 250.3,472.1 250.9,477.5 251.5,475.7 252.1,473.5 252.7,473.9 253.3,472.7 253.9,474.6 254.5,477 255.1,474.4 255.7,473.5 256.3,474.3 256.9,474 257.5,474 258.1,474.6 258.7,475.9 259.3,475.9 259.9,471.6 260.5,477.2 261.1,473.6 261.7,474.1 262.3,474.6 262.9,477 263.5,471.6 264.1,481.1 264.7,475.6 265.3,474.7 265.9,473.9 266.5,474.7 267.1,475.8 267.7,474.2 268.3,477.2 268.9,474.9 269.5,474.2 270.1,477 270.7,471.6 271.3,477 271.9,474.4 272.5,472.2 273.1,475.7 273.7,473 274.3,474.4 274.9,474.7 275.5,477.4 276.1,475.6 276.7,474.2 277.3,475.4 277.9,475.5 278.5,472.3 279.1,473.8 279.7,472.5 280.3,472.1 280.9,473.5 281.5,471.6 282.1,472.5 282.7,472.5 283.3,474.8 283.9,474 284.5,472 285.1,477.1 285.7,473.7 286.3,469 286.9,463.7 287.5,462.7 288.1,466 288.7,472.4 289.3,473 289.9,472.6 290.5,473.2 291.1,476.6 291.7,474 292.3,476.9 292.9,477.6 293.5,477.2 294.1,474.4 294.7,474.9 295.3,475.2 295.9,472 296.5,476.1 297.1,476.4 297.7,472.6 298.3,481.1 298.9,475.3 299.5,477.3 300.1,473.6 300.7,476.9 301.3,471.8 301.9,474.8 302.5,473.3 303.1,476.8 303.7,472.6 304.3,472 304.9,473.8 305.5,476.1 306.1,476 306.7,473.5 307.3,475.9 307.9,472.3 308.5,474.2 309.1,476.9 309.7,472.4 310.3,472.9 310.9,473.6 311.5,472.3 312.1,471.8 312.7,464.3 313.3,453.7 313.9,447.6 314.5,454 315.1,464.2 315.7,478.6 316.3,474.7 316.9,472.4 317.5,472.7 318.1,476.1 318.7,471.8 319.3,481.3 319.9,472.9 320.5,475.2 321.1,472.1 321.7,477.6 322.3,477.3 322.9,475.5 323.5,473.1 324.1,473.6 324.7,475 325.3,473.1 325.9,475 326.5,480.1 327.1,472.3 327.7,473.1 328.3,477.4 328.9,476.8 329.5,471.6 330.1,472 330.7,475.4 331.3,476.6 331.9,477.5 332.5,481 333.1,474.3 333.7,474.6 334.3,476.7 334.9,474.4 335.5,471.6 336.1,471.9 336.7,474.5 337.3,472.2 337.9,474.5 338.5,474.4 339.1,471.1 339.7,462.7 340.3,448.1 340.9,441.5 341.5,448.2 342.1,462.4 342.7,469.1 343.3,473.3 343.9,476.4 344.5,476.6 345.1,476.9 345.7,475.7 346.3,474.7 346.9,476.4 347.5,471.8 348.1,471.6 348.7,476.9 349.3,475.9 349.9,474.1 350.5,473 351.1,477.4 351.7,472.7 352.3,480.5 352.9,477.3 353.5,476.1 354.1,476.7 354.7,477.2 355.3,477.4 355.9,473.8 356.5,472.9 357.1,474.9 357.7,473.8 358.3,473.5 358.9,475 359.5,477 360.1,474.8 360.7,473.5 361.3,472.6 361.9,476.6 362.5,475.4 363.1,472.7 363.7,476.4 364.3,471.8 364.9,471.6 365.5,471.2 366.1,467.7 366.7,456.1 367.3,448.8 367.9,453.1 368.5,465 369.1,476.1 369.7,473.5 370.3,474.7 370.9,471.4 371.5,471.9 372.1,474.1 372.7,473.4 373.3,474.6 373.9,471.4 374.5,477.3 375.1,474.4 375.7,472.4 376.3,475.4 376.9,475 377.5,475.8 378.1,477.6 378.7,474.1 379.3,480.6 379.9,472.6 380.5,473.9 381.1,473 381.7,474.4 382.3,482 382.9,474.6 383.5,471.7 384.1,471.5 384.7,471.6 385.3,475.7 385.9,473.9 386.5,474.8 387.1,473.9 387.7,475.7 388.3,477.6 388.9,475.2 389.5,472.7 390.1,475.9 390.7,472.7 391.3,475.6 391.9,474.4 392.5,469.4 393.1,466.5 393.7,462.6 394.3,462.6 394.9,468.4 395.5,472.9 396.1,473.8 396.7,473.8 397.3,471.6 397.9,472.7 398.5,476.9 399.1,473.7 399.7,473.1 400.3,477.2 400.9,472.8 401.5,476.4 402.1,473.8 402.7,473.7 403.3,473.5 403.9,473.1 404.5,473 405.1,473.1 405.7,474.3 406.3,474.1 406.9,471.5 407.5,473.8 408.1,476.5 408.7,476.1 409.3,472.2 409.9,472.7 410.5,475.3 411.1,475.3 411.7,471.7 412.3,473.3 412.9,474.6 413.5,475.6 414.1,474.9 414.7,475.4 415.3,476.9 415.9,476.8 416.5,472.6 417.1,476.8 417.7,472.7 418.3,471.4 418.9,476.3 419.5,477 420.1,472 420.7,476.1 421.3,471.9 421.9,477.1 422.5,474.3 423.1,474.4 423.7,477.1 424.3,473.3 424.9,474.8 425.5,472 426.1,472.5 426.7,474.7 427.3,476.8 427.9,473.7 428.5,471.4 429.1,472.8 429.7,474.5" fill="none" stroke="#f0943a" stroke-width="0.95" stroke-linejoin="bevel"/>
<polyline points="241.9,520.3 242.5,522.5 243.1,520.2 243.7,523.9 244.3,523.9 244.9,521.1 245.5,524 246.1,519.2 246.7,520.9 247.3,523.7 247.9,518.4 248.5,521.1 249.1,520.5 249.7,520.3 250.3,527.9 250.9,521.6 251.5,523.6 252.1,518.2 252.7,518.8 253.3,522.2 253.9,521.2 254.5,522.4 255.1,523.2 255.7,523 256.3,519.9 256.9,519.2 257.5,521.8 258.1,518.2 258.7,521.6 259.3,521.7 259.9,527.1 260.5,523.2 261.1,518.3 261.7,518 262.3,523.7 262.9,523.1 263.5,518.1 264.1,522.4 264.7,521.5 265.3,518.8 265.9,520.5 266.5,521.6 267.1,521.7 267.7,519.1 268.3,518 268.9,518.3 269.5,519.4 270.1,519.8 270.7,519.2 271.3,520 271.9,518.5 272.5,519.9 273.1,518.4 273.7,515.9 274.3,513.9 274.9,514.7 275.5,518.3 276.1,517.8 276.7,518.3 277.3,521.4 277.9,518.4 278.5,522.9 279.1,520.2 279.7,524 280.3,520.2 280.9,521.3 281.5,518.3 282.1,519 282.7,528.2 283.3,523.7 283.9,524.1 284.5,521.9 285.1,521.8 285.7,522.6 286.3,520.6 286.9,523.7 287.5,519 288.1,521.4 288.7,513.5 289.3,509.8 289.9,507.7 290.5,511.9 291.1,515.5 291.7,519 292.3,523.4 292.9,519.1 293.5,519.7 294.1,521.5 294.7,524 295.3,519.9 295.9,519 296.5,518.6 297.1,524 297.7,519.5 298.3,522.5 298.9,518.3 299.5,520.6 300.1,521.5 300.7,522.5 301.3,521.8 301.9,520.5 302.5,518.9 303.1,520.4 303.7,520.2 304.3,517.2 304.9,515.6 305.5,503.6 306.1,500 306.7,507.9 307.3,514.3 307.9,517.4 308.5,522.5 309.1,518.9 309.7,523.1 310.3,518 310.9,518 311.5,521.1 312.1,521.2 312.7,520.7 313.3,523.6 313.9,522.6 314.5,523 315.1,522.7 315.7,523 316.3,522.9 316.9,523.4 317.5,522.6 318.1,519 318.7,521.1 319.3,522.3 319.9,520.9 320.5,519.9 321.1,514.9 321.7,505.8 322.3,497.6 322.9,497.4 323.5,505.4 324.1,515 324.7,522.8 325.3,528.5 325.9,524 326.5,519.1 327.1,518.1 327.7,524.1 328.3,528.5 328.9,524 329.5,519.5 330.1,520.1 330.7,524 331.3,519.5 331.9,523 332.5,523.1 333.1,520.4 333.7,518.6 334.3,522.9 334.9,518.9 335.5,520.2 336.1,519 336.7,522 337.3,513.6 337.9,503.9 338.5,492.6 339.1,492.4 339.7,503.9 340.3,515.7 340.9,522.5 341.5,520.4 342.1,520 342.7,520.1 343.3,521.4 343.9,519.9 344.5,520.4 345.1,521.9 345.7,522.5 346.3,522.4 346.9,522 347.5,518.8 348.1,522.1 348.7,519.2 349.3,523.2 349.9,523.5 350.5,519.6 351.1,523.8 351.7,521.7 352.3,521.4 352.9,517.2 353.5,506.8 354.1,494.5 354.7,492.4 355.3,503.2 355.9,515 356.5,518.9 357.1,523.7 357.7,523.5 358.3,520.6 358.9,523.2 359.5,519.5 360.1,518.8 360.7,521 361.3,522.9 361.9,522.2 362.5,519.8 363.1,521 363.7,522.7 364.3,522.4 364.9,523.8 365.5,518.8 366.1,522.5 366.7,522 367.3,519.6 367.9,523.8 368.5,520.9 369.1,521.1 369.7,520 370.3,510.6 370.9,502.2 371.5,500.5 372.1,508.2 372.7,516.4 373.3,517.6 373.9,518.1 374.5,523.5 375.1,522.6 375.7,518.7 376.3,523.3 376.9,522 377.5,521.7 378.1,522.6 378.7,528.4 379.3,519.8 379.9,518.2 380.5,522.1 381.1,519.8 381.7,522.4 382.3,522.1 382.9,522.1 383.5,523 384.1,518.9 384.7,518.9 385.3,520.2 385.9,515.9 386.5,512 387.1,507.3 387.7,508.8 388.3,515.1 388.9,520.1 389.5,522.7 390.1,519.4 390.7,521.2 391.3,521.7 391.9,518.2 392.5,519.4 393.1,523 393.7,519.5 394.3,523.5 394.9,520.8 395.5,521 396.1,518.6 396.7,523.2 397.3,520.4 397.9,519.3 398.5,518.9 399.1,518.9 399.7,522.7 400.3,520.2 400.9,521.6 401.5,519.9 402.1,522.3 402.7,517.9 403.3,514.8 403.9,513.8 404.5,516.4 405.1,520.8 405.7,521.9 406.3,519.2 406.9,520.8 407.5,522.8 408.1,527.6 408.7,520.7 409.3,518.7 409.9,520.6 410.5,521.3 411.1,519 411.7,521.6 412.3,518.8 412.9,521 413.5,522.2 414.1,522.4 414.7,520.6 415.3,519 415.9,524 416.5,521.3 417.1,520.9 417.7,518.1 418.3,522.6 418.9,522.8 419.5,522.4 420.1,520.7 420.7,520.8 421.3,523 421.9,523.7 422.5,521.6 423.1,521.9 423.7,523.1 424.3,520 424.9,519 425.5,522.6 426.1,521.7 426.7,520 427.3,523.1 427.9,522.6 428.5,518.1 429.1,521 429.7,522.3" fill="none" stroke="#f0943a" stroke-width="0.95" stroke-linejoin="bevel"/>
<polyline points="241.9,523.6 242.5,522.6 243.1,519.8 243.7,522.8 244.3,522.9 244.9,523.7 245.5,522.3 246.1,521.7 246.7,522.1 247.3,518.3 247.9,521.6 248.5,518.1 249.1,521.8 249.7,522 250.3,520.2 250.9,519 251.5,521.1 252.1,518.9 252.7,520.3 253.3,522.3 253.9,518.1 254.5,523.7 255.1,523.4 255.7,520.2 256.3,523 256.9,523 257.5,522.3 258.1,520.5 258.7,520.1 259.3,519.1 259.9,528.5 260.5,522.1 261.1,523.9 261.7,521.7 262.3,517.9 262.9,519.1 263.5,518.2 264.1,519.7 264.7,521.5 265.3,521.3 265.9,521.7 266.5,520.2 267.1,523.6 267.7,520.6 268.3,519.4 268.9,520.5 269.5,520.3 270.1,519 270.7,521.5 271.3,521.2 271.9,526.9 272.5,519.4 273.1,517.4 273.7,516 274.3,513.8 274.9,514.2 275.5,517 276.1,517.4 276.7,518.1 277.3,522.4 277.9,519.3 278.5,522.7 279.1,520.5 279.7,521.4 280.3,523.1 280.9,518.5 281.5,518 282.1,520.1 282.7,523.8 283.3,520.1 283.9,520.4 284.5,521.7 285.1,517.9 285.7,521.6 286.3,522 286.9,523.5 287.5,526.5 288.1,520.1 288.7,513.8 289.3,509.7 289.9,507.7 290.5,511.1 291.1,515 291.7,519.3 292.3,527.6 292.9,519.8 293.5,518.1 294.1,524 294.7,520.4 295.3,520 295.9,522.2 296.5,522.6 297.1,522.1 297.7,519.9 298.3,527.7 298.9,520.6 299.5,522.6 300.1,520.3 300.7,523.6 301.3,520.5 301.9,519.3 302.5,523.3 303.1,518.2 303.7,523.5 304.3,520.8 304.9,511.9 305.5,503.1 306.1,500 306.7,505.9 307.3,515.4 307.9,517.6 308.5,521.9 309.1,519.8 309.7,521.3 310.3,522.8 310.9,520.9 311.5,522 312.1,520 312.7,521.5 313.3,523 313.9,523.4 314.5,523.8 315.1,519.7 315.7,526.6 316.3,518.1 316.9,518.8 317.5,522.4 318.1,519.1 318.7,522.7 319.3,518.2 319.9,522.6 320.5,519.3 321.1,514.1 321.7,507 322.3,497.5 322.9,497.3 323.5,506.5 324.1,513.7 324.7,522.5 325.3,520.4 325.9,520.8 326.5,521.6 327.1,523 327.7,523.7 328.3,520.4 328.9,520.5 329.5,523.1 330.1,522.5 330.7,522.1 331.3,522.9 331.9,523.7 332.5,518.2 333.1,521.4 333.7,519.5 334.3,523.6 334.9,518 335.5,520.4 336.1,520.6 336.7,517.1 337.3,513.8 337.9,503.4 338.5,492.4 339.1,492.6 339.7,503.3 340.3,514.5 340.9,521.4 341.5,523.4 342.1,519.5 342.7,526.7 343.3,519.7 343.9,523.8 344.5,523.6 345.1,521 345.7,518.5 346.3,523.2 346.9,522.1 347.5,522.8 348.1,521.1 348.7,523.9 349.3,520.1 349.9,522.7 350.5,518.5 351.1,523.6 351.7,519.9 352.3,517.8 352.9,515.6 353.5,505.2 354.1,494.7 354.7,492.4 355.3,501.6 355.9,511.6 356.5,521.2 357.1,521.8 357.7,521.7 358.3,523.9 358.9,518.6 359.5,521.2 360.1,518.2 360.7,523.3 361.3,523.1 361.9,520.3 362.5,521.6 363.1,522.5 363.7,521.9 364.3,522.2 364.9,519.5 365.5,522.4 366.1,522.5 366.7,520.9 367.3,521.3 367.9,520.4 368.5,521.6 369.1,525.8 369.7,515 370.3,511.3 370.9,502.3 371.5,500.5 372.1,506.8 372.7,516.2 373.3,521.2 373.9,518.7 374.5,521.4 375.1,522.5 375.7,519.5 376.3,523 376.9,521.3 377.5,518.4 378.1,523.1 378.7,518.1 379.3,523 379.9,521.3 380.5,517.9 381.1,527.9 381.7,518.7 382.3,528 382.9,522.7 383.5,520.1 384.1,521.9 384.7,521.2 385.3,522.2 385.9,516.2 386.5,511.2 387.1,507.4 387.7,508.7 388.3,513.2 388.9,520.3 389.5,518 390.1,523.2 390.7,520.7 391.3,523.1 391.9,520.8 392.5,521.2 393.1,522.2 393.7,527 394.3,518 394.9,520.3 395.5,518.7 396.1,519.3 396.7,518.9 397.3,518.6 397.9,523.2 398.5,521.8 399.1,520.1 399.7,523.4 400.3,517.9 400.9,523.5 401.5,522.6 402.1,519.9 402.7,519.4 403.3,514.7 403.9,513.7 404.5,515.1 405.1,519.7 405.7,519.3 406.3,519.5 406.9,522.9 407.5,523.3 408.1,520.3 408.7,520 409.3,521.1 409.9,520.4 410.5,523.4 411.1,521.2 411.7,519.5 412.3,517.9 412.9,523.8 413.5,520 414.1,523.8 414.7,523.4 415.3,520.5 415.9,519.3 416.5,522.4 417.1,528.5 417.7,518.3 418.3,518.1 418.9,521.4 419.5,522.8 420.1,521.9 420.7,523.7 421.3,518.4 421.9,522.5 422.5,522.3 423.1,522.4 423.7,521.1 424.3,518.7 424.9,520 425.5,519.4 426.1,523.9 426.7,522.7 427.3,523.6 427.9,521.5 428.5,518.2 429.1,522.5 429.7,520.1" fill="none" stroke="#f0943a" stroke-width="0.95" stroke-linejoin="bevel"/>
<rect x="241.5" y="436.2" width="189" height="92.8" fill="none" stroke="#7a7a7a" stroke-width="1"/>
<line x1="241.5" y1="482.5" x2="430.5" y2="482.5" stroke="#444" stroke-width="1"/>
<line x1="241.5" y1="529" x2="430.5" y2="529" stroke="#444" stroke-width="1.1"/>
<path d="M241.5 447.8h1.6M241.5 459.4h1.6M241.5 470.9h1.6M241.5 494.1h1.6M241.5 505.8h1.6M241.5 517.4h1.6M242.3 529v-1.8M300.7 529v-1.8M359.2 529v-1.8M417.6 529v-1.8" stroke="#555" stroke-width="0.7"/>
<text x="242.3" y="540" font-size="10.58" text-anchor="middle" stroke="#000" stroke-width="0.3" textLength="21.6" lengthAdjust="spacingAndGlyphs">1540</text>
<text x="300.7" y="540" font-size="10.58" text-anchor="middle" stroke="#000" stroke-width="0.3" textLength="21.6" lengthAdjust="spacingAndGlyphs">1545</text>
<text x="359.2" y="540" font-size="10.58" text-anchor="middle" stroke="#000" stroke-width="0.3" textLength="21.6" lengthAdjust="spacingAndGlyphs">1550</text>
<text x="417.6" y="540" font-size="10.58" text-anchor="middle" stroke="#000" stroke-width="0.3" textLength="21.6" lengthAdjust="spacingAndGlyphs">1555</text>
<text x="335.8" y="550.2" font-size="11.23" text-anchor="middle" stroke="#000" stroke-width="0.3" textLength="76" lengthAdjust="spacingAndGlyphs">Wavelength (nm)</text>
<text x="235.8" y="479.3" font-size="11.23" text-anchor="middle" stroke="#000" stroke-width="0.3" textLength="88.5" lengthAdjust="spacingAndGlyphs" transform="rotate(-90 235.8 479.3)">Intensity (20 dB/div)</text>
<text x="334.5" y="431.8" font-size="10.4" text-anchor="middle" font-weight="bold" textLength="43.5" lengthAdjust="spacingAndGlyphs">Comb #2</text>
<rect x="306.7" y="433.9" width="40.9" height="51.1" fill="none" stroke="#f01818" stroke-width="2.3" stroke-dasharray="2.2 1.8"/>
<text x="323.7" y="446.3" font-size="9.29" text-anchor="middle" fill="#cc1f2a" stroke="#cc1f2a" stroke-width="0.3" textLength="30.2" lengthAdjust="spacingAndGlyphs">283 GHz</text>
<text x="321.9" y="498.5" font-size="9.29" text-anchor="middle" fill="#cc1f2a" stroke="#cc1f2a" stroke-width="0.3" textLength="30.7" lengthAdjust="spacingAndGlyphs">343 GHz</text>
<path d="M315.9 450.7H338.9" stroke="#cc1f2a" stroke-width="0.9"/>
<path d="M313.9 450.7l3 -1.6v3.2zM340.9 450.7l-3 -1.6v3.2z" fill="#cc1f2a"/>
<path d="M308 503H336.8" stroke="#cc1f2a" stroke-width="0.9"/>
<path d="M306 503l3 -1.6v3.2zM338.8 503l-3 -1.6v3.2z" fill="#cc1f2a"/>
<text x="281.5" y="454.4" font-size="8.42" text-anchor="middle" stroke="#000" stroke-width="0.18" textLength="28.5" lengthAdjust="spacingAndGlyphs">Tone #1</text>
<text x="370.5" y="446" font-size="8.42" text-anchor="middle" stroke="#000" stroke-width="0.18" textLength="28.6" lengthAdjust="spacingAndGlyphs">Tone #2</text>
<path d="M295 455.5L310.5 460.3" stroke="#111" stroke-width="0.7"/>
<path d="M312.2 460.8l-3.2 0.2l1.2-2.4z" fill="#111"/>
<path d="M358.2 447.2L345.5 455.4" stroke="#111" stroke-width="0.7"/>
<path d="M343.9 456.4l1.6-2.9l1.3 2.2z" fill="#111"/>
</g>
<g id="pd">
<text x="414.5" y="19.9" font-size="16.5" font-weight="bold">d</text>
<rect x="459.5" y="12.3" width="222.8" height="84.1" fill="#3c27a5"/>
<line x1="462.2" y1="12.3" x2="462.2" y2="96.4" stroke="#4f6ee6" stroke-width="1.1" opacity="0.9"/>
<line x1="472.2" y1="12.3" x2="472.2" y2="96.4" stroke="#4f6ee6" stroke-width="1.1" opacity="0.9"/>
<line x1="483.3" y1="12.3" x2="483.3" y2="96.4" stroke="#4f6ee6" stroke-width="1.1" opacity="0.7"/>
<line x1="494.5" y1="12.3" x2="494.5" y2="96.4" stroke="#4f6ee6" stroke-width="1.1" opacity="0.7"/>
<line x1="506" y1="12.3" x2="506" y2="96.4" stroke="#4f6ee6" stroke-width="1.1" opacity="0.8"/>
<line x1="515.1" y1="12.3" x2="515.1" y2="96.4" stroke="#4f6ee6" stroke-width="1.1" opacity="0.7"/>
<line x1="525.4" y1="12.3" x2="525.4" y2="96.4" stroke="#4f6ee6" stroke-width="1.1" opacity="0.8"/>
<line x1="534.5" y1="12.3" x2="534.5" y2="96.4" stroke="#4f6ee6" stroke-width="1.1" opacity="0.7"/>
<path d="M461.4 28.8h1.4M461.4 35.8h1.4M461.2 44.8h1.4M461.6 46.8h1.4M461.9 47.8h1.4M461.3 48.8h1.4M461.9 54.8h1.4M461.7 55.8h1.4M461.3 56.8h1.4M461 57.8h1.4M461.6 59.8h1.4M461.1 60.8h1.4M461.5 61.8h1.4M461.7 62.8h1.4M461.5 63.8h1.4M461.4 65.8h1.4M461.9 69.8h1.4M461.2 71.8h1.4M461.5 73.8h1.4M461.8 80.8h1.4M471.6 17.8h1.4M471.3 36.8h1.4M471.9 41.8h1.4M471 42.8h1.4M471.5 45.8h1.4M471.5 47.8h1.4M471.9 49.8h1.4M472 52.8h1.4M471 53.8h1.4M471.8 56.8h1.4M471.3 57.8h1.4M471.2 59.8h1.4M471 60.8h1.4M471.6 61.8h1.4M471.4 62.8h1.4M471 63.8h1.4M471 64.8h1.4M471.6 67.8h1.4M471.6 69.8h1.4M471.9 71.8h1.4M471.9 78.8h1.4M471.5 80.8h1.4M471.3 85.8h1.4M471.5 94.8h1.4M482.7 20.8h1.4M482.6 32.8h1.4M482.3 36.8h1.4M482.9 41.8h1.4M482.4 46.8h1.4M482.7 49.8h1.4M482.3 58.8h1.4M483.1 59.8h1.4M482.4 63.8h1.4M482.5 64.8h1.4M482.1 65.8h1.4M482.5 66.8h1.4M482.9 68.8h1.4M482.8 77.8h1.4M493.5 45.8h1.4M493.8 46.8h1.4M493.4 47.8h1.4M493.9 50.8h1.4M493.3 60.8h1.4M493.3 63.8h1.4M493.6 65.8h1.4M493.7 68.8h1.4M494 73.8h1.4M493.9 92.8h1.4M493.4 93.8h1.4M505.8 21.8h1.4M505.3 42.8h1.4M505.5 44.8h1.4M505.4 49.8h1.4M505.1 53.8h1.4M504.9 54.8h1.4M505.3 55.8h1.4M505 56.8h1.4M505 58.8h1.4M505.7 62.8h1.4M505.1 67.8h1.4M505.7 69.8h1.4M514.2 46.8h1.4M514.3 48.8h1.4M514.4 49.8h1.4M514.4 56.8h1.4M514.2 57.8h1.4M514.4 59.8h1.4M514.4 61.8h1.4M514.9 67.8h1.4M514 76.8h1.4M525 43.8h1.4M524.9 45.8h1.4M524.5 48.8h1.4M524.5 49.8h1.4M524.6 52.8h1.4M524.5 53.8h1.4M524.9 61.8h1.4M524.6 63.8h1.4M525.1 64.8h1.4M524.6 66.8h1.4M524.5 75.8h1.4M524.3 85.8h1.4M525.1 93.8h1.4M534.1 39.8h1.4M534.1 40.8h1.4M533.5 47.8h1.4M533.8 50.8h1.4M533.9 53.8h1.4M533.5 63.8h1.4M533.5 65.8h1.4" stroke="#3f8ff0" stroke-width="1" fill="none" opacity="0.8"/>
<path d="M461.6 37.8h1.2M461.6 43.8h1.2M461.6 51.8h1.2M461.6 64.8h1.2M471.6 34.8h1.2M471.6 39.8h1.2M471.6 44.8h1.2M471.6 51.8h1.2M471.6 54.8h1.2M471.6 55.8h1.2M471.6 58.8h1.2M471.6 65.8h1.2M471.6 70.8h1.2M482.7 67.8h1.2M505.4 60.8h1.2M514.5 43.8h1.2M514.5 62.8h1.2M514.5 63.8h1.2M524.8 28.8h1.2M524.8 67.8h1.2M524.8 83.8h1.2M533.9 61.8h1.2" stroke="#30c0c0" stroke-width="1" fill="none" opacity="0.8"/>
<rect x="461" y="50" width="2.4" height="11" fill="#2a90e0" opacity="0.3"/>
<rect x="471" y="50" width="2.4" height="11" fill="#2a90e0" opacity="0.3"/>
<rect x="482.1" y="50" width="2.4" height="7.8" fill="#2a90e0" opacity="0.2"/>
<rect x="493.3" y="50" width="2.4" height="7.8" fill="#2a90e0" opacity="0.2"/>
<rect x="504.8" y="50" width="2.4" height="9.4" fill="#2a90e0" opacity="0.3"/>
<rect x="513.9" y="50" width="2.4" height="7.8" fill="#2a90e0" opacity="0.2"/>
<rect x="524.2" y="50" width="2.4" height="9.8" fill="#2a90e0" opacity="0.3"/>
<rect x="533.3" y="50" width="2.4" height="7.8" fill="#2a90e0" opacity="0.2"/>
<path d="M461.5 13.8h1M461.6 15.8h1M461.9 20.8h1M460.8 25.8h1M463.5 26.8h1M462.8 27.8h1M463.4 28.8h1M460.7 35.8h1M462.8 38.8h1M460.8 40.8h1M463.2 43.8h1M463.1 45.8h1M462.8 46.8h1M461.9 49.8h1M463.8 51.8h1M462.9 53.8h1M461.7 54.8h1M461.7 55.8h1M462.2 56.8h1M460.8 57.8h1M461.9 58.8h1M461.4 59.8h1M463.6 60.8h1M462.1 61.8h1M463.6 62.8h1M462.1 63.8h1M461.7 65.8h1M461.2 66.8h1M463.1 70.8h1M461.5 72.8h1M463.1 74.8h1M462.3 75.8h1M463.4 79.8h1M461.5 81.8h1M463.1 84.8h1M463.4 86.8h1M463.7 89.8h1M463.2 91.8h1M462.3 93.8h1M473.4 12.8h1M471.2 22.8h1M471.9 27.8h1M472.8 33.8h1M472.3 38.8h1M471.7 39.8h1M472.2 40.8h1M471.6 41.8h1M470.7 46.8h1M472.5 47.8h1M472.1 49.8h1M471.3 51.8h1M472.3 53.8h1M471.4 54.8h1M470.9 57.8h1M470.9 59.8h1M470.9 60.8h1M471.5 62.8h1M471.3 63.8h1M472.5 64.8h1M472.3 65.8h1M472 68.8h1M471.4 69.8h1M473.8 70.8h1M471.5 72.8h1M472 73.8h1M472.4 74.8h1M472.5 80.8h1M472.7 84.8h1M472 87.8h1M473.1 89.8h1M470.8 94.8h1" stroke="#3f8ff0" stroke-width="1" fill="none" opacity="0.7"/>
<rect x="459.5" y="54" width="222.8" height="2" fill="#f4f01c"/>
<path d="M463.2 55h1.2M473.2 55h1.2M484.3 55h1.2M495.5 55h1.2M507 55h1.2M516.1 55h1.2M526.4 55h1.2M535.5 55h1.2" stroke="#c8c838" stroke-width="2" opacity="0.5"/>
<rect x="569.6" y="16.9" width="78.4" height="24.8" fill="#fff"/>
<defs><linearGradient id="parula" x1="0" x2="1" y1="0" y2="0"><stop offset="0" stop-color="#352a87"/><stop offset="0.15" stop-color="#0f5cdd"/><stop offset="0.3" stop-color="#1481d6"/><stop offset="0.45" stop-color="#06a4ca"/><stop offset="0.6" stop-color="#2eb7a4"/><stop offset="0.75" stop-color="#87bf77"/><stop offset="0.87" stop-color="#f8ba43"/><stop offset="1" stop-color="#f9fb0e"/></linearGradient></defs>
<rect x="574.9" y="31.3" width="67.3" height="8.5" fill="url(#parula)"/>
<text x="574.5" y="30" font-size="8.4" text-anchor="middle" stroke="#000" stroke-width="0.18">0</text>
<text x="607" y="28.3" font-size="9.07" text-anchor="middle" stroke="#000" stroke-width="0.3" textLength="37.4" lengthAdjust="spacingAndGlyphs">RF power</text>
<text x="641.2" y="30" font-size="8.4" text-anchor="middle" stroke="#000" stroke-width="0.18">1</text>
<text x="455.9" y="13.9" font-size="9.8" text-anchor="middle" stroke="#000" stroke-width="0.3" transform="rotate(-90 455.9 13.9)">1</text>
<text x="455.9" y="55.7" font-size="9.8" text-anchor="middle" stroke="#000" stroke-width="0.3" transform="rotate(-90 455.9 55.7)">0</text>
<text x="455.9" y="93" font-size="10.58" text-anchor="middle" stroke="#000" stroke-width="0.3" textLength="9" lengthAdjust="spacingAndGlyphs" transform="rotate(-90 455.9 93)">-1</text>
<path d="M459.5 12.6h1.8M459.5 54.5h1.8M459.5 96.2h1.8" stroke="#fff" stroke-width="0.6"/>
<text x="425.6" y="54.2" font-size="11.45" text-anchor="middle" stroke="#000" stroke-width="0.3" textLength="50.8" lengthAdjust="spacingAndGlyphs" transform="rotate(-90 425.6 54.2)">Frequency</text>
<text x="439.5" y="54" font-size="11.45" text-anchor="middle" stroke="#000" stroke-width="0.3" textLength="93" lengthAdjust="spacingAndGlyphs" transform="rotate(-90 439.5 54)">(MHz + 10.097GHz)</text>
<polyline points="460.4,172.2 460.8,172.9 461.3,172.8 461.7,173.1 462.2,172.9 462.6,172.9 463.1,173.4 463.5,172.4 464,174 464.4,172.6 464.9,172.4 465.3,173.3 465.8,173.4 466.2,173.5 466.7,173.6 467.1,173.1 467.6,172.9 468,173.1 468.5,172.9 468.9,172.6 469.4,173.7 469.8,173.8 470.3,172.9 470.7,172.8 471.2,172.7 471.6,172.1 472.1,172.6 472.5,172.6 473,172.9 473.4,172.4 473.9,171.9 474.3,173.2 474.8,173.8 475.2,171.8 475.7,172.8 476.1,173.3 476.6,172.3 477,172.2 477.5,172.9 477.9,172.8 478.4,172.6 478.8,173.7 479.3,173.7 479.7,173.2 480.2,172.9 480.6,172.7 481.1,173.3 481.5,172.8 482,173.6 482.4,173.5 482.9,172.6 483.3,173.3 483.8,173.7 484.2,173.2 484.7,172.4 485.1,172.8 485.6,172.7 486,173 486.5,172.9 486.9,172.7 487.4,173.3 487.8,173.6 488.3,172.6 488.7,172.2 489.2,173.1 489.6,172.9 490.1,173.1 490.5,172.6 491,173.1 491.4,172.5 491.9,173.5 492.3,173.8 492.8,172.5 493.2,171.6 493.7,172.7 494.1,172.7 494.6,173 495,172.9 495.5,173.2 495.9,174.3 496.4,172.7 496.8,172.7 497.3,173.1 497.7,172 498.2,173.3 498.6,172.6 499.1,172.2 499.5,172.5 500,173.2 500.4,173.4 500.9,173.6 501.3,173.2 501.8,172.6 502.2,173.2 502.7,172.9 503.1,174.1 503.6,171.9 504,173.7 504.5,173.3 504.9,173.1 505.4,172.9 505.8,172.7 506.3,172.5 506.7,172.2 507.2,174 507.6,173.4 508.1,173.3 508.5,173.1 509,172 509.4,172.8 509.9,173 510.3,173.5 510.8,172.4 511.2,173.1 511.7,172.8 512.1,173 512.6,172.6 513,173.1 513.5,173 513.9,172 514.4,173.6 514.8,174.1 515.3,172.5 515.7,173.5 516.2,172.5 516.6,172.7 517.1,173.8 517.5,173.1 518,173.7 518.4,173.1 518.9,173.5 519.3,172.9 519.8,173.7 520.2,173.9 520.7,173.3 521.1,172.7 521.6,172.8 522,172.5 522.5,173.3 522.9,173.2 523.4,172.6 523.8,173.4 524.3,172.7 524.7,173.9 525.2,173.4 525.6,173.8 526.1,172.6 526.5,172.5 527,172.1 527.4,173.3 527.9,172.4 528.3,173.6 528.8,173 529.2,173.3 529.7,172.3 530.1,172.7 530.6,173.1 531,173.3 531.5,172.3 531.9,173.1 532.4,172.6 532.8,173.4 533.3,172.9 533.7,172.8 534.2,173.2 534.6,173.5 535.1,172.8 535.5,173.6 536,172.5 536.4,173.1 536.9,172.4 537.3,173.1 537.8,172.5 538.2,173 538.7,173.3 539.1,172.5 539.6,172.1 540,172.9 540.5,173.2 540.9,173.1 541.4,172.5 541.8,173.4 542.3,172.8 542.7,173.3 543.2,172.5 543.6,173.2 544.1,173.6 544.5,172.6 545,172.8 545.4,173.3 545.9,173.2 546.3,173.1 546.8,172.9 547.2,172.2 547.7,173 548.1,172.3 548.6,173 549,171.8 549.5,173.7 549.9,173.9 550.4,173.2 550.8,172.5 551.3,172.8 551.7,173.4 552.2,173.3 552.6,172.6 553.1,173.6 553.5,173.3 554,173.2 554.4,172.8 554.9,173 555.3,172.6 555.8,173.1 556.2,172.6 556.7,173.5 557.1,173 557.6,173.1 558,173.1 558.5,173.1 558.9,172.3 559.4,173.6 559.8,173 560.3,172.7 560.7,172.5 561.2,172.6 561.6,172.7 562.1,173 562.5,172.5 563,173 563.4,173 563.9,172.6 564.3,174.1 564.8,172.9 565.2,173.1 565.7,173 566.1,172.9 566.6,173.3 567,173.6 567.5,172.9 567.9,172.5 568.4,173.2 568.8,171.9 569.3,173 569.7,172.9 570.2,173.1 570.6,172.2 571.1,172.7 571.5,172.4 572,172.7 572.4,173.2 572.9,172.9 573.3,172.7 573.8,173.5 574.2,173 574.7,171.9 575.1,172.4 575.6,173.1 576,173.2 576.5,173 576.9,173.1 577.4,172.5 577.8,172.9 578.3,172.3 578.7,172.5 579.2,172.5 579.6,172.5 580.1,172.8 580.5,172.8 581,172.5 581.4,173.5 581.9,172.7 582.3,173.7 582.8,173.4 583.2,172.3 583.7,173.4 584.1,172.2 584.6,173.6 585,173.1 585.5,172.4 585.9,171.8 586.4,172.7 586.8,172.2 587.3,173.5 587.7,172.3 588.2,172.8 588.6,173.2 589.1,172.9 589.5,173 590,172.8 590.4,173.3 590.9,172.4 591.3,173.2 591.8,172.3 592.2,173 592.7,172.3 593.1,172.8 593.6,173.2 594,173.5 594.5,172 594.9,172.5 595.4,172.4 595.8,173.5 596.3,172.5 596.7,173.2 597.2,172.6 597.6,172.2 598.1,173 598.5,172.3 599,173.3 599.4,173.3 599.9,173.6 600.3,172.4 600.8,173.7 601.2,173.4 601.7,172 602.1,174 602.6,173.7 603,172.4 603.5,173.1 603.9,172.2 604.4,172.8 604.8,173 605.3,173.2 605.7,172.5 606.2,172.9 606.6,172.4 607.1,173.1 607.5,173.2 608,172.9 608.4,173.5 608.9,173.3 609.3,173.1 609.8,173.5 610.2,172.3 610.7,172.9 611.1,172 611.6,172.9 612,172.7 612.5,173.3 612.9,172.7 613.4,172.6 613.8,172.8 614.3,172.8 614.7,173.1 615.2,172.5 615.6,172.2 616.1,172.1 616.5,173.5 617,172.3 617.4,172.7 617.9,172.3 618.3,173.3 618.8,172.6 619.2,173.5 619.7,172.5 620.1,173 620.6,173.3 621,173.4 621.5,172.3 621.9,172.7 622.4,172.9 622.8,172 623.3,173.2 623.7,173.1 624.2,173.1 624.6,172.2 625.1,173 625.5,173.1 626,173.4 626.4,172.6 626.9,173.2 627.3,173.9 627.8,172.7 628.2,172.7 628.7,172.7 629.1,172.2 629.6,172.7 630,173.7 630.5,172.4 630.9,172.8 631.4,173.5 631.8,173.2 632.3,173 632.7,172.7 633.2,172.8 633.6,172.9 634.1,173.2 634.5,172.9 635,173.4 635.4,172 635.9,173.3 636.3,172.6 636.8,172.9 637.2,172.7 637.7,173.2 638.1,172.8 638.6,173.2 639,172.5 639.5,173 639.9,173.5 640.4,173.5 640.8,172.7 641.3,173 641.7,172.7 642.2,172.8 642.6,172.9 643.1,173.5 643.5,173.2 644,173.6 644.4,173.7 644.9,172.3 645.3,173.1 645.8,172.7 646.2,172.1 646.7,172.4 647.1,172.7 647.6,173.7 648,172.9 648.5,172.8 648.9,172.9 649.4,172.5 649.8,173 650.3,172.9 650.7,172.1 651.2,172.6 651.6,174.6 652.1,173.2 652.5,172.9 653,173.2 653.4,172.4 653.9,172.9 654.3,173.3 654.8,172.1 655.2,172.5 655.7,172.7 656.1,172.8 656.6,172.7 657,173 657.5,173.4 657.9,173.1 658.4,173.4 658.8,173.4 659.3,172.6 659.7,173 660.2,172.7 660.6,173.2 661.1,172.7 661.5,172.8 662,173.7 662.4,172.8 662.9,172.1 663.3,173 663.8,173 664.2,172.7 664.7,172.9 665.1,173.4 665.6,172.7 666,172.8 666.5,172.6 666.9,173.1 667.4,172.8 667.8,172.5 668.3,172.8 668.7,173.8 669.2,172.1 669.6,172.2 670.1,173.1 670.5,172.2 671,173.9 671.4,172.2 671.9,172.3 672.3,172.7 672.8,173.4 673.2,173.3 673.7,173.2 674.1,173.1 674.6,173.5 675,172 675.5,173 675.9,173.6 676.4,172.4 676.8,173.1 677.3,173.5 677.7,173.5 678.2,172.8 678.6,173.8 679.1,173.2 679.5,173.4 680,172.4 680.4,172.5 680.9,172.5 681.3,173.8 681.8,171.8 682.2,172 682.7,173.3 683.1,173" fill="none" stroke="#d7191c" stroke-width="2.1"/>
<rect x="461" y="118.1" width="3" height="78.3" fill="#d7191c"/>
<rect x="470.8" y="118.1" width="2.6" height="78.3" fill="#d7191c"/>
<rect x="483.1" y="118.1" width="1.6" height="78.3" fill="#d7191c"/>
<rect x="494.1" y="118.1" width="1.3" height="78.3" fill="#d7191c"/>
<rect x="505.8" y="118.1" width="2.2" height="78.3" fill="#d7191c"/>
<rect x="515.2" y="118.1" width="1.4" height="78.3" fill="#d7191c"/>
<rect x="525.3" y="118.1" width="1.8" height="78.3" fill="#d7191c"/>
<rect x="534.9" y="118.1" width="1.4" height="78.3" fill="#d7191c"/>
<rect x="460.2" y="118.1" width="1.5" height="78.3" fill="#d7191c" opacity="0.6"/>
<path d="M460 159.2H540.3V185.8H460" fill="none" stroke="#111" stroke-width="1.2" stroke-dasharray="1.5 1.7"/>
<path d="M541.2 158.3L551.8 151.6" stroke="#111" stroke-width="1"/>
<path d="M555.2 149.6l-5.6 0.4l2.3 3.6z" fill="#111"/>
<path d="M619.9 184.6V178" stroke="#111" stroke-width="1"/>
<path d="M619.9 174.2l-2.1 5h4.2z" fill="#111"/>
<rect x="459.9" y="118.1" width="223.5" height="78.3" fill="none" stroke="#555" stroke-width="1"/>
<path d="M460 196.4v-2M508.1 196.4v-2M556.2 196.4v-2M604.3 196.4v-2M652.4 196.4v-2M459.9 157.1h2" stroke="#333" stroke-width="0.7"/>
<text x="456.5" y="121.6" font-size="10.58" text-anchor="end" stroke="#000" stroke-width="0.3" textLength="14.2" lengthAdjust="spacingAndGlyphs">0.4</text>
<text x="456.5" y="160.6" font-size="10.58" text-anchor="end" stroke="#000" stroke-width="0.3" textLength="14.2" lengthAdjust="spacingAndGlyphs">0.3</text>
<text x="456.5" y="199.4" font-size="10.58" text-anchor="end" stroke="#000" stroke-width="0.3" textLength="14.2" lengthAdjust="spacingAndGlyphs">0.2</text>
<text x="460" y="206.9" font-size="10.58" text-anchor="middle" stroke="#000" stroke-width="0.3" textLength="5.4" lengthAdjust="spacingAndGlyphs">0</text>
<text x="508.1" y="206.9" font-size="10.58" text-anchor="middle" stroke="#000" stroke-width="0.3" textLength="16.4" lengthAdjust="spacingAndGlyphs">200</text>
<text x="556.2" y="206.9" font-size="10.58" text-anchor="middle" stroke="#000" stroke-width="0.3" textLength="16.4" lengthAdjust="spacingAndGlyphs">400</text>
<text x="604.3" y="206.9" font-size="10.58" text-anchor="middle" stroke="#000" stroke-width="0.3" textLength="16.4" lengthAdjust="spacingAndGlyphs">600</text>
<text x="652.4" y="206.9" font-size="10.58" text-anchor="middle" stroke="#000" stroke-width="0.3" textLength="16.4" lengthAdjust="spacingAndGlyphs">800</text>
<text x="571.7" y="219.9" font-size="11.23" text-anchor="middle" stroke="#000" stroke-width="0.3" textLength="37.5" lengthAdjust="spacingAndGlyphs">Time (s)</text>
<text x="434.3" y="161" font-size="11.45" text-anchor="middle" stroke="#000" stroke-width="0.3" textLength="92" lengthAdjust="spacingAndGlyphs" transform="rotate(-90 434.3 161)">Comb power (a. u.)</text>
<text x="597.6" y="140.4" font-size="9.5" text-anchor="middle" stroke="#000" stroke-width="0.3" textLength="25.5" lengthAdjust="spacingAndGlyphs">8-time</text>
<text x="600.3" y="153.8" font-size="9.5" text-anchor="middle" stroke="#000" stroke-width="0.3" textLength="85.4" lengthAdjust="spacingAndGlyphs">consecutive switches</text>
<text x="619" y="193.3" font-size="9.5" text-anchor="middle" stroke="#000" stroke-width="0.3" textLength="113.5" lengthAdjust="spacingAndGlyphs">Single soliton power level</text>
</g>
<g id="pe">
<text x="455.8" y="244.4" font-size="16.5" font-weight="bold">e</text>
<rect x="468.2" y="239.3" width="148.5" height="105.4" rx="14" ry="14" fill="none" stroke="#f07070" stroke-width="0.8" stroke-dasharray="1 1"/>
<path d="M517.7 283.7H525.8M537.7 283.7H558.5M591 283.7H597.5M612.4 283.7H619.2M635.5 283.7H640.4" stroke="#7aaee0" stroke-width="1"/>
<defs><linearGradient id="cg" x1="0" x2="0" y1="0" y2="1"><stop offset="0" stop-color="#fafafa"/><stop offset="1" stop-color="#dcdcdc"/></linearGradient></defs>
<rect x="472.3" y="273.4" width="45.4" height="19" rx="3.5" fill="url(#cg)" stroke="#555" stroke-width="0.8"/>
<line x1="480.5" y1="287" x2="480.5" y2="291.5" stroke="#b9d98f" stroke-width="1.2"/>
<line x1="484.4" y1="283.5" x2="484.4" y2="291.5" stroke="#9dc3e6" stroke-width="1.2"/>
<line x1="488.3" y1="280.5" x2="488.3" y2="291.5" stroke="#f4c36a" stroke-width="1.2"/>
<line x1="492.2" y1="278.5" x2="492.2" y2="291.5" stroke="#c8c8c8" stroke-width="1.2"/>
<line x1="496.1" y1="276.5" x2="496.1" y2="291.5" stroke="#f5b183" stroke-width="1.2"/>
<line x1="500" y1="278.5" x2="500" y2="291.5" stroke="#8fb3e0" stroke-width="1.2"/>
<line x1="503.9" y1="280.5" x2="503.9" y2="291.5" stroke="#9dc3e6" stroke-width="1.2"/>
<line x1="507.8" y1="283.5" x2="507.8" y2="291.5" stroke="#b0b0b0" stroke-width="1.2"/>
<line x1="511.7" y1="286" x2="511.7" y2="291.5" stroke="#c9c9c9" stroke-width="1.2"/>
<text x="493" y="257.4" font-size="9.4" text-anchor="middle" font-weight="bold" textLength="24.1" lengthAdjust="spacingAndGlyphs">Comb</text>
<text x="493" y="269.3" font-size="9.4" text-anchor="middle" font-weight="bold" textLength="33.1" lengthAdjust="spacingAndGlyphs">#1 or #2</text>
<path d="M525.8 266.9L537.7 262.8V303.7L525.8 299.6z" fill="#fff" stroke="#333" stroke-width="0.8"/>
<text x="534.8" y="283.3" font-size="9.2" text-anchor="middle" font-weight="bold" textLength="24" lengthAdjust="spacingAndGlyphs" transform="rotate(-90 534.8 283.3)">Filter</text>
<path d="M543.6 260.8V283.7" stroke="#f5b183" stroke-width="1"/>
<path d="M553 260.8V283.7" stroke="#7aaee0" stroke-width="1"/>
<path d="M545 264.4H551.6" stroke="#4a8ad0" stroke-width="0.7"/>
<path d="M544 264.4l2 -1.2v2.4zM552.6 264.4l-2 -1.2v2.4z" fill="#4a8ad0"/>
<text x="546.3" y="257.4" font-size="9.2" text-anchor="middle" font-weight="bold" textLength="14.3" lengthAdjust="spacingAndGlyphs">THz</text>
<path d="M558.4 266.6L591 283.7L558.4 301.6z" fill="#fff" stroke="#333" stroke-width="0.8"/>
<text x="572.3" y="287" font-size="9.2" text-anchor="middle" font-weight="bold" textLength="21" lengthAdjust="spacingAndGlyphs">EDFA</text>
<text x="596.1" y="268.2" font-size="9.2" text-anchor="middle" font-weight="bold" textLength="30.6" lengthAdjust="spacingAndGlyphs">UTC-PD</text>
<rect x="597.5" y="274" width="14.9" height="17.4" fill="#fff" stroke="#333" stroke-width="0.8"/>
<path d="M600.7 279.2H609.2L604.95 286z" fill="#3f7fd0"/>
<path d="M600.7 287.5H609.2M604.95 276V287.5" stroke="#222" stroke-width="0.7"/>
<rect x="619.2" y="274.7" width="16.3" height="17.3" fill="#fff" stroke="#888" stroke-width="0.8" stroke-dasharray="1.2 0.8"/>
<path d="M623.2 283.3H626.5M629.8 283.3H633" stroke="#333" stroke-width="0.7"/>
<path d="M625.8 278.2L632.2 283.3L625.8 288.4z" fill="#3f7fd0" stroke="#333" stroke-width="0.4"/>
<path d="M628.8 293L631.9 301.6" stroke="#333" stroke-width="0.6"/>
<rect x="640.4" y="265.5" width="43.6" height="35.1" rx="6" fill="#d9d9d9" stroke="#555" stroke-width="0.8"/>
<text x="662.2" y="275.2" font-size="9.4" text-anchor="middle" font-weight="bold" textLength="15.5" lengthAdjust="spacingAndGlyphs">THz</text>
<text x="662.2" y="287.5" font-size="9.4" text-anchor="middle" font-weight="bold" textLength="26" lengthAdjust="spacingAndGlyphs">power</text>
<text x="662.2" y="298.7" font-size="9.4" text-anchor="middle" font-weight="bold" textLength="23.5" lengthAdjust="spacingAndGlyphs">meter</text>
<text x="650.2" y="313.2" font-size="9.2" text-anchor="middle" font-weight="bold" textLength="33.9" lengthAdjust="spacingAndGlyphs">THz LNA</text>
<text x="650.2" y="325" font-size="9.2" text-anchor="middle" font-weight="bold" textLength="51.1" lengthAdjust="spacingAndGlyphs">(for 303 GHz</text>
<text x="650.2" y="336.7" font-size="9.2" text-anchor="middle" font-weight="bold" textLength="20.5" lengthAdjust="spacingAndGlyphs">only)</text>
<text x="542.3" y="319.5" font-size="10.6" text-anchor="middle" font-weight="bold" fill="#1b7ed0" textLength="133" lengthAdjust="spacingAndGlyphs">Kerr comb-based terahertz</text>
<text x="501.3" y="333" font-size="10.6" font-weight="bold" fill="#1b7ed0" textLength="30.5" lengthAdjust="spacingAndGlyphs">source</text>
<text x="538.5" y="333" font-size="10.6" font-weight="bold" fill="#1b7ed0" textLength="37.5" lengthAdjust="spacingAndGlyphs">(KCTS)</text>
</g>
<g id="pf">
<text x="455.5" y="368.2" font-size="16.5" font-weight="bold">f</text>
<path d="M538.5 361V529.3M594.5 361V529.3M650.5 361V529.3M482.5 389.1H682.4M482.5 417.1H682.4M482.5 445.1H682.4M482.5 473.2H682.4M482.5 501.2H682.4" stroke="#e2e2e2" stroke-width="0.7"/>
<rect x="482.5" y="361" width="199.9" height="168.3" fill="none" stroke="#555" stroke-width="1"/>
<text x="479.3" y="364.5" font-size="10.58" text-anchor="end" stroke="#000" stroke-width="0.3" textLength="5.4" lengthAdjust="spacingAndGlyphs">0</text>
<text x="479.3" y="392.6" font-size="10.58" text-anchor="end" stroke="#000" stroke-width="0.3" textLength="14" lengthAdjust="spacingAndGlyphs">-10</text>
<text x="479.3" y="420.6" font-size="10.58" text-anchor="end" stroke="#000" stroke-width="0.3" textLength="14" lengthAdjust="spacingAndGlyphs">-20</text>
<text x="479.3" y="448.6" font-size="10.58" text-anchor="end" stroke="#000" stroke-width="0.3" textLength="14" lengthAdjust="spacingAndGlyphs">-30</text>
<text x="479.3" y="476.7" font-size="10.58" text-anchor="end" stroke="#000" stroke-width="0.3" textLength="14" lengthAdjust="spacingAndGlyphs">-40</text>
<text x="479.3" y="504.8" font-size="10.58" text-anchor="end" stroke="#000" stroke-width="0.3" textLength="14" lengthAdjust="spacingAndGlyphs">-50</text>
<text x="479.3" y="532.8" font-size="10.58" text-anchor="end" stroke="#000" stroke-width="0.3" textLength="14" lengthAdjust="spacingAndGlyphs">-60</text>
<text x="482.5" y="539.4" font-size="10.58" text-anchor="middle" stroke="#000" stroke-width="0.3" textLength="5.4" lengthAdjust="spacingAndGlyphs">0</text>
<text x="538.5" y="539.4" font-size="10.58" text-anchor="middle" stroke="#000" stroke-width="0.3" textLength="5.4" lengthAdjust="spacingAndGlyphs">5</text>
<text x="594.5" y="539.4" font-size="10.58" text-anchor="middle" stroke="#000" stroke-width="0.3" textLength="10.8" lengthAdjust="spacingAndGlyphs">10</text>
<text x="650.5" y="539.4" font-size="10.58" text-anchor="middle" stroke="#000" stroke-width="0.3" textLength="10.8" lengthAdjust="spacingAndGlyphs">15</text>
<text x="582.5" y="549.8" font-size="11.23" text-anchor="middle" stroke="#000" stroke-width="0.3" textLength="169.5" lengthAdjust="spacingAndGlyphs">Input optical power on UTC-PD (dBm)</text>
<text x="460.2" y="445" font-size="11.45" text-anchor="middle" stroke="#000" stroke-width="0.3" textLength="80" lengthAdjust="spacingAndGlyphs" transform="rotate(-90 460.2 445)">THz power (dBm)</text>
<path d="M512.9 397.2L518.7 394.2L518.7 400.2zM524.1 391.9L529.9 388.9L529.9 394.9zM535.3 387.1L541.1 384.1L541.1 390.1zM546.5 384.6L552.3 381.6L552.3 387.6zM557.7 380.6L563.5 377.6L563.5 383.6zM568.9 379.2L574.7 376.2L574.7 382.2zM580.1 377.8L585.9 374.8L585.9 380.8zM591.3 375.3L597.1 372.3L597.1 378.3zM602.5 373.1L608.3 370.1L608.3 376.1zM613.7 371.9L619.5 368.9L619.5 374.9zM624.9 370.5L630.7 367.5L630.7 373.5zM636.1 369.4L641.9 366.4L641.9 372.4zM647.3 368.9L653.1 365.9L653.1 371.9z" fill="#f26d6d"/>
<rect x="502.3" y="474" width="5.2" height="5.2" fill="#13237d"/>
<circle cx="504.9" cy="478.2" r="2.9" fill="#6d8fd0"/>
<path d="M504.9 476.9L508.2 482.8H501.6z" fill="#f7a436"/>
<path d="M504.9 487.7L508.2 481.8H501.6z" fill="#c3708f"/>
<path d="M504.9 485.5L508.3 488.9L504.9 492.3L501.5 488.9z" fill="#8fbb3f"/>
<rect x="524.7" y="462.2" width="5.2" height="5.2" fill="#13237d"/>
<circle cx="527.3" cy="466.2" r="2.9" fill="#6d8fd0"/>
<path d="M527.3 465.4L530.6 471.3H524z" fill="#f7a436"/>
<path d="M527.3 480.1L530.6 474.2H524z" fill="#c3708f"/>
<path d="M527.3 479.1L530.7 482.5L527.3 485.9L523.9 482.5z" fill="#8fbb3f"/>
<rect x="547.1" y="449" width="5.2" height="5.2" fill="#13237d"/>
<circle cx="549.7" cy="453.3" r="2.9" fill="#6d8fd0"/>
<path d="M549.7 454.2L553 460.1H546.4z" fill="#f7a436"/>
<path d="M549.7 472.3L553 466.4H546.4z" fill="#c3708f"/>
<path d="M549.7 469.2L553.1 472.6L549.7 476L546.3 472.6z" fill="#8fbb3f"/>
<rect x="569.5" y="439.2" width="5.2" height="5.2" fill="#13237d"/>
<circle cx="572.1" cy="443.2" r="2.9" fill="#6d8fd0"/>
<path d="M572.1 441.8L575.4 447.8H568.8z" fill="#f7a436"/>
<path d="M572.1 456.6L575.4 450.7H568.8z" fill="#c3708f"/>
<path d="M572.1 457.5L575.5 460.9L572.1 464.3L568.7 460.9z" fill="#8fbb3f"/>
<rect x="591.9" y="425.7" width="5.2" height="5.2" fill="#13237d"/>
<circle cx="594.5" cy="430" r="2.9" fill="#6d8fd0"/>
<path d="M594.5 429.8L597.8 435.7H591.2z" fill="#f7a436"/>
<path d="M594.5 443.4L597.8 437.5H591.2z" fill="#c3708f"/>
<path d="M594.5 445.1L597.9 448.5L594.5 451.9L591.1 448.5z" fill="#8fbb3f"/>
<rect x="614.3" y="413.9" width="5.2" height="5.2" fill="#13237d"/>
<circle cx="616.9" cy="418.2" r="2.9" fill="#6d8fd0"/>
<path d="M616.9 417.2L620.2 423.1H613.6z" fill="#f7a436"/>
<path d="M616.9 428.3L620.2 422.4H613.6z" fill="#c3708f"/>
<path d="M616.9 433.3L620.3 436.7L616.9 440.1L613.5 436.7z" fill="#8fbb3f"/>
<rect x="636.7" y="400.5" width="5.2" height="5.2" fill="#13237d"/>
<circle cx="639.3" cy="404.5" r="2.9" fill="#6d8fd0"/>
<path d="M639.3 403.4L642.6 409.3H636z" fill="#f7a436"/>
<path d="M639.3 415.4L642.6 409.5H636z" fill="#c3708f"/>
<path d="M639.3 419.3L642.7 422.7L639.3 426.1L635.9 422.7z" fill="#8fbb3f"/>
<rect x="659.1" y="384.2" width="5.2" height="5.2" fill="#13237d"/>
<circle cx="661.7" cy="388.8" r="2.9" fill="#6d8fd0"/>
<path d="M661.7 390L665 395.9H658.4z" fill="#f7a436"/>
<path d="M661.7 402.4L665 396.5H658.4z" fill="#c3708f"/>
<path d="M661.7 405.3L665.1 408.7L661.7 412.1L658.3 408.7z" fill="#8fbb3f"/>
<rect x="585.3" y="455.3" width="93" height="68.4" fill="#fff" stroke="#999" stroke-width="0.7"/>
<rect x="593.5" y="458.4" width="5.2" height="5.2" fill="#13237d"/>
<text x="608.8" y="463.9" font-size="8.64" stroke="#000" stroke-width="0.18" textLength="28.2" lengthAdjust="spacingAndGlyphs">283 GHz</text>
<circle cx="596.1" cy="472.4" r="2.9" fill="#6d8fd0"/>
<text x="608.8" y="475.3" font-size="8.64" stroke="#000" stroke-width="0.18" textLength="28.2" lengthAdjust="spacingAndGlyphs">303 GHz</text>
<path d="M596.1 480.5L599.4 486.4H592.8z" fill="#f7a436"/>
<text x="608.8" y="486.7" font-size="8.64" stroke="#000" stroke-width="0.18" textLength="28.2" lengthAdjust="spacingAndGlyphs">323 GHz</text>
<path d="M596.1 498.5L599.4 492.6H592.8z" fill="#c3708f"/>
<text x="608.8" y="498.1" font-size="8.64" stroke="#000" stroke-width="0.18" textLength="28.2" lengthAdjust="spacingAndGlyphs">343 GHz</text>
<path d="M596.1 503.2L599.5 506.6L596.1 510L592.7 506.6z" fill="#8fbb3f"/>
<text x="608.8" y="509.5" font-size="8.64" stroke="#000" stroke-width="0.18" textLength="28.2" lengthAdjust="spacingAndGlyphs">384 GHz</text>
<path d="M592.9 518L598.7 515L598.7 521z" fill="#f26d6d"/>
<text x="608.8" y="520.9" font-size="8.64" stroke="#000" stroke-width="0.18" textLength="68.4" lengthAdjust="spacingAndGlyphs">303 GHz (Amplified)</text>
</g>
</svg></body></html>
